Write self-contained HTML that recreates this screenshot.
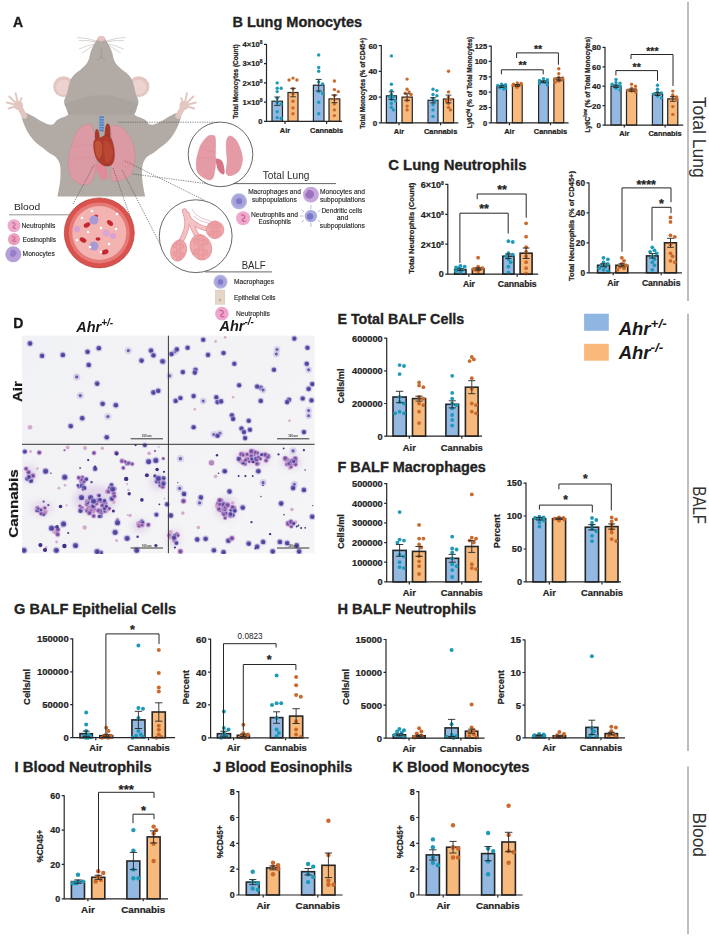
<!DOCTYPE html>
<html><head><meta charset="utf-8"><style>
html,body{margin:0;padding:0;background:#fff;width:709px;height:936px;overflow:hidden}
svg{display:block}
text{font-family:"Liberation Sans",sans-serif}
</style></head><body>
<svg width="709" height="936" viewBox="0 0 709 936">
<rect width="709" height="936" fill="#fff"/>
<rect x="272.0" y="101.2" width="10.5" height="20.2" fill="#93b9e3" stroke="#262626" stroke-width="1.2"/>
<rect x="288.0" y="92.5" width="10.0" height="28.9" fill="#f8b97c" stroke="#262626" stroke-width="1.2"/>
<rect x="313.4" y="85.2" width="10.6" height="36.2" fill="#93b9e3" stroke="#262626" stroke-width="1.2"/>
<rect x="329.0" y="98.9" width="10.8" height="22.5" fill="#f8b97c" stroke="#262626" stroke-width="1.2"/>
<circle cx="277.2" cy="82.9" r="1.7" fill="#1e9ab8"/>
<circle cx="277.2" cy="88.3" r="1.7" fill="#1e9ab8"/>
<circle cx="281.2" cy="88.3" r="1.7" fill="#1e9ab8"/>
<circle cx="277.2" cy="91.6" r="1.7" fill="#1e9ab8"/>
<circle cx="277.2" cy="98.3" r="1.7" fill="#1e9ab8"/>
<circle cx="277.2" cy="102.2" r="1.7" fill="#1e9ab8"/>
<circle cx="281.2" cy="104.1" r="1.7" fill="#1e9ab8"/>
<circle cx="277.2" cy="111.8" r="1.7" fill="#1e9ab8"/>
<circle cx="277.2" cy="117.6" r="1.7" fill="#1e9ab8"/>
<circle cx="281.2" cy="118.5" r="1.7" fill="#1e9ab8"/>
<circle cx="293.0" cy="78.1" r="1.7" fill="#c96a2c"/>
<circle cx="296.9" cy="80.0" r="1.7" fill="#c96a2c"/>
<circle cx="289.1" cy="80.0" r="1.7" fill="#c96a2c"/>
<circle cx="293.0" cy="88.7" r="1.7" fill="#c96a2c"/>
<circle cx="293.0" cy="93.5" r="1.7" fill="#c96a2c"/>
<circle cx="293.0" cy="101.2" r="1.7" fill="#c96a2c"/>
<circle cx="293.0" cy="107.9" r="1.7" fill="#c96a2c"/>
<circle cx="293.0" cy="113.7" r="1.7" fill="#c96a2c"/>
<circle cx="318.7" cy="55.0" r="1.7" fill="#1e9ab8"/>
<circle cx="318.7" cy="67.5" r="1.7" fill="#1e9ab8"/>
<circle cx="318.7" cy="71.3" r="1.7" fill="#1e9ab8"/>
<circle cx="318.7" cy="81.9" r="1.7" fill="#1e9ab8"/>
<circle cx="322.6" cy="83.9" r="1.7" fill="#1e9ab8"/>
<circle cx="318.7" cy="91.6" r="1.7" fill="#1e9ab8"/>
<circle cx="322.6" cy="93.5" r="1.7" fill="#1e9ab8"/>
<circle cx="318.7" cy="102.2" r="1.7" fill="#1e9ab8"/>
<circle cx="318.7" cy="113.7" r="1.7" fill="#1e9ab8"/>
<circle cx="334.4" cy="81.0" r="1.7" fill="#c96a2c"/>
<circle cx="334.4" cy="89.6" r="1.7" fill="#c96a2c"/>
<circle cx="338.3" cy="91.6" r="1.7" fill="#c96a2c"/>
<circle cx="334.4" cy="95.4" r="1.7" fill="#c96a2c"/>
<circle cx="334.4" cy="99.3" r="1.7" fill="#c96a2c"/>
<circle cx="334.4" cy="104.1" r="1.7" fill="#c96a2c"/>
<circle cx="334.4" cy="109.9" r="1.7" fill="#c96a2c"/>
<circle cx="334.4" cy="115.6" r="1.7" fill="#c96a2c"/>
<path d="M277.2 97.0V105.4M274.3 97.0H280.2M274.3 105.4H280.2" stroke="#262626" stroke-width="0.9" fill="none"/>
<path d="M293.0 88.3V96.8M290.2 88.3H295.8M290.2 96.8H295.8" stroke="#262626" stroke-width="0.9" fill="none"/>
<path d="M318.7 79.4V91.0M315.7 79.4H321.7M315.7 91.0H321.7" stroke="#262626" stroke-width="0.9" fill="none"/>
<path d="M334.4 95.0V102.7M331.4 95.0H337.4M331.4 102.7H337.4" stroke="#262626" stroke-width="0.9" fill="none"/>
<path d="M266.5 43.9V121.4H342.0M264.0 121.4H266.5M264.0 102.2H266.5M264.0 82.9H266.5M264.0 63.7H266.5M264.0 44.4H266.5M285.0 121.4V123.9M326.6 121.4V123.9" stroke="#262626" stroke-width="1.2" fill="none"/>
<text x="262.5" y="124.1" font-size="7.6" font-weight="bold" text-anchor="end" fill="#222"  stroke="#222" stroke-width="0.22">0</text>
<text x="262.5" y="104.9" font-size="7.6" font-weight="bold" text-anchor="end" fill="#222"  stroke="#222" stroke-width="0.22">1×10<tspan dy="-3" font-size="5">8</tspan></text>
<text x="262.5" y="85.6" font-size="7.6" font-weight="bold" text-anchor="end" fill="#222"  stroke="#222" stroke-width="0.22">2×10<tspan dy="-3" font-size="5">8</tspan></text>
<text x="262.5" y="66.4" font-size="7.6" font-weight="bold" text-anchor="end" fill="#222"  stroke="#222" stroke-width="0.22">3×10<tspan dy="-3" font-size="5">8</tspan></text>
<text x="262.5" y="47.1" font-size="7.6" font-weight="bold" text-anchor="end" fill="#222"  stroke="#222" stroke-width="0.22">4×10<tspan dy="-3" font-size="5">8</tspan></text>
<text x="285.0" y="133.0" font-size="7.4" font-weight="bold" text-anchor="middle" fill="#222"  stroke="#222" stroke-width="0.22">Air</text>
<text x="326.6" y="133.0" font-size="7.4" font-weight="bold" text-anchor="middle" fill="#222" textLength="33" lengthAdjust="spacingAndGlyphs"  stroke="#222" stroke-width="0.22">Cannabis</text>
<g transform="translate(235.5,81.6) rotate(-90)"><text x="0.0" y="2.3" font-size="6.5" font-weight="bold" text-anchor="middle" fill="#222" textLength="74.5" lengthAdjust="spacingAndGlyphs"  stroke="#222" stroke-width="0.22">Total Monocytes (Count)</text></g>
<rect x="386.4" y="95.8" width="10.1" height="27.0" fill="#93b9e3" stroke="#262626" stroke-width="1.2"/>
<rect x="402.0" y="97.1" width="10.3" height="25.7" fill="#f8b97c" stroke="#262626" stroke-width="1.2"/>
<rect x="428.0" y="100.3" width="10.0" height="22.5" fill="#93b9e3" stroke="#262626" stroke-width="1.2"/>
<rect x="443.4" y="99.0" width="10.2" height="23.8" fill="#f8b97c" stroke="#262626" stroke-width="1.2"/>
<circle cx="391.4" cy="55.9" r="1.7" fill="#1e9ab8"/>
<circle cx="391.4" cy="84.2" r="1.7" fill="#1e9ab8"/>
<circle cx="391.4" cy="90.6" r="1.7" fill="#1e9ab8"/>
<circle cx="391.4" cy="94.5" r="1.7" fill="#1e9ab8"/>
<circle cx="393.4" cy="97.1" r="1.7" fill="#1e9ab8"/>
<circle cx="389.5" cy="97.1" r="1.7" fill="#1e9ab8"/>
<circle cx="391.4" cy="99.6" r="1.7" fill="#1e9ab8"/>
<circle cx="395.4" cy="100.9" r="1.7" fill="#1e9ab8"/>
<circle cx="391.4" cy="103.5" r="1.7" fill="#1e9ab8"/>
<circle cx="391.4" cy="107.4" r="1.7" fill="#1e9ab8"/>
<circle cx="393.4" cy="109.9" r="1.7" fill="#1e9ab8"/>
<circle cx="407.1" cy="79.1" r="1.7" fill="#c96a2c"/>
<circle cx="407.1" cy="89.3" r="1.7" fill="#c96a2c"/>
<circle cx="409.1" cy="91.9" r="1.7" fill="#c96a2c"/>
<circle cx="405.2" cy="93.2" r="1.7" fill="#c96a2c"/>
<circle cx="411.1" cy="94.5" r="1.7" fill="#c96a2c"/>
<circle cx="407.1" cy="97.1" r="1.7" fill="#c96a2c"/>
<circle cx="407.1" cy="100.9" r="1.7" fill="#c96a2c"/>
<circle cx="407.1" cy="106.1" r="1.7" fill="#c96a2c"/>
<circle cx="407.1" cy="109.9" r="1.7" fill="#c96a2c"/>
<circle cx="433.0" cy="89.3" r="1.7" fill="#1e9ab8"/>
<circle cx="436.9" cy="90.6" r="1.7" fill="#1e9ab8"/>
<circle cx="433.0" cy="94.5" r="1.7" fill="#1e9ab8"/>
<circle cx="436.9" cy="95.8" r="1.7" fill="#1e9ab8"/>
<circle cx="433.0" cy="98.4" r="1.7" fill="#1e9ab8"/>
<circle cx="435.0" cy="100.9" r="1.7" fill="#1e9ab8"/>
<circle cx="433.0" cy="104.8" r="1.7" fill="#1e9ab8"/>
<circle cx="433.0" cy="109.9" r="1.7" fill="#1e9ab8"/>
<circle cx="433.0" cy="116.4" r="1.7" fill="#1e9ab8"/>
<circle cx="448.5" cy="71.3" r="1.7" fill="#c96a2c"/>
<circle cx="448.5" cy="91.9" r="1.7" fill="#c96a2c"/>
<circle cx="448.5" cy="97.1" r="1.7" fill="#c96a2c"/>
<circle cx="450.5" cy="99.6" r="1.7" fill="#c96a2c"/>
<circle cx="446.5" cy="100.9" r="1.7" fill="#c96a2c"/>
<circle cx="448.5" cy="103.5" r="1.7" fill="#c96a2c"/>
<circle cx="448.5" cy="107.4" r="1.7" fill="#c96a2c"/>
<circle cx="450.5" cy="109.9" r="1.7" fill="#c96a2c"/>
<path d="M391.4 91.9V99.6M388.6 91.9H394.3M388.6 99.6H394.3" stroke="#262626" stroke-width="0.9" fill="none"/>
<path d="M407.1 93.8V100.3M404.3 93.8H410.0M404.3 100.3H410.0" stroke="#262626" stroke-width="0.9" fill="none"/>
<path d="M433.0 97.7V102.9M430.2 97.7H435.8M430.2 102.9H435.8" stroke="#262626" stroke-width="0.9" fill="none"/>
<path d="M448.5 95.1V102.9M445.6 95.1H451.4M445.6 102.9H451.4" stroke="#262626" stroke-width="0.9" fill="none"/>
<path d="M381.3 45.1V122.8H458.3M378.8 122.8H381.3M378.8 97.1H381.3M378.8 71.3H381.3M378.8 45.6H381.3M399.0 122.8V125.3M440.6 122.8V125.3" stroke="#262626" stroke-width="1.2" fill="none"/>
<text x="377.3" y="125.7" font-size="8" font-weight="bold" text-anchor="end" fill="#222"  stroke="#222" stroke-width="0.22">0</text>
<text x="377.3" y="99.9" font-size="8" font-weight="bold" text-anchor="end" fill="#222"  stroke="#222" stroke-width="0.22">20</text>
<text x="377.3" y="74.2" font-size="8" font-weight="bold" text-anchor="end" fill="#222"  stroke="#222" stroke-width="0.22">40</text>
<text x="377.3" y="48.5" font-size="8" font-weight="bold" text-anchor="end" fill="#222"  stroke="#222" stroke-width="0.22">60</text>
<text x="399.0" y="134.0" font-size="7.4" font-weight="bold" text-anchor="middle" fill="#222"  stroke="#222" stroke-width="0.22">Air</text>
<text x="440.6" y="134.0" font-size="7.4" font-weight="bold" text-anchor="middle" fill="#222" textLength="33.4" lengthAdjust="spacingAndGlyphs"  stroke="#222" stroke-width="0.22">Cannabis</text>
<g transform="translate(362.7,83.3) rotate(-90)"><text x="0.0" y="2.3" font-size="6.5" font-weight="bold" text-anchor="middle" fill="#222" textLength="91" lengthAdjust="spacingAndGlyphs"  stroke="#222" stroke-width="0.22">Total Monocytes (% of CD45+)</text></g>
<rect x="496.8" y="86.6" width="9.7" height="36.2" fill="#93b9e3" stroke="#262626" stroke-width="1.2"/>
<rect x="512.4" y="85.4" width="9.8" height="37.4" fill="#f8b97c" stroke="#262626" stroke-width="1.2"/>
<rect x="538.6" y="81.7" width="9.7" height="41.1" fill="#93b9e3" stroke="#262626" stroke-width="1.2"/>
<rect x="553.9" y="79.2" width="9.8" height="43.6" fill="#f8b97c" stroke="#262626" stroke-width="1.2"/>
<circle cx="501.6" cy="84.1" r="1.7" fill="#1e9ab8"/>
<circle cx="505.6" cy="84.8" r="1.7" fill="#1e9ab8"/>
<circle cx="497.7" cy="85.4" r="1.7" fill="#1e9ab8"/>
<circle cx="502.7" cy="86.0" r="1.7" fill="#1e9ab8"/>
<circle cx="503.8" cy="86.0" r="1.7" fill="#1e9ab8"/>
<circle cx="504.2" cy="87.2" r="1.7" fill="#1e9ab8"/>
<circle cx="499.7" cy="87.8" r="1.7" fill="#1e9ab8"/>
<circle cx="505.5" cy="88.4" r="1.7" fill="#1e9ab8"/>
<circle cx="503.7" cy="89.1" r="1.7" fill="#1e9ab8"/>
<circle cx="517.3" cy="82.9" r="1.7" fill="#c96a2c"/>
<circle cx="521.2" cy="83.5" r="1.7" fill="#c96a2c"/>
<circle cx="513.4" cy="84.1" r="1.7" fill="#c96a2c"/>
<circle cx="521.0" cy="84.8" r="1.7" fill="#c96a2c"/>
<circle cx="513.1" cy="85.4" r="1.7" fill="#c96a2c"/>
<circle cx="517.3" cy="86.0" r="1.7" fill="#c96a2c"/>
<circle cx="517.0" cy="87.2" r="1.7" fill="#c96a2c"/>
<circle cx="543.5" cy="78.6" r="1.7" fill="#1e9ab8"/>
<circle cx="547.4" cy="79.8" r="1.7" fill="#1e9ab8"/>
<circle cx="539.5" cy="80.5" r="1.7" fill="#1e9ab8"/>
<circle cx="547.3" cy="81.1" r="1.7" fill="#1e9ab8"/>
<circle cx="543.5" cy="81.7" r="1.7" fill="#1e9ab8"/>
<circle cx="544.8" cy="82.3" r="1.7" fill="#1e9ab8"/>
<circle cx="539.5" cy="83.5" r="1.7" fill="#1e9ab8"/>
<circle cx="547.4" cy="84.8" r="1.7" fill="#1e9ab8"/>
<circle cx="558.8" cy="68.8" r="1.7" fill="#c96a2c"/>
<circle cx="558.8" cy="73.7" r="1.7" fill="#c96a2c"/>
<circle cx="558.8" cy="77.4" r="1.7" fill="#c96a2c"/>
<circle cx="562.7" cy="78.0" r="1.7" fill="#c96a2c"/>
<circle cx="554.9" cy="78.6" r="1.7" fill="#c96a2c"/>
<circle cx="562.3" cy="79.8" r="1.7" fill="#c96a2c"/>
<circle cx="558.8" cy="81.1" r="1.7" fill="#c96a2c"/>
<circle cx="554.9" cy="82.3" r="1.7" fill="#c96a2c"/>
<path d="M501.6 85.7V87.5M498.9 85.7H504.4M498.9 87.5H504.4" stroke="#262626" stroke-width="0.9" fill="none"/>
<path d="M517.3 84.5V86.3M514.6 84.5H520.0M514.6 86.3H520.0" stroke="#262626" stroke-width="0.9" fill="none"/>
<path d="M543.5 80.8V82.6M540.7 80.8H546.2M540.7 82.6H546.2" stroke="#262626" stroke-width="0.9" fill="none"/>
<path d="M558.8 77.7V80.8M556.1 77.7H561.5M556.1 80.8H561.5" stroke="#262626" stroke-width="0.9" fill="none"/>
<path d="M491.2 45.6V122.8H568.6M488.7 122.8H491.2M488.7 107.5H491.2M488.7 92.1H491.2M488.7 76.8H491.2M488.7 61.4H491.2M488.7 46.1H491.2M509.4 122.8V125.3M550.5 122.8V125.3" stroke="#262626" stroke-width="1.2" fill="none"/>
<text x="487.2" y="125.5" font-size="7.5" font-weight="bold" text-anchor="end" fill="#222"  stroke="#222" stroke-width="0.22">0</text>
<text x="487.2" y="110.2" font-size="7.5" font-weight="bold" text-anchor="end" fill="#222"  stroke="#222" stroke-width="0.22">25</text>
<text x="487.2" y="94.8" font-size="7.5" font-weight="bold" text-anchor="end" fill="#222"  stroke="#222" stroke-width="0.22">50</text>
<text x="487.2" y="79.5" font-size="7.5" font-weight="bold" text-anchor="end" fill="#222"  stroke="#222" stroke-width="0.22">75</text>
<text x="487.2" y="64.1" font-size="7.5" font-weight="bold" text-anchor="end" fill="#222"  stroke="#222" stroke-width="0.22">100</text>
<text x="487.2" y="48.8" font-size="7.5" font-weight="bold" text-anchor="end" fill="#222"  stroke="#222" stroke-width="0.22">125</text>
<text x="509.4" y="134.0" font-size="7.4" font-weight="bold" text-anchor="middle" fill="#222"  stroke="#222" stroke-width="0.22">Air</text>
<text x="550.5" y="134.0" font-size="7.4" font-weight="bold" text-anchor="middle" fill="#222" textLength="33.4" lengthAdjust="spacingAndGlyphs"  stroke="#222" stroke-width="0.22">Cannabis</text>
<g transform="translate(469.7,82.5) rotate(-90)"><text x="0.0" y="2.3" font-size="6.5" font-weight="bold" text-anchor="middle" fill="#222" textLength="91.4" lengthAdjust="spacingAndGlyphs"  stroke="#222" stroke-width="0.22">Ly6C<tspan dy="-2.5" font-size="4.5">hi</tspan><tspan dy="2.5"> (% of Total Monocytes)</tspan></text></g>
<path d="M501.4 74.3V69.8H543.2V74.3" stroke="#262626" stroke-width="1" fill="none"/>
<text x="522.5" y="69.2" font-size="10.5" font-weight="bold" text-anchor="middle" fill="#222"  stroke="#222" stroke-width="0.22">**</text>
<path d="M516.6 58.0V52.9H558.4V64.7" stroke="#262626" stroke-width="1" fill="none"/>
<text x="538.0" y="53.1" font-size="10.5" font-weight="bold" text-anchor="middle" fill="#222"  stroke="#222" stroke-width="0.22">**</text>
<rect x="611.0" y="86.2" width="10.1" height="38.8" fill="#93b9e3" stroke="#262626" stroke-width="1.2"/>
<rect x="626.5" y="90.1" width="10.2" height="35.0" fill="#f8b97c" stroke="#262626" stroke-width="1.2"/>
<rect x="652.4" y="94.0" width="10.2" height="31.1" fill="#93b9e3" stroke="#262626" stroke-width="1.2"/>
<rect x="667.7" y="98.9" width="10.1" height="26.2" fill="#f8b97c" stroke="#262626" stroke-width="1.2"/>
<circle cx="616.0" cy="79.5" r="1.7" fill="#1e9ab8"/>
<circle cx="616.0" cy="82.4" r="1.7" fill="#1e9ab8"/>
<circle cx="620.0" cy="83.3" r="1.7" fill="#1e9ab8"/>
<circle cx="612.1" cy="84.3" r="1.7" fill="#1e9ab8"/>
<circle cx="616.0" cy="85.3" r="1.7" fill="#1e9ab8"/>
<circle cx="620.0" cy="86.2" r="1.7" fill="#1e9ab8"/>
<circle cx="616.0" cy="88.2" r="1.7" fill="#1e9ab8"/>
<circle cx="620.0" cy="90.1" r="1.7" fill="#1e9ab8"/>
<circle cx="631.6" cy="84.3" r="1.7" fill="#c96a2c"/>
<circle cx="635.5" cy="86.2" r="1.7" fill="#c96a2c"/>
<circle cx="631.6" cy="88.2" r="1.7" fill="#c96a2c"/>
<circle cx="635.5" cy="89.2" r="1.7" fill="#c96a2c"/>
<circle cx="627.7" cy="90.1" r="1.7" fill="#c96a2c"/>
<circle cx="631.6" cy="91.1" r="1.7" fill="#c96a2c"/>
<circle cx="635.5" cy="92.1" r="1.7" fill="#c96a2c"/>
<circle cx="657.5" cy="85.3" r="1.7" fill="#1e9ab8"/>
<circle cx="657.5" cy="89.2" r="1.7" fill="#1e9ab8"/>
<circle cx="657.5" cy="92.1" r="1.7" fill="#1e9ab8"/>
<circle cx="661.4" cy="93.0" r="1.7" fill="#1e9ab8"/>
<circle cx="653.6" cy="94.0" r="1.7" fill="#1e9ab8"/>
<circle cx="657.5" cy="96.0" r="1.7" fill="#1e9ab8"/>
<circle cx="661.4" cy="97.9" r="1.7" fill="#1e9ab8"/>
<circle cx="672.8" cy="91.1" r="1.7" fill="#c96a2c"/>
<circle cx="672.8" cy="95.0" r="1.7" fill="#c96a2c"/>
<circle cx="676.7" cy="96.9" r="1.7" fill="#c96a2c"/>
<circle cx="672.8" cy="97.9" r="1.7" fill="#c96a2c"/>
<circle cx="676.7" cy="99.8" r="1.7" fill="#c96a2c"/>
<circle cx="672.8" cy="106.6" r="1.7" fill="#c96a2c"/>
<circle cx="672.8" cy="114.4" r="1.7" fill="#c96a2c"/>
<path d="M616.0 85.1V87.4M613.2 85.1H618.9M613.2 87.4H618.9" stroke="#262626" stroke-width="0.9" fill="none"/>
<path d="M631.6 89.0V91.3M628.7 89.0H634.5M628.7 91.3H634.5" stroke="#262626" stroke-width="0.9" fill="none"/>
<path d="M657.5 92.6V95.5M654.6 92.6H660.4M654.6 95.5H660.4" stroke="#262626" stroke-width="0.9" fill="none"/>
<path d="M672.8 96.4V101.3M669.9 96.4H675.6M669.9 101.3H675.6" stroke="#262626" stroke-width="0.9" fill="none"/>
<path d="M605.0 46.9V125.1H683.3M602.5 125.1H605.0M602.5 105.7H605.0M602.5 86.2H605.0M602.5 66.8H605.0M602.5 47.4H605.0M624.3 125.1V127.6M665.1 125.1V127.6" stroke="#262626" stroke-width="1.2" fill="none"/>
<text x="601.0" y="128.0" font-size="8" font-weight="bold" text-anchor="end" fill="#222"  stroke="#222" stroke-width="0.22">0</text>
<text x="601.0" y="108.6" font-size="8" font-weight="bold" text-anchor="end" fill="#222"  stroke="#222" stroke-width="0.22">20</text>
<text x="601.0" y="89.1" font-size="8" font-weight="bold" text-anchor="end" fill="#222"  stroke="#222" stroke-width="0.22">40</text>
<text x="601.0" y="69.7" font-size="8" font-weight="bold" text-anchor="end" fill="#222"  stroke="#222" stroke-width="0.22">60</text>
<text x="601.0" y="50.3" font-size="8" font-weight="bold" text-anchor="end" fill="#222"  stroke="#222" stroke-width="0.22">80</text>
<text x="624.3" y="136.0" font-size="7.4" font-weight="bold" text-anchor="middle" fill="#222"  stroke="#222" stroke-width="0.22">Air</text>
<text x="665.1" y="136.0" font-size="7.4" font-weight="bold" text-anchor="middle" fill="#222" textLength="33.3" lengthAdjust="spacingAndGlyphs"  stroke="#222" stroke-width="0.22">Cannabis</text>
<g transform="translate(587.6,84.6) rotate(-90)"><text x="0.0" y="2.3" font-size="6.5" font-weight="bold" text-anchor="middle" fill="#222" textLength="95.6" lengthAdjust="spacingAndGlyphs"  stroke="#222" stroke-width="0.22">Ly6C<tspan dy="-2.5" font-size="4.5">low</tspan><tspan dy="2.5"> (% of Total Monocytes)</tspan></text></g>
<path d="M615.9 75.4V70.6H657.5V80.8" stroke="#262626" stroke-width="1" fill="none"/>
<text x="636.7" y="70.8" font-size="10.5" font-weight="bold" text-anchor="middle" fill="#222"  stroke="#222" stroke-width="0.22">**</text>
<path d="M631.0 59.0V54.5H673.0V85.9" stroke="#262626" stroke-width="1" fill="none"/>
<text x="652.4" y="54.8" font-size="10.5" font-weight="bold" text-anchor="middle" fill="#222"  stroke="#222" stroke-width="0.22">***</text>
<rect x="454.7" y="269.7" width="11.3" height="4.5" fill="#93b9e3" stroke="#262626" stroke-width="1.6"/>
<rect x="472.3" y="269.0" width="11.7" height="5.2" fill="#f8b97c" stroke="#262626" stroke-width="1.6"/>
<rect x="502.8" y="256.2" width="11.2" height="18.0" fill="#93b9e3" stroke="#262626" stroke-width="1.6"/>
<rect x="520.1" y="253.2" width="12.0" height="21.0" fill="#f8b97c" stroke="#262626" stroke-width="1.6"/>
<circle cx="460.4" cy="266.0" r="1.9" fill="#1e9ab8"/>
<circle cx="464.7" cy="266.7" r="1.9" fill="#1e9ab8"/>
<circle cx="456.0" cy="267.5" r="1.9" fill="#1e9ab8"/>
<circle cx="458.6" cy="268.2" r="1.9" fill="#1e9ab8"/>
<circle cx="462.5" cy="269.7" r="1.9" fill="#1e9ab8"/>
<circle cx="456.0" cy="271.2" r="1.9" fill="#1e9ab8"/>
<circle cx="460.4" cy="272.7" r="1.9" fill="#1e9ab8"/>
<circle cx="478.1" cy="257.7" r="1.9" fill="#c96a2c"/>
<circle cx="478.1" cy="266.7" r="1.9" fill="#c96a2c"/>
<circle cx="482.5" cy="268.2" r="1.9" fill="#c96a2c"/>
<circle cx="473.8" cy="269.0" r="1.9" fill="#c96a2c"/>
<circle cx="474.5" cy="269.7" r="1.9" fill="#c96a2c"/>
<circle cx="478.1" cy="271.2" r="1.9" fill="#c96a2c"/>
<circle cx="508.4" cy="241.2" r="1.9" fill="#1e9ab8"/>
<circle cx="512.8" cy="242.0" r="1.9" fill="#1e9ab8"/>
<circle cx="508.4" cy="253.2" r="1.9" fill="#1e9ab8"/>
<circle cx="512.8" cy="254.7" r="1.9" fill="#1e9ab8"/>
<circle cx="506.2" cy="256.2" r="1.9" fill="#1e9ab8"/>
<circle cx="508.4" cy="259.2" r="1.9" fill="#1e9ab8"/>
<circle cx="510.6" cy="262.2" r="1.9" fill="#1e9ab8"/>
<circle cx="508.4" cy="266.7" r="1.9" fill="#1e9ab8"/>
<circle cx="508.4" cy="272.7" r="1.9" fill="#1e9ab8"/>
<circle cx="526.1" cy="223.3" r="1.9" fill="#c96a2c"/>
<circle cx="526.1" cy="236.7" r="1.9" fill="#c96a2c"/>
<circle cx="526.1" cy="247.2" r="1.9" fill="#c96a2c"/>
<circle cx="526.1" cy="251.7" r="1.9" fill="#c96a2c"/>
<circle cx="526.1" cy="256.2" r="1.9" fill="#c96a2c"/>
<circle cx="526.1" cy="262.2" r="1.9" fill="#c96a2c"/>
<circle cx="526.1" cy="268.2" r="1.9" fill="#c96a2c"/>
<circle cx="526.1" cy="273.5" r="1.9" fill="#c96a2c"/>
<path d="M460.4 268.8V270.6M457.2 268.8H463.5M457.2 270.6H463.5" stroke="#262626" stroke-width="0.9" fill="none"/>
<path d="M478.1 267.8V270.2M474.9 267.8H481.4M474.9 270.2H481.4" stroke="#262626" stroke-width="0.9" fill="none"/>
<path d="M508.4 254.0V258.5M505.3 254.0H511.5M505.3 258.5H511.5" stroke="#262626" stroke-width="0.9" fill="none"/>
<path d="M526.1 248.0V258.5M522.7 248.0H529.5M522.7 258.5H529.5" stroke="#262626" stroke-width="0.9" fill="none"/>
<path d="M447.8 183.8V274.2H538.2M445.3 274.2H447.8M445.3 244.2H447.8M445.3 214.3H447.8M445.3 184.3H447.8M468.9 274.2V276.7M517.2 274.2V276.7" stroke="#262626" stroke-width="1.2" fill="none"/>
<text x="443.8" y="277.4" font-size="9" font-weight="bold" text-anchor="end" fill="#222"  stroke="#222" stroke-width="0.22">0</text>
<text x="443.8" y="247.5" font-size="9" font-weight="bold" text-anchor="end" fill="#222"  stroke="#222" stroke-width="0.22">2×10<tspan dy="-3" font-size="5">8</tspan></text>
<text x="443.8" y="217.5" font-size="9" font-weight="bold" text-anchor="end" fill="#222"  stroke="#222" stroke-width="0.22">4×10<tspan dy="-3" font-size="5">8</tspan></text>
<text x="443.8" y="187.5" font-size="9" font-weight="bold" text-anchor="end" fill="#222"  stroke="#222" stroke-width="0.22">6×10<tspan dy="-3" font-size="5">8</tspan></text>
<text x="468.9" y="287.2" font-size="8.6" font-weight="bold" text-anchor="middle" fill="#222"  stroke="#222" stroke-width="0.22">Air</text>
<text x="517.2" y="287.2" font-size="8.6" font-weight="bold" text-anchor="middle" fill="#222" textLength="39" lengthAdjust="spacingAndGlyphs"  stroke="#222" stroke-width="0.22">Cannabis</text>
<g transform="translate(411.5,228.2) rotate(-90)"><text x="0.0" y="2.7" font-size="7.4" font-weight="bold" text-anchor="middle" fill="#222" textLength="91" lengthAdjust="spacingAndGlyphs"  stroke="#222" stroke-width="0.22">Total Neutrophils (Count)</text></g>
<path d="M459.9 262.9V213.2H508.2V233.5" stroke="#262626" stroke-width="1" fill="none"/>
<text x="484.0" y="213.2" font-size="12.5" font-weight="bold" text-anchor="middle" fill="#222"  stroke="#222" stroke-width="0.22">**</text>
<path d="M477.2 199.2V194.0H526.2V217.7" stroke="#262626" stroke-width="1" fill="none"/>
<text x="502.0" y="194.3" font-size="12.5" font-weight="bold" text-anchor="middle" fill="#222"  stroke="#222" stroke-width="0.22">**</text>
<rect x="597.6" y="265.3" width="11.9" height="7.5" fill="#93b9e3" stroke="#262626" stroke-width="1.6"/>
<rect x="615.9" y="265.3" width="11.9" height="7.5" fill="#f8b97c" stroke="#262626" stroke-width="1.6"/>
<rect x="646.5" y="255.9" width="11.6" height="16.9" fill="#93b9e3" stroke="#262626" stroke-width="1.6"/>
<rect x="664.5" y="242.8" width="11.9" height="30.0" fill="#f8b97c" stroke="#262626" stroke-width="1.6"/>
<circle cx="603.5" cy="257.8" r="1.9" fill="#1e9ab8"/>
<circle cx="607.9" cy="259.3" r="1.9" fill="#1e9ab8"/>
<circle cx="603.5" cy="262.3" r="1.9" fill="#1e9ab8"/>
<circle cx="607.9" cy="263.8" r="1.9" fill="#1e9ab8"/>
<circle cx="601.4" cy="265.3" r="1.9" fill="#1e9ab8"/>
<circle cx="605.7" cy="266.8" r="1.9" fill="#1e9ab8"/>
<circle cx="599.2" cy="268.3" r="1.9" fill="#1e9ab8"/>
<circle cx="603.5" cy="269.8" r="1.9" fill="#1e9ab8"/>
<circle cx="607.9" cy="271.3" r="1.9" fill="#1e9ab8"/>
<circle cx="621.8" cy="257.8" r="1.9" fill="#c96a2c"/>
<circle cx="624.0" cy="260.8" r="1.9" fill="#c96a2c"/>
<circle cx="621.8" cy="263.8" r="1.9" fill="#c96a2c"/>
<circle cx="626.2" cy="265.3" r="1.9" fill="#c96a2c"/>
<circle cx="619.7" cy="266.8" r="1.9" fill="#c96a2c"/>
<circle cx="624.0" cy="268.3" r="1.9" fill="#c96a2c"/>
<circle cx="617.5" cy="269.8" r="1.9" fill="#c96a2c"/>
<circle cx="652.3" cy="247.3" r="1.9" fill="#1e9ab8"/>
<circle cx="654.5" cy="250.3" r="1.9" fill="#1e9ab8"/>
<circle cx="650.1" cy="251.8" r="1.9" fill="#1e9ab8"/>
<circle cx="656.7" cy="253.3" r="1.9" fill="#1e9ab8"/>
<circle cx="652.3" cy="256.3" r="1.9" fill="#1e9ab8"/>
<circle cx="654.5" cy="259.3" r="1.9" fill="#1e9ab8"/>
<circle cx="652.3" cy="262.3" r="1.9" fill="#1e9ab8"/>
<circle cx="654.5" cy="265.3" r="1.9" fill="#1e9ab8"/>
<circle cx="652.3" cy="269.8" r="1.9" fill="#1e9ab8"/>
<circle cx="670.5" cy="217.4" r="1.9" fill="#c96a2c"/>
<circle cx="670.5" cy="221.9" r="1.9" fill="#c96a2c"/>
<circle cx="670.5" cy="235.3" r="1.9" fill="#c96a2c"/>
<circle cx="674.8" cy="236.8" r="1.9" fill="#c96a2c"/>
<circle cx="670.5" cy="244.3" r="1.9" fill="#c96a2c"/>
<circle cx="670.5" cy="253.3" r="1.9" fill="#c96a2c"/>
<circle cx="672.6" cy="256.3" r="1.9" fill="#c96a2c"/>
<circle cx="670.5" cy="260.8" r="1.9" fill="#c96a2c"/>
<circle cx="674.8" cy="262.3" r="1.9" fill="#c96a2c"/>
<path d="M603.5 263.8V266.8M600.2 263.8H606.9M600.2 266.8H606.9" stroke="#262626" stroke-width="0.9" fill="none"/>
<path d="M621.8 263.8V266.8M618.5 263.8H625.2M618.5 266.8H625.2" stroke="#262626" stroke-width="0.9" fill="none"/>
<path d="M652.3 253.6V258.1M649.1 253.6H655.5M649.1 258.1H655.5" stroke="#262626" stroke-width="0.9" fill="none"/>
<path d="M670.5 238.3V247.3M667.1 238.3H673.8M667.1 247.3H673.8" stroke="#262626" stroke-width="0.9" fill="none"/>
<path d="M589.0 182.4V272.8H681.9M586.5 272.8H589.0M586.5 242.8H589.0M586.5 212.9H589.0M586.5 182.9H589.0M613.2 272.8V275.3M661.2 272.8V275.3" stroke="#262626" stroke-width="1.2" fill="none"/>
<text x="585.0" y="275.8" font-size="8.3" font-weight="bold" text-anchor="end" fill="#222"  stroke="#222" stroke-width="0.22">0</text>
<text x="585.0" y="245.8" font-size="8.3" font-weight="bold" text-anchor="end" fill="#222"  stroke="#222" stroke-width="0.22">20</text>
<text x="585.0" y="215.9" font-size="8.3" font-weight="bold" text-anchor="end" fill="#222"  stroke="#222" stroke-width="0.22">40</text>
<text x="585.0" y="185.9" font-size="8.3" font-weight="bold" text-anchor="end" fill="#222"  stroke="#222" stroke-width="0.22">60</text>
<text x="613.2" y="285.6" font-size="8.6" font-weight="bold" text-anchor="middle" fill="#222"  stroke="#222" stroke-width="0.22">Air</text>
<text x="661.2" y="285.6" font-size="8.6" font-weight="bold" text-anchor="middle" fill="#222" textLength="38.5" lengthAdjust="spacingAndGlyphs"  stroke="#222" stroke-width="0.22">Cannabis</text>
<g transform="translate(571.4,226.0) rotate(-90)"><text x="0.0" y="2.7" font-size="7.4" font-weight="bold" text-anchor="middle" fill="#222" textLength="110" lengthAdjust="spacingAndGlyphs"  stroke="#222" stroke-width="0.22">Total Neutrophils (% of CD45+)</text></g>
<path d="M622.0 251.7V187.9H671.0V202.2" stroke="#262626" stroke-width="1" fill="none"/>
<text x="646.2" y="189.2" font-size="12.5" font-weight="bold" text-anchor="middle" fill="#222"  stroke="#222" stroke-width="0.22">****</text>
<path d="M652.0 240.7V207.3H671.0V213.2" stroke="#262626" stroke-width="1" fill="none"/>
<text x="661.4" y="207.6" font-size="12.5" font-weight="bold" text-anchor="middle" fill="#222"  stroke="#222" stroke-width="0.22">*</text>
<rect x="393.0" y="397.0" width="13.2" height="39.2" fill="#93b9e3" stroke="#262626" stroke-width="1.6"/>
<rect x="412.5" y="398.6" width="13.1" height="37.6" fill="#f8b97c" stroke="#262626" stroke-width="1.6"/>
<rect x="445.9" y="404.3" width="12.7" height="31.9" fill="#93b9e3" stroke="#262626" stroke-width="1.6"/>
<rect x="465.4" y="387.2" width="12.7" height="49.0" fill="#f8b97c" stroke="#262626" stroke-width="1.6"/>
<circle cx="399.6" cy="365.1" r="1.9" fill="#1e9ab8"/>
<circle cx="404.0" cy="366.0" r="1.9" fill="#1e9ab8"/>
<circle cx="399.6" cy="374.1" r="1.9" fill="#1e9ab8"/>
<circle cx="399.6" cy="397.0" r="1.9" fill="#1e9ab8"/>
<circle cx="399.6" cy="401.9" r="1.9" fill="#1e9ab8"/>
<circle cx="404.0" cy="403.5" r="1.9" fill="#1e9ab8"/>
<circle cx="399.6" cy="411.7" r="1.9" fill="#1e9ab8"/>
<circle cx="404.0" cy="413.3" r="1.9" fill="#1e9ab8"/>
<circle cx="395.2" cy="413.3" r="1.9" fill="#1e9ab8"/>
<circle cx="419.1" cy="382.3" r="1.9" fill="#c96a2c"/>
<circle cx="419.1" cy="385.6" r="1.9" fill="#c96a2c"/>
<circle cx="423.4" cy="387.2" r="1.9" fill="#c96a2c"/>
<circle cx="419.1" cy="397.0" r="1.9" fill="#c96a2c"/>
<circle cx="423.4" cy="398.6" r="1.9" fill="#c96a2c"/>
<circle cx="419.1" cy="403.5" r="1.9" fill="#c96a2c"/>
<circle cx="423.4" cy="405.2" r="1.9" fill="#c96a2c"/>
<circle cx="419.1" cy="411.7" r="1.9" fill="#c96a2c"/>
<circle cx="419.1" cy="423.1" r="1.9" fill="#c96a2c"/>
<circle cx="452.2" cy="375.8" r="1.9" fill="#1e9ab8"/>
<circle cx="452.2" cy="392.9" r="1.9" fill="#1e9ab8"/>
<circle cx="452.2" cy="398.6" r="1.9" fill="#1e9ab8"/>
<circle cx="452.2" cy="403.5" r="1.9" fill="#1e9ab8"/>
<circle cx="456.6" cy="405.2" r="1.9" fill="#1e9ab8"/>
<circle cx="452.2" cy="408.4" r="1.9" fill="#1e9ab8"/>
<circle cx="452.2" cy="415.0" r="1.9" fill="#1e9ab8"/>
<circle cx="452.2" cy="419.9" r="1.9" fill="#1e9ab8"/>
<circle cx="452.2" cy="425.6" r="1.9" fill="#1e9ab8"/>
<circle cx="471.8" cy="357.0" r="1.9" fill="#c96a2c"/>
<circle cx="473.9" cy="359.4" r="1.9" fill="#c96a2c"/>
<circle cx="469.6" cy="361.1" r="1.9" fill="#c96a2c"/>
<circle cx="471.8" cy="378.2" r="1.9" fill="#c96a2c"/>
<circle cx="471.8" cy="388.8" r="1.9" fill="#c96a2c"/>
<circle cx="471.8" cy="403.5" r="1.9" fill="#c96a2c"/>
<circle cx="476.1" cy="405.2" r="1.9" fill="#c96a2c"/>
<circle cx="471.8" cy="411.7" r="1.9" fill="#c96a2c"/>
<circle cx="476.1" cy="413.3" r="1.9" fill="#c96a2c"/>
<path d="M399.6 391.3V402.7M395.9 391.3H403.3M395.9 402.7H403.3" stroke="#262626" stroke-width="0.9" fill="none"/>
<path d="M419.1 396.2V401.1M415.4 396.2H422.7M415.4 401.1H422.7" stroke="#262626" stroke-width="0.9" fill="none"/>
<path d="M452.2 400.8V407.9M448.7 400.8H455.8M448.7 407.9H455.8" stroke="#262626" stroke-width="0.9" fill="none"/>
<path d="M471.8 380.7V393.7M468.2 380.7H475.3M468.2 393.7H475.3" stroke="#262626" stroke-width="0.9" fill="none"/>
<path d="M386.7 337.7V436.2H482.0M384.2 436.2H386.7M384.2 403.5H386.7M384.2 370.9H386.7M384.2 338.2H386.7M409.3 436.2V438.7M461.8 436.2V438.7" stroke="#262626" stroke-width="1.2" fill="none"/>
<text x="382.7" y="439.5" font-size="9.2" font-weight="bold" text-anchor="end" fill="#222"  stroke="#222" stroke-width="0.22">0</text>
<text x="382.7" y="406.8" font-size="9.2" font-weight="bold" text-anchor="end" fill="#222"  stroke="#222" stroke-width="0.22">200000</text>
<text x="382.7" y="374.2" font-size="9.2" font-weight="bold" text-anchor="end" fill="#222"  stroke="#222" stroke-width="0.22">400000</text>
<text x="382.7" y="341.5" font-size="9.2" font-weight="bold" text-anchor="end" fill="#222"  stroke="#222" stroke-width="0.22">600000</text>
<text x="409.3" y="450.5" font-size="9.3" font-weight="bold" text-anchor="middle" fill="#222"  stroke="#222" stroke-width="0.22">Air</text>
<text x="461.8" y="450.5" font-size="9.3" font-weight="bold" text-anchor="middle" fill="#222" textLength="42" lengthAdjust="spacingAndGlyphs"  stroke="#222" stroke-width="0.22">Cannabis</text>
<g transform="translate(340.6,386.0) rotate(-90)"><text x="0.0" y="3.2" font-size="9" font-weight="bold" text-anchor="middle" fill="#222" textLength="35" lengthAdjust="spacingAndGlyphs"  stroke="#222" stroke-width="0.22">Cells/ml</text></g>
<rect x="393.0" y="550.4" width="13.2" height="31.5" fill="#93b9e3" stroke="#262626" stroke-width="1.6"/>
<rect x="412.5" y="551.4" width="13.1" height="30.5" fill="#f8b97c" stroke="#262626" stroke-width="1.6"/>
<rect x="445.9" y="558.3" width="12.7" height="23.6" fill="#93b9e3" stroke="#262626" stroke-width="1.6"/>
<rect x="465.4" y="546.5" width="12.7" height="35.4" fill="#f8b97c" stroke="#262626" stroke-width="1.6"/>
<circle cx="399.6" cy="512.1" r="1.9" fill="#1e9ab8"/>
<circle cx="399.6" cy="539.6" r="1.9" fill="#1e9ab8"/>
<circle cx="404.0" cy="540.6" r="1.9" fill="#1e9ab8"/>
<circle cx="397.4" cy="542.6" r="1.9" fill="#1e9ab8"/>
<circle cx="399.6" cy="554.4" r="1.9" fill="#1e9ab8"/>
<circle cx="404.0" cy="556.3" r="1.9" fill="#1e9ab8"/>
<circle cx="399.6" cy="562.2" r="1.9" fill="#1e9ab8"/>
<circle cx="399.6" cy="567.2" r="1.9" fill="#1e9ab8"/>
<circle cx="404.0" cy="568.1" r="1.9" fill="#1e9ab8"/>
<circle cx="419.1" cy="524.9" r="1.9" fill="#c96a2c"/>
<circle cx="419.1" cy="538.6" r="1.9" fill="#c96a2c"/>
<circle cx="423.4" cy="538.6" r="1.9" fill="#c96a2c"/>
<circle cx="419.1" cy="544.5" r="1.9" fill="#c96a2c"/>
<circle cx="421.2" cy="547.5" r="1.9" fill="#c96a2c"/>
<circle cx="419.1" cy="556.3" r="1.9" fill="#c96a2c"/>
<circle cx="419.1" cy="561.3" r="1.9" fill="#c96a2c"/>
<circle cx="419.1" cy="566.2" r="1.9" fill="#c96a2c"/>
<circle cx="419.1" cy="574.0" r="1.9" fill="#c96a2c"/>
<circle cx="452.2" cy="536.7" r="1.9" fill="#1e9ab8"/>
<circle cx="452.2" cy="548.5" r="1.9" fill="#1e9ab8"/>
<circle cx="456.6" cy="549.5" r="1.9" fill="#1e9ab8"/>
<circle cx="452.2" cy="552.4" r="1.9" fill="#1e9ab8"/>
<circle cx="452.2" cy="558.3" r="1.9" fill="#1e9ab8"/>
<circle cx="452.2" cy="564.2" r="1.9" fill="#1e9ab8"/>
<circle cx="456.6" cy="566.2" r="1.9" fill="#1e9ab8"/>
<circle cx="452.2" cy="570.1" r="1.9" fill="#1e9ab8"/>
<circle cx="452.2" cy="577.0" r="1.9" fill="#1e9ab8"/>
<circle cx="471.8" cy="494.4" r="1.9" fill="#c96a2c"/>
<circle cx="471.8" cy="537.7" r="1.9" fill="#c96a2c"/>
<circle cx="476.1" cy="538.6" r="1.9" fill="#c96a2c"/>
<circle cx="469.6" cy="540.6" r="1.9" fill="#c96a2c"/>
<circle cx="473.9" cy="542.6" r="1.9" fill="#c96a2c"/>
<circle cx="471.8" cy="564.2" r="1.9" fill="#c96a2c"/>
<circle cx="471.8" cy="568.1" r="1.9" fill="#c96a2c"/>
<circle cx="476.1" cy="569.1" r="1.9" fill="#c96a2c"/>
<path d="M399.6 544.5V556.3M395.9 544.5H403.3M395.9 556.3H403.3" stroke="#262626" stroke-width="0.9" fill="none"/>
<path d="M419.1 546.5V556.3M415.4 546.5H422.7M415.4 556.3H422.7" stroke="#262626" stroke-width="0.9" fill="none"/>
<path d="M452.2 554.4V562.2M448.7 554.4H455.8M448.7 562.2H455.8" stroke="#262626" stroke-width="0.9" fill="none"/>
<path d="M471.8 540.6V552.4M468.2 540.6H475.3M468.2 552.4H475.3" stroke="#262626" stroke-width="0.9" fill="none"/>
<path d="M386.7 483.1V581.9H482.0M384.2 581.9H386.7M384.2 562.2H386.7M384.2 542.6H386.7M384.2 522.9H386.7M384.2 503.3H386.7M384.2 483.6H386.7M409.3 581.9V584.4M461.8 581.9V584.4" stroke="#262626" stroke-width="1.2" fill="none"/>
<text x="382.7" y="585.2" font-size="9.2" font-weight="bold" text-anchor="end" fill="#222"  stroke="#222" stroke-width="0.22">0</text>
<text x="382.7" y="565.6" font-size="9.2" font-weight="bold" text-anchor="end" fill="#222"  stroke="#222" stroke-width="0.22">100000</text>
<text x="382.7" y="545.9" font-size="9.2" font-weight="bold" text-anchor="end" fill="#222"  stroke="#222" stroke-width="0.22">200000</text>
<text x="382.7" y="526.2" font-size="9.2" font-weight="bold" text-anchor="end" fill="#222"  stroke="#222" stroke-width="0.22">300000</text>
<text x="382.7" y="506.6" font-size="9.2" font-weight="bold" text-anchor="end" fill="#222"  stroke="#222" stroke-width="0.22">400000</text>
<text x="382.7" y="486.9" font-size="9.2" font-weight="bold" text-anchor="end" fill="#222"  stroke="#222" stroke-width="0.22">500000</text>
<text x="409.3" y="595.7" font-size="9.3" font-weight="bold" text-anchor="middle" fill="#222"  stroke="#222" stroke-width="0.22">Air</text>
<text x="461.8" y="595.7" font-size="9.3" font-weight="bold" text-anchor="middle" fill="#222" textLength="42" lengthAdjust="spacingAndGlyphs"  stroke="#222" stroke-width="0.22">Cannabis</text>
<g transform="translate(340.6,531.6) rotate(-90)"><text x="0.0" y="3.2" font-size="9" font-weight="bold" text-anchor="middle" fill="#222" textLength="35" lengthAdjust="spacingAndGlyphs"  stroke="#222" stroke-width="0.22">Cells/ml</text></g>
<rect x="533.0" y="518.7" width="12.7" height="63.2" fill="#93b9e3" stroke="#262626" stroke-width="1.6"/>
<rect x="552.5" y="518.7" width="13.1" height="63.2" fill="#f8b97c" stroke="#262626" stroke-width="1.6"/>
<rect x="585.3" y="527.2" width="13.3" height="54.7" fill="#93b9e3" stroke="#262626" stroke-width="1.6"/>
<rect x="605.4" y="526.6" width="12.6" height="55.3" fill="#f8b97c" stroke="#262626" stroke-width="1.6"/>
<circle cx="539.4" cy="516.7" r="1.9" fill="#1e9ab8"/>
<circle cx="543.7" cy="517.4" r="1.9" fill="#1e9ab8"/>
<circle cx="535.0" cy="518.0" r="1.9" fill="#1e9ab8"/>
<circle cx="538.8" cy="518.7" r="1.9" fill="#1e9ab8"/>
<circle cx="540.0" cy="519.3" r="1.9" fill="#1e9ab8"/>
<circle cx="543.7" cy="520.6" r="1.9" fill="#1e9ab8"/>
<circle cx="539.4" cy="522.6" r="1.9" fill="#1e9ab8"/>
<circle cx="539.4" cy="526.6" r="1.9" fill="#1e9ab8"/>
<circle cx="559.0" cy="517.4" r="1.9" fill="#c96a2c"/>
<circle cx="563.4" cy="518.0" r="1.9" fill="#c96a2c"/>
<circle cx="554.7" cy="518.7" r="1.9" fill="#c96a2c"/>
<circle cx="564.1" cy="519.3" r="1.9" fill="#c96a2c"/>
<circle cx="558.6" cy="520.0" r="1.9" fill="#c96a2c"/>
<circle cx="559.1" cy="520.6" r="1.9" fill="#c96a2c"/>
<circle cx="592.0" cy="518.0" r="1.9" fill="#1e9ab8"/>
<circle cx="596.3" cy="520.0" r="1.9" fill="#1e9ab8"/>
<circle cx="592.0" cy="522.6" r="1.9" fill="#1e9ab8"/>
<circle cx="592.0" cy="525.9" r="1.9" fill="#1e9ab8"/>
<circle cx="592.0" cy="529.2" r="1.9" fill="#1e9ab8"/>
<circle cx="596.3" cy="531.2" r="1.9" fill="#1e9ab8"/>
<circle cx="592.0" cy="535.8" r="1.9" fill="#1e9ab8"/>
<circle cx="592.0" cy="541.1" r="1.9" fill="#1e9ab8"/>
<circle cx="611.7" cy="517.4" r="1.9" fill="#c96a2c"/>
<circle cx="616.1" cy="519.3" r="1.9" fill="#c96a2c"/>
<circle cx="611.7" cy="521.3" r="1.9" fill="#c96a2c"/>
<circle cx="611.7" cy="524.6" r="1.9" fill="#c96a2c"/>
<circle cx="611.7" cy="529.2" r="1.9" fill="#c96a2c"/>
<circle cx="611.7" cy="532.5" r="1.9" fill="#c96a2c"/>
<circle cx="611.7" cy="539.1" r="1.9" fill="#c96a2c"/>
<circle cx="616.1" cy="541.1" r="1.9" fill="#c96a2c"/>
<path d="M539.4 517.4V520.0M535.8 517.4H542.9M535.8 520.0H542.9" stroke="#262626" stroke-width="0.9" fill="none"/>
<path d="M559.0 518.0V519.3M555.4 518.0H562.7M555.4 519.3H562.7" stroke="#262626" stroke-width="0.9" fill="none"/>
<path d="M592.0 524.6V529.9M588.2 524.6H595.7M588.2 529.9H595.7" stroke="#262626" stroke-width="0.9" fill="none"/>
<path d="M611.7 523.9V529.2M608.2 523.9H615.2M608.2 529.2H615.2" stroke="#262626" stroke-width="0.9" fill="none"/>
<path d="M526.0 482.6V581.9H621.0M523.5 581.9H526.0M523.5 549.0H526.0M523.5 516.0H526.0M523.5 483.1H526.0M549.3 581.9V584.4M602.0 581.9V584.4" stroke="#262626" stroke-width="1.2" fill="none"/>
<text x="522.0" y="585.2" font-size="9.2" font-weight="bold" text-anchor="end" fill="#222"  stroke="#222" stroke-width="0.22">0</text>
<text x="522.0" y="552.3" font-size="9.2" font-weight="bold" text-anchor="end" fill="#222"  stroke="#222" stroke-width="0.22">50</text>
<text x="522.0" y="519.3" font-size="9.2" font-weight="bold" text-anchor="end" fill="#222"  stroke="#222" stroke-width="0.22">100</text>
<text x="522.0" y="486.4" font-size="9.2" font-weight="bold" text-anchor="end" fill="#222"  stroke="#222" stroke-width="0.22">150</text>
<text x="549.3" y="595.7" font-size="9.3" font-weight="bold" text-anchor="middle" fill="#222"  stroke="#222" stroke-width="0.22">Air</text>
<text x="602.0" y="595.7" font-size="9.3" font-weight="bold" text-anchor="middle" fill="#222" textLength="42" lengthAdjust="spacingAndGlyphs"  stroke="#222" stroke-width="0.22">Cannabis</text>
<g transform="translate(496.4,531.2) rotate(-90)"><text x="0.0" y="3.2" font-size="9" font-weight="bold" text-anchor="middle" fill="#222" textLength="34" lengthAdjust="spacingAndGlyphs"  stroke="#222" stroke-width="0.22">Percent</text></g>
<path d="M539.4 509.6V505.1H592.3V512.5" stroke="#262626" stroke-width="1" fill="none"/>
<text x="565.6" y="504.4" font-size="12" font-weight="bold" text-anchor="middle" fill="#222"  stroke="#222" stroke-width="0.22">*</text>
<path d="M558.9 489.3V484.0H611.3V510.4" stroke="#262626" stroke-width="1" fill="none"/>
<text x="585.3" y="483.2" font-size="12" font-weight="bold" text-anchor="middle" fill="#222"  stroke="#222" stroke-width="0.22">*</text>
<rect x="80.0" y="733.7" width="12.4" height="4.0" fill="#93b9e3" stroke="#262626" stroke-width="1.6"/>
<rect x="99.8" y="735.7" width="12.9" height="2.0" fill="#f8b97c" stroke="#262626" stroke-width="1.6"/>
<rect x="131.9" y="719.9" width="13.1" height="17.8" fill="#93b9e3" stroke="#262626" stroke-width="1.6"/>
<rect x="152.2" y="712.0" width="13.1" height="25.7" fill="#f8b97c" stroke="#262626" stroke-width="1.6"/>
<circle cx="86.2" cy="712.6" r="2" fill="#1e9ab8"/>
<circle cx="86.2" cy="724.5" r="2" fill="#1e9ab8"/>
<circle cx="86.2" cy="731.1" r="2" fill="#1e9ab8"/>
<circle cx="88.5" cy="734.4" r="2" fill="#1e9ab8"/>
<circle cx="83.9" cy="736.4" r="2" fill="#1e9ab8"/>
<circle cx="90.8" cy="737.0" r="2" fill="#1e9ab8"/>
<circle cx="85.9" cy="737.7" r="2" fill="#1e9ab8"/>
<circle cx="88.0" cy="737.7" r="2" fill="#1e9ab8"/>
<circle cx="106.2" cy="727.8" r="2" fill="#c96a2c"/>
<circle cx="108.5" cy="731.1" r="2" fill="#c96a2c"/>
<circle cx="106.2" cy="734.4" r="2" fill="#c96a2c"/>
<circle cx="110.8" cy="735.7" r="2" fill="#c96a2c"/>
<circle cx="104.0" cy="737.0" r="2" fill="#c96a2c"/>
<circle cx="108.2" cy="737.7" r="2" fill="#c96a2c"/>
<circle cx="102.1" cy="737.7" r="2" fill="#c96a2c"/>
<circle cx="138.4" cy="645.4" r="2" fill="#1e9ab8"/>
<circle cx="138.4" cy="708.0" r="2" fill="#1e9ab8"/>
<circle cx="143.0" cy="708.7" r="2" fill="#1e9ab8"/>
<circle cx="138.4" cy="717.9" r="2" fill="#1e9ab8"/>
<circle cx="138.4" cy="731.1" r="2" fill="#1e9ab8"/>
<circle cx="140.8" cy="734.4" r="2" fill="#1e9ab8"/>
<circle cx="136.1" cy="735.7" r="2" fill="#1e9ab8"/>
<circle cx="143.0" cy="737.0" r="2" fill="#1e9ab8"/>
<circle cx="132.7" cy="737.7" r="2" fill="#1e9ab8"/>
<circle cx="158.8" cy="650.0" r="2" fill="#c96a2c"/>
<circle cx="158.8" cy="673.1" r="2" fill="#c96a2c"/>
<circle cx="158.8" cy="687.6" r="2" fill="#c96a2c"/>
<circle cx="158.8" cy="691.5" r="2" fill="#c96a2c"/>
<circle cx="158.8" cy="725.8" r="2" fill="#c96a2c"/>
<circle cx="158.8" cy="729.8" r="2" fill="#c96a2c"/>
<circle cx="158.8" cy="734.4" r="2" fill="#c96a2c"/>
<circle cx="161.1" cy="737.0" r="2" fill="#c96a2c"/>
<circle cx="156.4" cy="737.7" r="2" fill="#c96a2c"/>
<path d="M86.2 731.1V736.4M82.7 731.1H89.7M82.7 736.4H89.7" stroke="#262626" stroke-width="0.9" fill="none"/>
<path d="M106.2 734.7V736.7M102.6 734.7H109.9M102.6 736.7H109.9" stroke="#262626" stroke-width="0.9" fill="none"/>
<path d="M138.4 711.3V728.5M134.8 711.3H142.1M134.8 728.5H142.1" stroke="#262626" stroke-width="0.9" fill="none"/>
<path d="M158.8 702.8V721.2M155.1 702.8H162.4M155.1 721.2H162.4" stroke="#262626" stroke-width="0.9" fill="none"/>
<path d="M72.7 638.3V737.7H175.0M70.2 737.7H72.7M70.2 704.7H72.7M70.2 671.8H72.7M70.2 638.8H72.7M95.8 737.7V740.2M148.5 737.7V740.2" stroke="#262626" stroke-width="1.2" fill="none"/>
<text x="68.7" y="741.1" font-size="9.5" font-weight="bold" text-anchor="end" fill="#222"  stroke="#222" stroke-width="0.22">0</text>
<text x="68.7" y="708.2" font-size="9.5" font-weight="bold" text-anchor="end" fill="#222"  stroke="#222" stroke-width="0.22">50000</text>
<text x="68.7" y="675.2" font-size="9.5" font-weight="bold" text-anchor="end" fill="#222"  stroke="#222" stroke-width="0.22">100000</text>
<text x="68.7" y="642.2" font-size="9.5" font-weight="bold" text-anchor="end" fill="#222"  stroke="#222" stroke-width="0.22">150000</text>
<text x="95.8" y="751.2" font-size="9.4" font-weight="bold" text-anchor="middle" fill="#222"  stroke="#222" stroke-width="0.22">Air</text>
<text x="148.5" y="751.2" font-size="9.4" font-weight="bold" text-anchor="middle" fill="#222" textLength="42.4" lengthAdjust="spacingAndGlyphs"  stroke="#222" stroke-width="0.22">Cannabis</text>
<g transform="translate(26.9,686.9) rotate(-90)"><text x="0.0" y="3.2" font-size="9" font-weight="bold" text-anchor="middle" fill="#222" textLength="36" lengthAdjust="spacingAndGlyphs"  stroke="#222" stroke-width="0.22">Cells/ml</text></g>
<path d="M105.9 733.2V633.9H159.0V644.0" stroke="#262626" stroke-width="1" fill="none"/>
<text x="132.5" y="633.8" font-size="12.5" font-weight="bold" text-anchor="middle" fill="#222"  stroke="#222" stroke-width="0.22">*</text>
<rect x="217.4" y="733.7" width="13.1" height="4.1" fill="#93b9e3" stroke="#262626" stroke-width="1.6"/>
<rect x="237.3" y="735.3" width="12.1" height="2.5" fill="#f8b97c" stroke="#262626" stroke-width="1.6"/>
<rect x="270.4" y="717.6" width="12.4" height="20.2" fill="#93b9e3" stroke="#262626" stroke-width="1.6"/>
<rect x="289.6" y="716.1" width="13.1" height="21.7" fill="#f8b97c" stroke="#262626" stroke-width="1.6"/>
<circle cx="223.9" cy="711.5" r="2" fill="#1e9ab8"/>
<circle cx="223.9" cy="727.9" r="2" fill="#1e9ab8"/>
<circle cx="228.5" cy="729.6" r="2" fill="#1e9ab8"/>
<circle cx="223.9" cy="732.9" r="2" fill="#1e9ab8"/>
<circle cx="226.2" cy="736.2" r="2" fill="#1e9ab8"/>
<circle cx="221.6" cy="737.0" r="2" fill="#1e9ab8"/>
<circle cx="221.1" cy="737.8" r="2" fill="#1e9ab8"/>
<circle cx="243.4" cy="724.7" r="2" fill="#c96a2c"/>
<circle cx="243.4" cy="732.9" r="2" fill="#c96a2c"/>
<circle cx="248.0" cy="734.5" r="2" fill="#c96a2c"/>
<circle cx="241.1" cy="736.2" r="2" fill="#c96a2c"/>
<circle cx="245.4" cy="737.0" r="2" fill="#c96a2c"/>
<circle cx="245.4" cy="737.8" r="2" fill="#c96a2c"/>
<circle cx="276.6" cy="675.4" r="2" fill="#1e9ab8"/>
<circle cx="276.6" cy="703.3" r="2" fill="#1e9ab8"/>
<circle cx="281.2" cy="703.3" r="2" fill="#1e9ab8"/>
<circle cx="272.0" cy="704.9" r="2" fill="#1e9ab8"/>
<circle cx="276.6" cy="718.1" r="2" fill="#1e9ab8"/>
<circle cx="276.6" cy="729.6" r="2" fill="#1e9ab8"/>
<circle cx="278.9" cy="732.9" r="2" fill="#1e9ab8"/>
<circle cx="276.6" cy="736.2" r="2" fill="#1e9ab8"/>
<circle cx="296.1" cy="677.0" r="2" fill="#c96a2c"/>
<circle cx="296.1" cy="685.2" r="2" fill="#c96a2c"/>
<circle cx="296.1" cy="695.1" r="2" fill="#c96a2c"/>
<circle cx="300.8" cy="696.7" r="2" fill="#c96a2c"/>
<circle cx="296.1" cy="721.4" r="2" fill="#c96a2c"/>
<circle cx="296.1" cy="729.6" r="2" fill="#c96a2c"/>
<circle cx="296.1" cy="734.5" r="2" fill="#c96a2c"/>
<circle cx="300.8" cy="737.0" r="2" fill="#c96a2c"/>
<path d="M223.9 731.2V736.2M220.3 731.2H227.6M220.3 736.2H227.6" stroke="#262626" stroke-width="0.9" fill="none"/>
<path d="M243.4 734.0V736.6M240.0 734.0H246.7M240.0 736.6H246.7" stroke="#262626" stroke-width="0.9" fill="none"/>
<path d="M276.6 711.8V723.3M273.1 711.8H280.1M273.1 723.3H280.1" stroke="#262626" stroke-width="0.9" fill="none"/>
<path d="M296.1 708.7V723.5M292.5 708.7H299.8M292.5 723.5H299.8" stroke="#262626" stroke-width="0.9" fill="none"/>
<path d="M210.6 638.7V737.8H308.8M208.1 737.8H210.6M208.1 704.9H210.6M208.1 672.1H210.6M208.1 639.2H210.6M233.6 737.8V740.3M285.6 737.8V740.3" stroke="#262626" stroke-width="1.2" fill="none"/>
<text x="206.6" y="741.2" font-size="9.5" font-weight="bold" text-anchor="end" fill="#222"  stroke="#222" stroke-width="0.22">0</text>
<text x="206.6" y="708.4" font-size="9.5" font-weight="bold" text-anchor="end" fill="#222"  stroke="#222" stroke-width="0.22">20</text>
<text x="206.6" y="675.5" font-size="9.5" font-weight="bold" text-anchor="end" fill="#222"  stroke="#222" stroke-width="0.22">40</text>
<text x="206.6" y="642.6" font-size="9.5" font-weight="bold" text-anchor="end" fill="#222"  stroke="#222" stroke-width="0.22">60</text>
<text x="233.6" y="751.3" font-size="9.4" font-weight="bold" text-anchor="middle" fill="#222"  stroke="#222" stroke-width="0.22">Air</text>
<text x="285.6" y="751.3" font-size="9.4" font-weight="bold" text-anchor="middle" fill="#222" textLength="42.4" lengthAdjust="spacingAndGlyphs"  stroke="#222" stroke-width="0.22">Cannabis</text>
<g transform="translate(186.2,687.3) rotate(-90)"><text x="0.0" y="3.2" font-size="9" font-weight="bold" text-anchor="middle" fill="#222" textLength="34.6" lengthAdjust="spacingAndGlyphs"  stroke="#222" stroke-width="0.22">Percent</text></g>
<path d="M223.5 734.0V643.7H276.1V647.5" stroke="#262626" stroke-width="1" fill="none"/>
<text x="250.1" y="638.5" font-size="8.2" font-weight="normal" text-anchor="middle" fill="#222" >0.0823</text>
<path d="M243.3 730.6V664.5H295.9V670.1" stroke="#262626" stroke-width="1" fill="none"/>
<text x="269.3" y="663.5" font-size="12.5" font-weight="bold" text-anchor="middle" fill="#222"  stroke="#222" stroke-width="0.22">*</text>
<rect x="393.2" y="734.8" width="12.4" height="3.3" fill="#93b9e3" stroke="#262626" stroke-width="1.6"/>
<rect x="413.0" y="735.8" width="12.2" height="2.3" fill="#f8b97c" stroke="#262626" stroke-width="1.6"/>
<rect x="445.1" y="727.9" width="13.1" height="10.2" fill="#93b9e3" stroke="#262626" stroke-width="1.6"/>
<rect x="465.4" y="731.2" width="12.4" height="6.9" fill="#f8b97c" stroke="#262626" stroke-width="1.6"/>
<circle cx="399.4" cy="728.9" r="2" fill="#1e9ab8"/>
<circle cx="404.0" cy="730.2" r="2" fill="#1e9ab8"/>
<circle cx="397.1" cy="731.5" r="2" fill="#1e9ab8"/>
<circle cx="401.7" cy="732.8" r="2" fill="#1e9ab8"/>
<circle cx="394.8" cy="734.8" r="2" fill="#1e9ab8"/>
<circle cx="399.4" cy="736.1" r="2" fill="#1e9ab8"/>
<circle cx="404.0" cy="737.4" r="2" fill="#1e9ab8"/>
<circle cx="419.1" cy="728.2" r="2" fill="#c96a2c"/>
<circle cx="421.4" cy="731.5" r="2" fill="#c96a2c"/>
<circle cx="416.8" cy="733.5" r="2" fill="#c96a2c"/>
<circle cx="421.4" cy="735.5" r="2" fill="#c96a2c"/>
<circle cx="414.5" cy="736.8" r="2" fill="#c96a2c"/>
<circle cx="414.8" cy="737.4" r="2" fill="#c96a2c"/>
<circle cx="451.6" cy="650.0" r="2" fill="#1e9ab8"/>
<circle cx="451.6" cy="724.3" r="2" fill="#1e9ab8"/>
<circle cx="451.6" cy="734.8" r="2" fill="#1e9ab8"/>
<circle cx="456.2" cy="736.1" r="2" fill="#1e9ab8"/>
<circle cx="447.0" cy="736.8" r="2" fill="#1e9ab8"/>
<circle cx="454.0" cy="737.4" r="2" fill="#1e9ab8"/>
<circle cx="453.4" cy="737.8" r="2" fill="#1e9ab8"/>
<circle cx="471.6" cy="704.6" r="2" fill="#c96a2c"/>
<circle cx="471.6" cy="727.6" r="2" fill="#c96a2c"/>
<circle cx="473.9" cy="730.2" r="2" fill="#c96a2c"/>
<circle cx="469.3" cy="732.2" r="2" fill="#c96a2c"/>
<circle cx="473.9" cy="734.2" r="2" fill="#c96a2c"/>
<circle cx="469.3" cy="736.1" r="2" fill="#c96a2c"/>
<circle cx="476.2" cy="737.4" r="2" fill="#c96a2c"/>
<path d="M399.4 733.8V735.8M395.9 733.8H402.9M395.9 735.8H402.9" stroke="#262626" stroke-width="0.9" fill="none"/>
<path d="M419.1 735.0V736.6M415.7 735.0H422.5M415.7 736.6H422.5" stroke="#262626" stroke-width="0.9" fill="none"/>
<path d="M451.6 719.4V736.5M448.0 719.4H455.3M448.0 736.5H455.3" stroke="#262626" stroke-width="0.9" fill="none"/>
<path d="M471.6 729.2V733.2M468.1 729.2H475.1M468.1 733.2H475.1" stroke="#262626" stroke-width="0.9" fill="none"/>
<path d="M386.0 639.0V738.1H484.6M383.5 738.1H386.0M383.5 705.2H386.0M383.5 672.4H386.0M383.5 639.5H386.0M409.0 738.1V740.6M460.9 738.1V740.6" stroke="#262626" stroke-width="1.2" fill="none"/>
<text x="382.0" y="741.5" font-size="9.5" font-weight="bold" text-anchor="end" fill="#222"  stroke="#222" stroke-width="0.22">0</text>
<text x="382.0" y="708.7" font-size="9.5" font-weight="bold" text-anchor="end" fill="#222"  stroke="#222" stroke-width="0.22">5000</text>
<text x="382.0" y="675.8" font-size="9.5" font-weight="bold" text-anchor="end" fill="#222"  stroke="#222" stroke-width="0.22">10000</text>
<text x="382.0" y="642.9" font-size="9.5" font-weight="bold" text-anchor="end" fill="#222"  stroke="#222" stroke-width="0.22">15000</text>
<text x="409.0" y="751.7" font-size="9.4" font-weight="bold" text-anchor="middle" fill="#222"  stroke="#222" stroke-width="0.22">Air</text>
<text x="460.9" y="751.7" font-size="9.4" font-weight="bold" text-anchor="middle" fill="#222" textLength="42.4" lengthAdjust="spacingAndGlyphs"  stroke="#222" stroke-width="0.22">Cannabis</text>
<g transform="translate(345.3,686.9) rotate(-90)"><text x="0.0" y="3.2" font-size="9" font-weight="bold" text-anchor="middle" fill="#222" textLength="36" lengthAdjust="spacingAndGlyphs"  stroke="#222" stroke-width="0.22">Cells/ml</text></g>
<rect x="532.9" y="735.5" width="12.4" height="2.3" fill="#93b9e3" stroke="#262626" stroke-width="1.6"/>
<rect x="553.2" y="735.8" width="12.4" height="2.0" fill="#f8b97c" stroke="#262626" stroke-width="1.6"/>
<rect x="585.9" y="727.4" width="12.0" height="10.4" fill="#93b9e3" stroke="#262626" stroke-width="1.6"/>
<rect x="605.1" y="733.6" width="12.4" height="4.2" fill="#f8b97c" stroke="#262626" stroke-width="1.6"/>
<circle cx="539.1" cy="733.9" r="2" fill="#1e9ab8"/>
<circle cx="543.7" cy="734.5" r="2" fill="#1e9ab8"/>
<circle cx="534.5" cy="735.2" r="2" fill="#1e9ab8"/>
<circle cx="544.3" cy="735.8" r="2" fill="#1e9ab8"/>
<circle cx="533.7" cy="736.5" r="2" fill="#1e9ab8"/>
<circle cx="541.7" cy="737.1" r="2" fill="#1e9ab8"/>
<circle cx="559.4" cy="731.9" r="2" fill="#c96a2c"/>
<circle cx="564.0" cy="733.9" r="2" fill="#c96a2c"/>
<circle cx="557.1" cy="735.2" r="2" fill="#c96a2c"/>
<circle cx="561.7" cy="736.5" r="2" fill="#c96a2c"/>
<circle cx="555.6" cy="737.1" r="2" fill="#c96a2c"/>
<circle cx="591.9" cy="656.2" r="2" fill="#1e9ab8"/>
<circle cx="591.9" cy="728.0" r="2" fill="#1e9ab8"/>
<circle cx="594.2" cy="731.3" r="2" fill="#1e9ab8"/>
<circle cx="591.9" cy="734.5" r="2" fill="#1e9ab8"/>
<circle cx="596.5" cy="736.5" r="2" fill="#1e9ab8"/>
<circle cx="589.6" cy="737.1" r="2" fill="#1e9ab8"/>
<circle cx="611.3" cy="726.7" r="2" fill="#c96a2c"/>
<circle cx="615.9" cy="727.4" r="2" fill="#c96a2c"/>
<circle cx="611.3" cy="731.3" r="2" fill="#c96a2c"/>
<circle cx="613.6" cy="734.5" r="2" fill="#c96a2c"/>
<circle cx="609.0" cy="735.8" r="2" fill="#c96a2c"/>
<circle cx="615.9" cy="737.1" r="2" fill="#c96a2c"/>
<path d="M539.1 735.0V736.0M535.6 735.0H542.6M535.6 736.0H542.6" stroke="#262626" stroke-width="0.9" fill="none"/>
<path d="M559.4 735.3V736.4M555.9 735.3H562.9M555.9 736.4H562.9" stroke="#262626" stroke-width="0.9" fill="none"/>
<path d="M591.9 720.2V734.5M588.5 720.2H595.3M588.5 734.5H595.3" stroke="#262626" stroke-width="0.9" fill="none"/>
<path d="M611.3 732.3V734.9M607.8 732.3H614.8M607.8 734.9H614.8" stroke="#262626" stroke-width="0.9" fill="none"/>
<path d="M525.0 639.4V737.8H625.0M522.5 737.8H525.0M522.5 705.2H525.0M522.5 672.5H525.0M522.5 639.9H525.0M549.1 737.8V740.3M601.0 737.8V740.3" stroke="#262626" stroke-width="1.2" fill="none"/>
<text x="521.0" y="741.2" font-size="9.5" font-weight="bold" text-anchor="end" fill="#222"  stroke="#222" stroke-width="0.22">0</text>
<text x="521.0" y="708.6" font-size="9.5" font-weight="bold" text-anchor="end" fill="#222"  stroke="#222" stroke-width="0.22">5</text>
<text x="521.0" y="676.0" font-size="9.5" font-weight="bold" text-anchor="end" fill="#222"  stroke="#222" stroke-width="0.22">10</text>
<text x="521.0" y="643.3" font-size="9.5" font-weight="bold" text-anchor="end" fill="#222"  stroke="#222" stroke-width="0.22">15</text>
<text x="549.1" y="751.3" font-size="9.4" font-weight="bold" text-anchor="middle" fill="#222"  stroke="#222" stroke-width="0.22">Air</text>
<text x="601.0" y="751.3" font-size="9.4" font-weight="bold" text-anchor="middle" fill="#222" textLength="42.4" lengthAdjust="spacingAndGlyphs"  stroke="#222" stroke-width="0.22">Cannabis</text>
<g transform="translate(500.8,687.3) rotate(-90)"><text x="0.0" y="3.2" font-size="9" font-weight="bold" text-anchor="middle" fill="#222" textLength="34.6" lengthAdjust="spacingAndGlyphs"  stroke="#222" stroke-width="0.22">Percent</text></g>
<rect x="71.4" y="881.6" width="13.1" height="17.2" fill="#93b9e3" stroke="#262626" stroke-width="1.6"/>
<rect x="91.7" y="877.3" width="13.1" height="21.5" fill="#f8b97c" stroke="#262626" stroke-width="1.6"/>
<rect x="126.9" y="861.0" width="12.9" height="37.8" fill="#93b9e3" stroke="#262626" stroke-width="1.6"/>
<rect x="147.2" y="836.9" width="12.9" height="61.9" fill="#f8b97c" stroke="#262626" stroke-width="1.6"/>
<circle cx="78.0" cy="874.7" r="2.2" fill="#1e9ab8"/>
<circle cx="78.0" cy="881.6" r="2.2" fill="#1e9ab8"/>
<circle cx="83.0" cy="881.6" r="2.2" fill="#1e9ab8"/>
<circle cx="72.9" cy="883.3" r="2.2" fill="#1e9ab8"/>
<circle cx="76.3" cy="883.3" r="2.2" fill="#1e9ab8"/>
<circle cx="98.2" cy="871.3" r="2.2" fill="#c96a2c"/>
<circle cx="103.3" cy="873.0" r="2.2" fill="#c96a2c"/>
<circle cx="98.2" cy="876.5" r="2.2" fill="#c96a2c"/>
<circle cx="100.8" cy="879.9" r="2.2" fill="#c96a2c"/>
<circle cx="95.7" cy="881.6" r="2.2" fill="#c96a2c"/>
<circle cx="133.4" cy="830.1" r="2.2" fill="#1e9ab8"/>
<circle cx="133.4" cy="850.7" r="2.2" fill="#1e9ab8"/>
<circle cx="133.4" cy="869.6" r="2.2" fill="#1e9ab8"/>
<circle cx="133.4" cy="878.2" r="2.2" fill="#1e9ab8"/>
<circle cx="138.4" cy="878.2" r="2.2" fill="#1e9ab8"/>
<circle cx="153.6" cy="826.6" r="2.2" fill="#c96a2c"/>
<circle cx="156.2" cy="830.1" r="2.2" fill="#c96a2c"/>
<circle cx="153.6" cy="833.5" r="2.2" fill="#c96a2c"/>
<circle cx="153.6" cy="843.8" r="2.2" fill="#c96a2c"/>
<circle cx="153.6" cy="861.0" r="2.2" fill="#c96a2c"/>
<path d="M78.0 879.9V883.3M74.3 879.9H81.6M74.3 883.3H81.6" stroke="#262626" stroke-width="0.9" fill="none"/>
<path d="M98.2 875.3V879.4M94.6 875.3H101.9M94.6 879.4H101.9" stroke="#262626" stroke-width="0.9" fill="none"/>
<path d="M133.4 852.4V869.6M129.7 852.4H137.0M129.7 869.6H137.0" stroke="#262626" stroke-width="0.9" fill="none"/>
<path d="M153.6 830.9V843.0M150.0 830.9H157.3M150.0 843.0H157.3" stroke="#262626" stroke-width="0.9" fill="none"/>
<path d="M64.2 795.2V898.8H168.0M61.7 898.8H64.2M61.7 864.4H64.2M61.7 830.1H64.2M61.7 795.7H64.2M87.9 898.8V901.3M143.2 898.8V901.3" stroke="#262626" stroke-width="1.2" fill="none"/>
<text x="60.2" y="902.0" font-size="8.9" font-weight="bold" text-anchor="end" fill="#222"  stroke="#222" stroke-width="0.22">0</text>
<text x="60.2" y="867.6" font-size="8.9" font-weight="bold" text-anchor="end" fill="#222"  stroke="#222" stroke-width="0.22">20</text>
<text x="60.2" y="833.3" font-size="8.9" font-weight="bold" text-anchor="end" fill="#222"  stroke="#222" stroke-width="0.22">40</text>
<text x="60.2" y="798.9" font-size="8.9" font-weight="bold" text-anchor="end" fill="#222"  stroke="#222" stroke-width="0.22">60</text>
<text x="87.9" y="913.0" font-size="9.8" font-weight="bold" text-anchor="middle" fill="#222"  stroke="#222" stroke-width="0.22">Air</text>
<text x="143.2" y="913.0" font-size="9.8" font-weight="bold" text-anchor="middle" fill="#222" textLength="44" lengthAdjust="spacingAndGlyphs"  stroke="#222" stroke-width="0.22">Cannabis</text>
<g transform="translate(39.3,846.1) rotate(-90)"><text x="0.0" y="3.2" font-size="9" font-weight="bold" text-anchor="middle" fill="#222" textLength="33" lengthAdjust="spacingAndGlyphs"  stroke="#222" stroke-width="0.22">%CD45+</text></g>
<path d="M98.5 872.8V792.3H154.0V797.9" stroke="#262626" stroke-width="1" fill="none"/>
<text x="126.2" y="793.6" font-size="13" font-weight="bold" text-anchor="middle" fill="#222"  stroke="#222" stroke-width="0.22">***</text>
<path d="M133.0 823.2V814.2H154.0V819.1" stroke="#262626" stroke-width="1" fill="none"/>
<text x="143.6" y="815.0" font-size="13" font-weight="bold" text-anchor="middle" fill="#222"  stroke="#222" stroke-width="0.22">*</text>
<rect x="246.3" y="882.1" width="12.8" height="12.9" fill="#93b9e3" stroke="#262626" stroke-width="1.6"/>
<rect x="266.6" y="867.9" width="12.8" height="27.1" fill="#f8b97c" stroke="#262626" stroke-width="1.6"/>
<rect x="301.6" y="871.7" width="13.0" height="23.3" fill="#93b9e3" stroke="#262626" stroke-width="1.6"/>
<rect x="321.9" y="865.3" width="13.1" height="29.7" fill="#f8b97c" stroke="#262626" stroke-width="1.6"/>
<circle cx="252.7" cy="871.7" r="2.2" fill="#1e9ab8"/>
<circle cx="252.7" cy="882.1" r="2.2" fill="#1e9ab8"/>
<circle cx="257.8" cy="883.4" r="2.2" fill="#1e9ab8"/>
<circle cx="252.7" cy="888.5" r="2.2" fill="#1e9ab8"/>
<circle cx="257.8" cy="889.8" r="2.2" fill="#1e9ab8"/>
<circle cx="273.0" cy="862.7" r="2.2" fill="#c96a2c"/>
<circle cx="278.1" cy="865.3" r="2.2" fill="#c96a2c"/>
<circle cx="273.0" cy="866.6" r="2.2" fill="#c96a2c"/>
<circle cx="278.1" cy="869.1" r="2.2" fill="#c96a2c"/>
<circle cx="273.0" cy="874.3" r="2.2" fill="#c96a2c"/>
<circle cx="308.1" cy="864.0" r="2.2" fill="#1e9ab8"/>
<circle cx="313.2" cy="866.6" r="2.2" fill="#1e9ab8"/>
<circle cx="308.1" cy="874.3" r="2.2" fill="#1e9ab8"/>
<circle cx="313.2" cy="876.9" r="2.2" fill="#1e9ab8"/>
<circle cx="308.1" cy="882.1" r="2.2" fill="#1e9ab8"/>
<circle cx="328.4" cy="820.7" r="2.2" fill="#c96a2c"/>
<circle cx="328.4" cy="854.9" r="2.2" fill="#c96a2c"/>
<circle cx="328.4" cy="880.8" r="2.2" fill="#c96a2c"/>
<circle cx="328.4" cy="884.7" r="2.2" fill="#c96a2c"/>
<circle cx="333.5" cy="884.7" r="2.2" fill="#c96a2c"/>
<path d="M252.7 879.5V884.7M249.1 879.5H256.3M249.1 884.7H256.3" stroke="#262626" stroke-width="0.9" fill="none"/>
<path d="M273.0 865.9V869.8M269.4 865.9H276.6M269.4 869.8H276.6" stroke="#262626" stroke-width="0.9" fill="none"/>
<path d="M308.1 868.5V875.0M304.5 868.5H311.7M304.5 875.0H311.7" stroke="#262626" stroke-width="0.9" fill="none"/>
<path d="M328.4 853.0V877.6M324.8 853.0H332.1M324.8 877.6H332.1" stroke="#262626" stroke-width="0.9" fill="none"/>
<path d="M238.8 791.1V895.0H342.6M236.3 895.0H238.8M236.3 869.1H238.8M236.3 843.3H238.8M236.3 817.5H238.8M236.3 791.6H238.8M263.2 895.0V897.5M317.8 895.0V897.5" stroke="#262626" stroke-width="1.2" fill="none"/>
<text x="234.8" y="898.2" font-size="8.9" font-weight="bold" text-anchor="end" fill="#222"  stroke="#222" stroke-width="0.22">0</text>
<text x="234.8" y="872.4" font-size="8.9" font-weight="bold" text-anchor="end" fill="#222"  stroke="#222" stroke-width="0.22">2</text>
<text x="234.8" y="846.5" font-size="8.9" font-weight="bold" text-anchor="end" fill="#222"  stroke="#222" stroke-width="0.22">4</text>
<text x="234.8" y="820.7" font-size="8.9" font-weight="bold" text-anchor="end" fill="#222"  stroke="#222" stroke-width="0.22">6</text>
<text x="234.8" y="794.8" font-size="8.9" font-weight="bold" text-anchor="end" fill="#222"  stroke="#222" stroke-width="0.22">8</text>
<text x="263.2" y="909.4" font-size="9.8" font-weight="bold" text-anchor="middle" fill="#222"  stroke="#222" stroke-width="0.22">Air</text>
<text x="317.8" y="909.4" font-size="9.8" font-weight="bold" text-anchor="middle" fill="#222" textLength="44.5" lengthAdjust="spacingAndGlyphs"  stroke="#222" stroke-width="0.22">Cannabis</text>
<g transform="translate(219.9,841.8) rotate(-90)"><text x="0.0" y="3.2" font-size="9" font-weight="bold" text-anchor="middle" fill="#222" textLength="33" lengthAdjust="spacingAndGlyphs"  stroke="#222" stroke-width="0.22">%CD45+</text></g>
<rect x="426.3" y="854.9" width="13.1" height="40.1" fill="#93b9e3" stroke="#262626" stroke-width="1.6"/>
<rect x="446.6" y="847.2" width="12.8" height="47.8" fill="#f8b97c" stroke="#262626" stroke-width="1.6"/>
<rect x="481.6" y="853.6" width="13.0" height="41.4" fill="#93b9e3" stroke="#262626" stroke-width="1.6"/>
<rect x="501.9" y="842.0" width="13.5" height="53.0" fill="#f8b97c" stroke="#262626" stroke-width="1.6"/>
<circle cx="432.9" cy="839.4" r="2.2" fill="#1e9ab8"/>
<circle cx="432.9" cy="847.2" r="2.2" fill="#1e9ab8"/>
<circle cx="432.9" cy="857.5" r="2.2" fill="#1e9ab8"/>
<circle cx="432.9" cy="862.7" r="2.2" fill="#1e9ab8"/>
<circle cx="437.9" cy="865.3" r="2.2" fill="#1e9ab8"/>
<circle cx="453.0" cy="825.2" r="2.2" fill="#c96a2c"/>
<circle cx="453.0" cy="847.2" r="2.2" fill="#c96a2c"/>
<circle cx="458.1" cy="848.5" r="2.2" fill="#c96a2c"/>
<circle cx="453.0" cy="857.5" r="2.2" fill="#c96a2c"/>
<circle cx="458.1" cy="857.5" r="2.2" fill="#c96a2c"/>
<circle cx="488.1" cy="833.0" r="2.2" fill="#1e9ab8"/>
<circle cx="488.1" cy="848.5" r="2.2" fill="#1e9ab8"/>
<circle cx="493.2" cy="851.1" r="2.2" fill="#1e9ab8"/>
<circle cx="488.1" cy="861.4" r="2.2" fill="#1e9ab8"/>
<circle cx="488.1" cy="874.3" r="2.2" fill="#1e9ab8"/>
<circle cx="508.6" cy="805.8" r="2.2" fill="#c96a2c"/>
<circle cx="508.6" cy="834.9" r="2.2" fill="#c96a2c"/>
<circle cx="508.6" cy="851.1" r="2.2" fill="#c96a2c"/>
<circle cx="513.7" cy="852.3" r="2.2" fill="#c96a2c"/>
<circle cx="508.6" cy="862.7" r="2.2" fill="#c96a2c"/>
<path d="M432.9 849.8V860.1M429.2 849.8H436.5M429.2 860.1H436.5" stroke="#262626" stroke-width="0.9" fill="none"/>
<path d="M453.0 841.4V853.0M449.4 841.4H456.6M449.4 853.0H456.6" stroke="#262626" stroke-width="0.9" fill="none"/>
<path d="M488.1 846.5V860.7M484.5 846.5H491.7M484.5 860.7H491.7" stroke="#262626" stroke-width="0.9" fill="none"/>
<path d="M508.6 832.3V851.7M504.9 832.3H512.4M504.9 851.7H512.4" stroke="#262626" stroke-width="0.9" fill="none"/>
<path d="M418.8 791.1V895.0H522.6M416.3 895.0H418.8M416.3 869.1H418.8M416.3 843.3H418.8M416.3 817.5H418.8M416.3 791.6H418.8M443.2 895.0V897.5M497.8 895.0V897.5" stroke="#262626" stroke-width="1.2" fill="none"/>
<text x="414.8" y="898.2" font-size="8.9" font-weight="bold" text-anchor="end" fill="#222"  stroke="#222" stroke-width="0.22">0</text>
<text x="414.8" y="872.4" font-size="8.9" font-weight="bold" text-anchor="end" fill="#222"  stroke="#222" stroke-width="0.22">2</text>
<text x="414.8" y="846.5" font-size="8.9" font-weight="bold" text-anchor="end" fill="#222"  stroke="#222" stroke-width="0.22">4</text>
<text x="414.8" y="820.7" font-size="8.9" font-weight="bold" text-anchor="end" fill="#222"  stroke="#222" stroke-width="0.22">6</text>
<text x="414.8" y="794.8" font-size="8.9" font-weight="bold" text-anchor="end" fill="#222"  stroke="#222" stroke-width="0.22">8</text>
<text x="443.2" y="909.4" font-size="9.8" font-weight="bold" text-anchor="middle" fill="#222"  stroke="#222" stroke-width="0.22">Air</text>
<text x="497.8" y="909.4" font-size="9.8" font-weight="bold" text-anchor="middle" fill="#222" textLength="43.8" lengthAdjust="spacingAndGlyphs"  stroke="#222" stroke-width="0.22">Cannabis</text>
<g transform="translate(399.9,841.8) rotate(-90)"><text x="0.0" y="3.2" font-size="9" font-weight="bold" text-anchor="middle" fill="#222" textLength="33" lengthAdjust="spacingAndGlyphs"  stroke="#222" stroke-width="0.22">%CD45+</text></g>
<text x="232.4" y="27.2" font-size="14" font-weight="bold" text-anchor="start" fill="#222" textLength="129.7" lengthAdjust="spacingAndGlyphs"  stroke="#222" stroke-width="0.3">B Lung Monocytes</text>
<text x="388.2" y="169.9" font-size="14" font-weight="bold" text-anchor="start" fill="#222" textLength="138.3" lengthAdjust="spacingAndGlyphs"  stroke="#222" stroke-width="0.3">C Lung Neutrophils</text>
<text x="337.4" y="323.6" font-size="14" font-weight="bold" text-anchor="start" fill="#222" textLength="126.9" lengthAdjust="spacingAndGlyphs"  stroke="#222" stroke-width="0.3">E Total BALF Cells</text>
<text x="337.4" y="472.3" font-size="14" font-weight="bold" text-anchor="start" fill="#222" textLength="148.5" lengthAdjust="spacingAndGlyphs"  stroke="#222" stroke-width="0.3">F BALF Macrophages</text>
<text x="14.1" y="613.5" font-size="14" font-weight="bold" text-anchor="start" fill="#222" textLength="162" lengthAdjust="spacingAndGlyphs"  stroke="#222" stroke-width="0.3">G BALF Epithelial Cells</text>
<text x="337.4" y="614.0" font-size="14" font-weight="bold" text-anchor="start" fill="#222" textLength="138.8" lengthAdjust="spacingAndGlyphs"  stroke="#222" stroke-width="0.3">H BALF Neutrophils</text>
<text x="14.5" y="772.4" font-size="14" font-weight="bold" text-anchor="start" fill="#222" textLength="137.2" lengthAdjust="spacingAndGlyphs"  stroke="#222" stroke-width="0.3">I Blood Neutrophils</text>
<text x="213.1" y="772.4" font-size="14" font-weight="bold" text-anchor="start" fill="#222" textLength="139.2" lengthAdjust="spacingAndGlyphs"  stroke="#222" stroke-width="0.3">J Blood Eosinophils</text>
<text x="392.4" y="772.4" font-size="14" font-weight="bold" text-anchor="start" fill="#222" textLength="137" lengthAdjust="spacingAndGlyphs"  stroke="#222" stroke-width="0.3">K Blood Monocytes</text>
<path d="M688 2V301M688 313.7V751M688 766.4V934" stroke="#9a9a9a" stroke-width="1.3" fill="none"/>
<g transform="translate(699.5,137.3) rotate(90)"><text x="0.0" y="6.3" font-size="17.5" font-weight="normal" text-anchor="middle" fill="#333" textLength="81" lengthAdjust="spacingAndGlyphs" >Total Lung</text></g>
<g transform="translate(699.5,505.2) rotate(90)"><text x="0.0" y="6.3" font-size="17.5" font-weight="normal" text-anchor="middle" fill="#333" textLength="37.7" lengthAdjust="spacingAndGlyphs" >BALF</text></g>
<g transform="translate(699.5,834.8) rotate(90)"><text x="0.0" y="6.3" font-size="17.5" font-weight="normal" text-anchor="middle" fill="#333" textLength="44.4" lengthAdjust="spacingAndGlyphs" >Blood</text></g>
<rect x="584.1" y="313.7" width="24.7" height="17.1" fill="#8fb6e2"/>
<rect x="584.1" y="343.8" width="24.7" height="16.9" fill="#f9b97b"/>
<text x="618.7" y="334.6" font-size="18.5" font-weight="bold" font-style="italic" fill="#1a1a1a">Ahr<tspan dy="-7" font-size="13.5">+/-</tspan></text>
<text x="618.7" y="359.3" font-size="18.5" font-weight="bold" font-style="italic" fill="#1a1a1a">Ahr<tspan dy="-7" font-size="13.5">-/-</tspan></text>
<defs><clipPath id="mclip"><rect x="22" y="335.7" width="292.6" height="217.5"/></clipPath><linearGradient id="mbg" x1="0" y1="0" x2="1" y2="1"><stop offset="0" stop-color="#f1f2f5"/><stop offset="1" stop-color="#f5f4f6"/></linearGradient><filter id="hblur" x="-50%" y="-50%" width="200%" height="200%"><feGaussianBlur stdDeviation="3"/></filter><filter id="mblur" x="-5%" y="-5%" width="110%" height="110%"><feGaussianBlur stdDeviation="0.55"/></filter></defs>
<rect x="22" y="335.7" width="292.6" height="217.50000000000006" fill="url(#mbg)"/>
<g clip-path="url(#mclip)"><g filter="url(#mblur)">
<g filter="url(#hblur)" opacity="0.5">
<ellipse cx="95" cy="500" rx="22" ry="15" fill="#d4bce0"/>
<ellipse cx="42" cy="508" rx="11" ry="7" fill="#d4bce0"/>
<ellipse cx="158" cy="482" rx="8" ry="8" fill="#d4bce0"/>
<ellipse cx="30" cy="474" rx="7" ry="9" fill="#d4bce0"/>
<ellipse cx="140" cy="526" rx="8" ry="6" fill="#d4bce0"/>
<ellipse cx="253" cy="458" rx="17" ry="8" fill="#d4bce0"/>
<ellipse cx="291" cy="462" rx="10" ry="7" fill="#d4bce0"/>
<ellipse cx="226" cy="508" rx="11" ry="11" fill="#d4bce0"/>
<ellipse cx="174" cy="538" rx="6" ry="9" fill="#d4bce0"/>
</g>
<circle cx="30.0" cy="343.4" r="3.5" fill="#bcb0de" opacity="0.55"/><circle cx="30.0" cy="343.4" r="2.4" fill="#6a5cb2"/><circle cx="30.3" cy="343.7" r="1.5" fill="#4d4196"/>
<circle cx="42.0" cy="355.8" r="3.5" fill="#bcb0de" opacity="0.55"/><circle cx="42.0" cy="355.8" r="2.4" fill="#6a5cb2"/><circle cx="42.3" cy="356.1" r="1.5" fill="#4d4196"/>
<circle cx="62.8" cy="354.9" r="3.5" fill="#bcb0de" opacity="0.55"/><circle cx="62.8" cy="354.9" r="2.4" fill="#6a5cb2"/><circle cx="63.1" cy="355.2" r="1.5" fill="#4d4196"/>
<circle cx="87.5" cy="351.8" r="3.5" fill="#bcb0de" opacity="0.55"/><circle cx="87.5" cy="351.8" r="2.4" fill="#6a5cb2"/><circle cx="87.8" cy="352.1" r="1.5" fill="#4d4196"/>
<circle cx="98.8" cy="348.2" r="3.5" fill="#bcb0de" opacity="0.55"/><circle cx="98.8" cy="348.2" r="2.4" fill="#6a5cb2"/><circle cx="99.1" cy="348.5" r="1.5" fill="#4d4196"/>
<circle cx="128.3" cy="350.6" r="3.6" fill="#cdc0e4" opacity="0.65"/><circle cx="128.3" cy="350.6" r="1.6" fill="#6c5cae"/>
<circle cx="151.0" cy="350.6" r="3.5" fill="#bcb0de" opacity="0.55"/><circle cx="151.0" cy="350.6" r="2.4" fill="#6a5cb2"/><circle cx="151.3" cy="350.9" r="1.5" fill="#4d4196"/>
<circle cx="153.4" cy="355.3" r="3.5" fill="#bcb0de" opacity="0.55"/><circle cx="153.4" cy="355.3" r="2.4" fill="#6a5cb2"/><circle cx="153.7" cy="355.6" r="1.5" fill="#4d4196"/>
<circle cx="141.5" cy="360.6" r="3.5" fill="#bcb0de" opacity="0.55"/><circle cx="141.5" cy="360.6" r="2.4" fill="#6a5cb2"/><circle cx="141.8" cy="360.9" r="1.5" fill="#4d4196"/>
<circle cx="163.0" cy="361.6" r="3.5" fill="#bcb0de" opacity="0.55"/><circle cx="163.0" cy="361.6" r="2.4" fill="#6a5cb2"/><circle cx="163.3" cy="361.9" r="1.5" fill="#4d4196"/>
<circle cx="88.7" cy="364.9" r="3.5" fill="#bcb0de" opacity="0.55"/><circle cx="88.7" cy="364.9" r="2.4" fill="#6a5cb2"/><circle cx="89.0" cy="365.2" r="1.5" fill="#4d4196"/>
<circle cx="76.7" cy="376.9" r="3.6" fill="#cdc0e4" opacity="0.65"/><circle cx="76.7" cy="376.9" r="1.6" fill="#6c5cae"/>
<circle cx="97.1" cy="383.6" r="3.5" fill="#bcb0de" opacity="0.55"/><circle cx="97.1" cy="383.6" r="2.4" fill="#6a5cb2"/><circle cx="97.4" cy="383.9" r="1.5" fill="#4d4196"/>
<circle cx="80.3" cy="395.6" r="3.6" fill="#cdc0e4" opacity="0.65"/><circle cx="80.3" cy="395.6" r="1.6" fill="#6c5cae"/>
<circle cx="153.4" cy="392.5" r="3.5" fill="#bcb0de" opacity="0.55"/><circle cx="153.4" cy="392.5" r="2.4" fill="#6a5cb2"/><circle cx="153.7" cy="392.8" r="1.5" fill="#4d4196"/>
<circle cx="158.2" cy="390.8" r="3.5" fill="#bcb0de" opacity="0.55"/><circle cx="158.2" cy="390.8" r="2.4" fill="#6a5cb2"/><circle cx="158.5" cy="391.1" r="1.5" fill="#4d4196"/>
<circle cx="102.6" cy="403.8" r="3.5" fill="#bcb0de" opacity="0.55"/><circle cx="102.6" cy="403.8" r="2.4" fill="#6a5cb2"/><circle cx="102.9" cy="404.1" r="1.5" fill="#4d4196"/>
<circle cx="115.8" cy="405.2" r="3.5" fill="#bcb0de" opacity="0.55"/><circle cx="115.8" cy="405.2" r="2.4" fill="#6a5cb2"/><circle cx="116.1" cy="405.5" r="1.5" fill="#4d4196"/>
<circle cx="82.2" cy="418.2" r="3.5" fill="#bcb0de" opacity="0.55"/><circle cx="82.2" cy="418.2" r="2.4" fill="#6a5cb2"/><circle cx="82.5" cy="418.5" r="1.5" fill="#4d4196"/>
<circle cx="107.9" cy="416.5" r="3.6" fill="#cdc0e4" opacity="0.65"/><circle cx="107.9" cy="416.5" r="1.6" fill="#6c5cae"/>
<circle cx="70.7" cy="426.1" r="3.5" fill="#bcb0de" opacity="0.55"/><circle cx="70.7" cy="426.1" r="2.4" fill="#6a5cb2"/><circle cx="71.0" cy="426.4" r="1.5" fill="#4d4196"/>
<circle cx="30.0" cy="427.3" r="2.4" fill="#cf98c4" opacity="0.8"/>
<circle cx="106.7" cy="437.3" r="3.5" fill="#bcb0de" opacity="0.55"/><circle cx="106.7" cy="437.3" r="2.4" fill="#6a5cb2"/><circle cx="107.0" cy="437.6" r="1.5" fill="#4d4196"/>
<circle cx="203.2" cy="339.8" r="3.3" fill="#bcb0de" opacity="0.55"/><circle cx="203.2" cy="339.8" r="2.3" fill="#6a5cb2"/><circle cx="203.4" cy="340.0" r="1.4" fill="#4d4196"/>
<circle cx="187.6" cy="347.7" r="3.3" fill="#bcb0de" opacity="0.55"/><circle cx="187.6" cy="347.7" r="2.3" fill="#6a5cb2"/><circle cx="187.8" cy="348.0" r="1.4" fill="#4d4196"/>
<circle cx="174.9" cy="351.8" r="3.4" fill="#cdc0e4" opacity="0.65"/><circle cx="174.9" cy="351.8" r="1.5" fill="#6c5cae"/>
<circle cx="176.8" cy="349.4" r="3.3" fill="#bcb0de" opacity="0.55"/><circle cx="176.8" cy="349.4" r="2.3" fill="#6a5cb2"/><circle cx="177.1" cy="349.6" r="1.4" fill="#4d4196"/>
<circle cx="171.5" cy="354.1" r="3.3" fill="#bcb0de" opacity="0.55"/><circle cx="171.5" cy="354.1" r="2.3" fill="#6a5cb2"/><circle cx="171.8" cy="354.4" r="1.4" fill="#4d4196"/>
<circle cx="208.0" cy="354.9" r="3.3" fill="#bcb0de" opacity="0.55"/><circle cx="208.0" cy="354.9" r="2.3" fill="#6a5cb2"/><circle cx="208.2" cy="355.1" r="1.4" fill="#4d4196"/>
<circle cx="223.5" cy="353.0" r="3.3" fill="#bcb0de" opacity="0.55"/><circle cx="223.5" cy="353.0" r="2.3" fill="#6a5cb2"/><circle cx="223.8" cy="353.2" r="1.4" fill="#4d4196"/>
<circle cx="234.3" cy="363.7" r="3.3" fill="#bcb0de" opacity="0.55"/><circle cx="234.3" cy="363.7" r="2.3" fill="#6a5cb2"/><circle cx="234.6" cy="364.0" r="1.4" fill="#4d4196"/>
<circle cx="182.8" cy="372.1" r="3.3" fill="#bcb0de" opacity="0.55"/><circle cx="182.8" cy="372.1" r="2.3" fill="#6a5cb2"/><circle cx="183.1" cy="372.4" r="1.4" fill="#4d4196"/>
<circle cx="195.5" cy="369.7" r="3.3" fill="#bcb0de" opacity="0.55"/><circle cx="195.5" cy="369.7" r="2.3" fill="#6a5cb2"/><circle cx="195.8" cy="370.0" r="1.4" fill="#4d4196"/>
<circle cx="194.8" cy="372.6" r="3.3" fill="#bcb0de" opacity="0.55"/><circle cx="194.8" cy="372.6" r="2.3" fill="#6a5cb2"/><circle cx="195.0" cy="372.9" r="1.4" fill="#4d4196"/>
<circle cx="277.0" cy="349.4" r="3.4" fill="#cdc0e4" opacity="0.65"/><circle cx="277.0" cy="349.4" r="1.5" fill="#6c5cae"/>
<circle cx="276.3" cy="354.1" r="3.4" fill="#cdc0e4" opacity="0.65"/><circle cx="276.3" cy="354.1" r="1.5" fill="#6c5cae"/>
<circle cx="294.3" cy="338.6" r="3.3" fill="#bcb0de" opacity="0.55"/><circle cx="294.3" cy="338.6" r="2.3" fill="#6a5cb2"/><circle cx="294.5" cy="338.8" r="1.4" fill="#4d4196"/>
<circle cx="307.4" cy="347.7" r="3.3" fill="#bcb0de" opacity="0.55"/><circle cx="307.4" cy="347.7" r="2.3" fill="#6a5cb2"/><circle cx="307.7" cy="348.0" r="1.4" fill="#4d4196"/>
<circle cx="306.7" cy="363.7" r="3.3" fill="#bcb0de" opacity="0.55"/><circle cx="306.7" cy="363.7" r="2.3" fill="#6a5cb2"/><circle cx="307.0" cy="364.0" r="1.4" fill="#4d4196"/>
<circle cx="308.6" cy="369.7" r="3.4" fill="#cdc0e4" opacity="0.65"/><circle cx="308.6" cy="369.7" r="1.5" fill="#6c5cae"/>
<circle cx="273.9" cy="369.7" r="3.3" fill="#bcb0de" opacity="0.55"/><circle cx="273.9" cy="369.7" r="2.3" fill="#6a5cb2"/><circle cx="274.2" cy="370.0" r="1.4" fill="#4d4196"/>
<circle cx="239.1" cy="385.3" r="3.3" fill="#bcb0de" opacity="0.55"/><circle cx="239.1" cy="385.3" r="2.3" fill="#6a5cb2"/><circle cx="239.4" cy="385.6" r="1.4" fill="#4d4196"/>
<circle cx="260.7" cy="387.7" r="3.3" fill="#bcb0de" opacity="0.55"/><circle cx="260.7" cy="387.7" r="2.3" fill="#6a5cb2"/><circle cx="261.0" cy="388.0" r="1.4" fill="#4d4196"/>
<circle cx="257.1" cy="386.5" r="3.3" fill="#bcb0de" opacity="0.55"/><circle cx="257.1" cy="386.5" r="2.3" fill="#6a5cb2"/><circle cx="257.4" cy="386.8" r="1.4" fill="#4d4196"/>
<circle cx="263.1" cy="390.1" r="3.4" fill="#cdc0e4" opacity="0.65"/><circle cx="263.1" cy="390.1" r="1.5" fill="#6c5cae"/>
<circle cx="312.2" cy="384.1" r="3.3" fill="#bcb0de" opacity="0.55"/><circle cx="312.2" cy="384.1" r="2.3" fill="#6a5cb2"/><circle cx="312.5" cy="384.4" r="1.4" fill="#4d4196"/>
<circle cx="308.6" cy="388.9" r="3.3" fill="#bcb0de" opacity="0.55"/><circle cx="308.6" cy="388.9" r="2.3" fill="#6a5cb2"/><circle cx="308.9" cy="389.2" r="1.4" fill="#4d4196"/>
<circle cx="175.6" cy="400.9" r="3.3" fill="#bcb0de" opacity="0.55"/><circle cx="175.6" cy="400.9" r="2.3" fill="#6a5cb2"/><circle cx="175.9" cy="401.2" r="1.4" fill="#4d4196"/>
<circle cx="180.4" cy="398.0" r="3.3" fill="#bcb0de" opacity="0.55"/><circle cx="180.4" cy="398.0" r="2.3" fill="#6a5cb2"/><circle cx="180.7" cy="398.3" r="1.4" fill="#4d4196"/>
<circle cx="193.6" cy="396.1" r="3.3" fill="#bcb0de" opacity="0.55"/><circle cx="193.6" cy="396.1" r="2.3" fill="#6a5cb2"/><circle cx="193.8" cy="396.4" r="1.4" fill="#4d4196"/>
<circle cx="203.2" cy="400.9" r="3.4" fill="#cdc0e4" opacity="0.65"/><circle cx="203.2" cy="400.9" r="1.5" fill="#6c5cae"/>
<circle cx="216.3" cy="397.3" r="3.3" fill="#bcb0de" opacity="0.55"/><circle cx="216.3" cy="397.3" r="2.3" fill="#6a5cb2"/><circle cx="216.6" cy="397.6" r="1.4" fill="#4d4196"/>
<circle cx="217.5" cy="402.1" r="3.3" fill="#bcb0de" opacity="0.55"/><circle cx="217.5" cy="402.1" r="2.3" fill="#6a5cb2"/><circle cx="217.8" cy="402.4" r="1.4" fill="#4d4196"/>
<circle cx="221.1" cy="401.4" r="3.3" fill="#bcb0de" opacity="0.55"/><circle cx="221.1" cy="401.4" r="2.3" fill="#6a5cb2"/><circle cx="221.4" cy="401.7" r="1.4" fill="#4d4196"/>
<circle cx="260.7" cy="400.9" r="3.3" fill="#bcb0de" opacity="0.55"/><circle cx="260.7" cy="400.9" r="2.3" fill="#6a5cb2"/><circle cx="261.0" cy="401.2" r="1.4" fill="#4d4196"/>
<circle cx="289.0" cy="399.7" r="3.3" fill="#bcb0de" opacity="0.55"/><circle cx="289.0" cy="399.7" r="2.3" fill="#6a5cb2"/><circle cx="289.3" cy="400.0" r="1.4" fill="#4d4196"/>
<circle cx="287.1" cy="402.1" r="3.3" fill="#bcb0de" opacity="0.55"/><circle cx="287.1" cy="402.1" r="2.3" fill="#6a5cb2"/><circle cx="287.3" cy="402.4" r="1.4" fill="#4d4196"/>
<circle cx="302.7" cy="398.5" r="3.3" fill="#bcb0de" opacity="0.55"/><circle cx="302.7" cy="398.5" r="2.3" fill="#6a5cb2"/><circle cx="302.9" cy="398.8" r="1.4" fill="#4d4196"/>
<circle cx="311.5" cy="400.4" r="3.3" fill="#bcb0de" opacity="0.55"/><circle cx="311.5" cy="400.4" r="2.3" fill="#6a5cb2"/><circle cx="311.8" cy="400.7" r="1.4" fill="#4d4196"/>
<circle cx="231.9" cy="415.3" r="3.3" fill="#bcb0de" opacity="0.55"/><circle cx="231.9" cy="415.3" r="2.3" fill="#6a5cb2"/><circle cx="232.2" cy="415.6" r="1.4" fill="#4d4196"/>
<circle cx="233.1" cy="418.9" r="3.3" fill="#bcb0de" opacity="0.55"/><circle cx="233.1" cy="418.9" r="2.3" fill="#6a5cb2"/><circle cx="233.4" cy="419.2" r="1.4" fill="#4d4196"/>
<circle cx="248.7" cy="420.8" r="3.3" fill="#bcb0de" opacity="0.55"/><circle cx="248.7" cy="420.8" r="2.3" fill="#6a5cb2"/><circle cx="249.0" cy="421.1" r="1.4" fill="#4d4196"/>
<circle cx="308.6" cy="410.5" r="3.4" fill="#cdc0e4" opacity="0.65"/><circle cx="308.6" cy="410.5" r="1.5" fill="#6c5cae"/>
<circle cx="308.6" cy="415.8" r="3.4" fill="#cdc0e4" opacity="0.65"/><circle cx="308.6" cy="415.8" r="1.5" fill="#6c5cae"/>
<circle cx="193.6" cy="427.3" r="3.3" fill="#bcb0de" opacity="0.55"/><circle cx="193.6" cy="427.3" r="2.3" fill="#6a5cb2"/><circle cx="193.8" cy="427.5" r="1.4" fill="#4d4196"/>
<circle cx="213.9" cy="434.5" r="3.4" fill="#cdc0e4" opacity="0.65"/><circle cx="213.9" cy="434.5" r="1.5" fill="#6c5cae"/>
<circle cx="219.9" cy="433.3" r="3.4" fill="#cdc0e4" opacity="0.65"/><circle cx="219.9" cy="433.3" r="1.5" fill="#6c5cae"/>
<circle cx="217.5" cy="435.7" r="3.3" fill="#bcb0de" opacity="0.55"/><circle cx="217.5" cy="435.7" r="2.3" fill="#6a5cb2"/><circle cx="217.8" cy="435.9" r="1.4" fill="#4d4196"/>
<circle cx="241.5" cy="428.5" r="3.3" fill="#bcb0de" opacity="0.55"/><circle cx="241.5" cy="428.5" r="2.3" fill="#6a5cb2"/><circle cx="241.8" cy="428.7" r="1.4" fill="#4d4196"/>
<circle cx="243.9" cy="432.1" r="3.3" fill="#bcb0de" opacity="0.55"/><circle cx="243.9" cy="432.1" r="2.3" fill="#6a5cb2"/><circle cx="244.2" cy="432.3" r="1.4" fill="#4d4196"/>
<circle cx="245.1" cy="438.1" r="3.3" fill="#bcb0de" opacity="0.55"/><circle cx="245.1" cy="438.1" r="2.3" fill="#6a5cb2"/><circle cx="245.4" cy="438.3" r="1.4" fill="#4d4196"/>
<circle cx="249.9" cy="429.7" r="3.3" fill="#bcb0de" opacity="0.55"/><circle cx="249.9" cy="429.7" r="2.3" fill="#6a5cb2"/><circle cx="250.2" cy="429.9" r="1.4" fill="#4d4196"/>
<circle cx="303.9" cy="432.1" r="3.3" fill="#bcb0de" opacity="0.55"/><circle cx="303.9" cy="432.1" r="2.3" fill="#6a5cb2"/><circle cx="304.1" cy="432.3" r="1.4" fill="#4d4196"/>
<circle cx="162.4" cy="361.3" r="3.3" fill="#bcb0de" opacity="0.55"/><circle cx="162.4" cy="361.3" r="2.3" fill="#6a5cb2"/><circle cx="162.7" cy="361.6" r="1.4" fill="#4d4196"/>
<circle cx="169.6" cy="375.7" r="3.4" fill="#cdc0e4" opacity="0.65"/><circle cx="169.6" cy="375.7" r="1.5" fill="#6c5cae"/>
<circle cx="194.8" cy="409.3" r="1.3" fill="#cf98c4" opacity="0.8"/>
<circle cx="289.5" cy="420.8" r="1.3" fill="#cf98c4" opacity="0.8"/>
<circle cx="233.1" cy="397.3" r="1.3" fill="#cf98c4" opacity="0.8"/>
<circle cx="215.6" cy="341.4" r="1.3" fill="#cf98c4" opacity="0.8"/>
<circle cx="225.2" cy="337.4" r="1.3" fill="#cf98c4" opacity="0.8"/>
<circle cx="104.4" cy="502.7" r="2.9" fill="#bcb0de" opacity="0.55"/><circle cx="104.4" cy="502.7" r="2.0" fill="#6a5cb2"/><circle cx="104.6" cy="503.0" r="1.3" fill="#4d4196"/>
<circle cx="104.6" cy="510.7" r="2.9" fill="#d2a8d6" opacity="0.6"/><circle cx="104.6" cy="510.7" r="2.1" fill="#9c70b8"/><circle cx="104.6" cy="510.7" r="1.2" fill="#6a4a9e"/>
<circle cx="101.0" cy="512.8" r="3.1" fill="#d2a8d6" opacity="0.6"/><circle cx="101.0" cy="512.8" r="2.3" fill="#9c70b8"/><circle cx="101.0" cy="512.8" r="1.3" fill="#6a4a9e"/>
<circle cx="105.0" cy="511.0" r="2.7" fill="#bcb0de" opacity="0.55"/><circle cx="105.0" cy="511.0" r="1.8" fill="#6a5cb2"/><circle cx="105.2" cy="511.2" r="1.1" fill="#4d4196"/>
<circle cx="88.8" cy="512.8" r="2.4" fill="#bcb0de" opacity="0.55"/><circle cx="88.8" cy="512.8" r="1.6" fill="#6a5cb2"/><circle cx="89.0" cy="513.0" r="1.0" fill="#4d4196"/>
<circle cx="101.1" cy="510.3" r="2.1" fill="#cf98c4" opacity="0.8"/>
<circle cx="107.0" cy="510.7" r="2.0" fill="#cf98c4" opacity="0.8"/>
<circle cx="90.9" cy="503.0" r="1.9" fill="#cf98c4" opacity="0.8"/>
<circle cx="94.2" cy="507.2" r="2.7" fill="#bcb0de" opacity="0.55"/><circle cx="94.2" cy="507.2" r="1.8" fill="#6a5cb2"/><circle cx="94.4" cy="507.4" r="1.1" fill="#4d4196"/>
<circle cx="87.0" cy="504.2" r="2.9" fill="#d2a8d6" opacity="0.6"/><circle cx="87.0" cy="504.2" r="2.1" fill="#9c70b8"/><circle cx="87.0" cy="504.2" r="1.2" fill="#6a4a9e"/>
<circle cx="99.8" cy="510.8" r="3.3" fill="#bcb0de" opacity="0.55"/><circle cx="99.8" cy="510.8" r="2.2" fill="#6a5cb2"/><circle cx="100.0" cy="511.1" r="1.4" fill="#4d4196"/>
<circle cx="89.5" cy="508.1" r="2.9" fill="#bcb0de" opacity="0.55"/><circle cx="89.5" cy="508.1" r="2.0" fill="#6a5cb2"/><circle cx="89.8" cy="508.3" r="1.2" fill="#4d4196"/>
<circle cx="105.6" cy="502.7" r="2.4" fill="#d2a8d6" opacity="0.6"/><circle cx="105.6" cy="502.7" r="1.8" fill="#9c70b8"/><circle cx="105.6" cy="502.7" r="1.0" fill="#6a4a9e"/>
<circle cx="87.5" cy="510.5" r="3.3" fill="#bcb0de" opacity="0.55"/><circle cx="87.5" cy="510.5" r="2.3" fill="#6a5cb2"/><circle cx="87.8" cy="510.7" r="1.4" fill="#4d4196"/>
<circle cx="98.3" cy="510.6" r="2.8" fill="#d2a8d6" opacity="0.6"/><circle cx="98.3" cy="510.6" r="2.1" fill="#9c70b8"/><circle cx="98.3" cy="510.6" r="1.1" fill="#6a4a9e"/>
<circle cx="109.3" cy="508.6" r="2.4" fill="#d2a8d6" opacity="0.6"/><circle cx="109.3" cy="508.6" r="1.8" fill="#9c70b8"/><circle cx="109.3" cy="508.6" r="1.0" fill="#6a4a9e"/>
<circle cx="104.5" cy="508.1" r="2.9" fill="#bcb0de" opacity="0.55"/><circle cx="104.5" cy="508.1" r="2.0" fill="#6a5cb2"/><circle cx="104.7" cy="508.4" r="1.3" fill="#4d4196"/>
<circle cx="93.1" cy="510.4" r="3.1" fill="#d2a8d6" opacity="0.6"/><circle cx="93.1" cy="510.4" r="2.3" fill="#9c70b8"/><circle cx="93.1" cy="510.4" r="1.2" fill="#6a4a9e"/>
<circle cx="87.5" cy="501.8" r="3.2" fill="#bcb0de" opacity="0.55"/><circle cx="87.5" cy="501.8" r="2.2" fill="#6a5cb2"/><circle cx="87.8" cy="502.1" r="1.4" fill="#4d4196"/>
<circle cx="97.8" cy="499.8" r="2.5" fill="#d2a8d6" opacity="0.6"/><circle cx="97.8" cy="499.8" r="1.9" fill="#9c70b8"/><circle cx="97.8" cy="499.8" r="1.0" fill="#6a4a9e"/>
<circle cx="91.7" cy="509.4" r="1.9" fill="#cf98c4" opacity="0.8"/>
<circle cx="100.8" cy="516.3" r="2.5" fill="#bcb0de" opacity="0.55"/><circle cx="100.8" cy="516.3" r="1.7" fill="#6a5cb2"/><circle cx="101.0" cy="516.5" r="1.1" fill="#4d4196"/>
<circle cx="93.5" cy="509.3" r="2.7" fill="#d2a8d6" opacity="0.6"/><circle cx="93.5" cy="509.3" r="2.0" fill="#9c70b8"/><circle cx="93.5" cy="509.3" r="1.1" fill="#6a4a9e"/>
<circle cx="79.9" cy="506.0" r="2.2" fill="#d2a8d6" opacity="0.6"/><circle cx="79.9" cy="506.0" r="1.6" fill="#9c70b8"/><circle cx="79.9" cy="506.0" r="0.9" fill="#6a4a9e"/>
<circle cx="103.4" cy="503.2" r="2.8" fill="#d2a8d6" opacity="0.6"/><circle cx="103.4" cy="503.2" r="2.0" fill="#9c70b8"/><circle cx="103.4" cy="503.2" r="1.1" fill="#6a4a9e"/>
<circle cx="106.3" cy="506.2" r="2.4" fill="#bcb0de" opacity="0.55"/><circle cx="106.3" cy="506.2" r="1.7" fill="#6a5cb2"/><circle cx="106.5" cy="506.4" r="1.0" fill="#4d4196"/>
<circle cx="104.3" cy="500.7" r="2.8" fill="#bcb0de" opacity="0.55"/><circle cx="104.3" cy="500.7" r="1.9" fill="#6a5cb2"/><circle cx="104.5" cy="500.9" r="1.2" fill="#4d4196"/>
<circle cx="93.1" cy="510.6" r="1.8" fill="#cf98c4" opacity="0.8"/>
<circle cx="93.7" cy="516.0" r="2.6" fill="#d2a8d6" opacity="0.6"/><circle cx="93.7" cy="516.0" r="2.0" fill="#9c70b8"/><circle cx="93.7" cy="516.0" r="1.1" fill="#6a4a9e"/>
<circle cx="99.3" cy="516.4" r="2.5" fill="#bcb0de" opacity="0.55"/><circle cx="99.3" cy="516.4" r="1.7" fill="#6a5cb2"/><circle cx="99.5" cy="516.6" r="1.1" fill="#4d4196"/>
<circle cx="93.2" cy="507.7" r="2.4" fill="#d2a8d6" opacity="0.6"/><circle cx="93.2" cy="507.7" r="1.8" fill="#9c70b8"/><circle cx="93.2" cy="507.7" r="1.0" fill="#6a4a9e"/>
<circle cx="92.6" cy="506.3" r="2.8" fill="#bcb0de" opacity="0.55"/><circle cx="92.6" cy="506.3" r="2.0" fill="#6a5cb2"/><circle cx="92.9" cy="506.6" r="1.2" fill="#4d4196"/>
<circle cx="102.2" cy="505.4" r="2.7" fill="#d2a8d6" opacity="0.6"/><circle cx="102.2" cy="505.4" r="2.0" fill="#9c70b8"/><circle cx="102.2" cy="505.4" r="1.1" fill="#6a4a9e"/>
<circle cx="96.5" cy="503.5" r="2.7" fill="#d2a8d6" opacity="0.6"/><circle cx="96.5" cy="503.5" r="2.0" fill="#9c70b8"/><circle cx="96.5" cy="503.5" r="1.1" fill="#6a4a9e"/>
<circle cx="98.2" cy="500.6" r="2.9" fill="#d2a8d6" opacity="0.6"/><circle cx="98.2" cy="500.6" r="2.2" fill="#9c70b8"/><circle cx="98.2" cy="500.6" r="1.2" fill="#6a4a9e"/>
<circle cx="100.6" cy="501.2" r="2.3" fill="#d2a8d6" opacity="0.6"/><circle cx="100.6" cy="501.2" r="1.7" fill="#9c70b8"/><circle cx="100.6" cy="501.2" r="1.0" fill="#6a4a9e"/>
<circle cx="81.8" cy="508.3" r="2.9" fill="#d2a8d6" opacity="0.6"/><circle cx="81.8" cy="508.3" r="2.2" fill="#9c70b8"/><circle cx="81.8" cy="508.3" r="1.2" fill="#6a4a9e"/>
<circle cx="89.1" cy="508.6" r="3.1" fill="#d2a8d6" opacity="0.6"/><circle cx="89.1" cy="508.6" r="2.3" fill="#9c70b8"/><circle cx="89.1" cy="508.6" r="1.2" fill="#6a4a9e"/>
<circle cx="80.5" cy="510.8" r="3.3" fill="#bcb0de" opacity="0.55"/><circle cx="80.5" cy="510.8" r="2.3" fill="#6a5cb2"/><circle cx="80.7" cy="511.1" r="1.4" fill="#4d4196"/>
<circle cx="90.7" cy="510.7" r="2.6" fill="#d2a8d6" opacity="0.6"/><circle cx="90.7" cy="510.7" r="1.9" fill="#9c70b8"/><circle cx="90.7" cy="510.7" r="1.1" fill="#6a4a9e"/>
<circle cx="89.6" cy="513.0" r="3.0" fill="#d2a8d6" opacity="0.6"/><circle cx="89.6" cy="513.0" r="2.2" fill="#9c70b8"/><circle cx="89.6" cy="513.0" r="1.2" fill="#6a4a9e"/>
<circle cx="82.7" cy="508.9" r="1.7" fill="#cf98c4" opacity="0.8"/>
<circle cx="86.9" cy="500.8" r="2.1" fill="#cf98c4" opacity="0.8"/>
<circle cx="89.4" cy="508.4" r="1.8" fill="#cf98c4" opacity="0.8"/>
<circle cx="99.9" cy="499.6" r="2.8" fill="#bcb0de" opacity="0.55"/><circle cx="99.9" cy="499.6" r="1.9" fill="#6a5cb2"/><circle cx="100.2" cy="499.8" r="1.2" fill="#4d4196"/>
<circle cx="81.0" cy="481.4" r="2.3" fill="#d2a8d6" opacity="0.6"/><circle cx="81.0" cy="481.4" r="1.7" fill="#9c70b8"/><circle cx="81.0" cy="481.4" r="0.9" fill="#6a4a9e"/>
<circle cx="82.1" cy="484.6" r="3.1" fill="#bcb0de" opacity="0.55"/><circle cx="82.1" cy="484.6" r="2.2" fill="#6a5cb2"/><circle cx="82.4" cy="484.9" r="1.3" fill="#4d4196"/>
<circle cx="83.7" cy="488.0" r="3.0" fill="#bcb0de" opacity="0.55"/><circle cx="83.7" cy="488.0" r="2.1" fill="#6a5cb2"/><circle cx="84.0" cy="488.2" r="1.3" fill="#4d4196"/>
<circle cx="78.9" cy="486.9" r="2.2" fill="#d2a8d6" opacity="0.6"/><circle cx="78.9" cy="486.9" r="1.6" fill="#9c70b8"/><circle cx="78.9" cy="486.9" r="0.9" fill="#6a4a9e"/>
<circle cx="82.3" cy="477.5" r="2.7" fill="#d2a8d6" opacity="0.6"/><circle cx="82.3" cy="477.5" r="2.0" fill="#9c70b8"/><circle cx="82.3" cy="477.5" r="1.1" fill="#6a4a9e"/>
<circle cx="83.8" cy="481.3" r="2.9" fill="#d2a8d6" opacity="0.6"/><circle cx="83.8" cy="481.3" r="2.2" fill="#9c70b8"/><circle cx="83.8" cy="481.3" r="1.2" fill="#6a4a9e"/>
<circle cx="81.5" cy="486.0" r="2.8" fill="#bcb0de" opacity="0.55"/><circle cx="81.5" cy="486.0" r="2.0" fill="#6a5cb2"/><circle cx="81.8" cy="486.2" r="1.2" fill="#4d4196"/>
<circle cx="81.2" cy="479.4" r="2.6" fill="#d2a8d6" opacity="0.6"/><circle cx="81.2" cy="479.4" r="1.9" fill="#9c70b8"/><circle cx="81.2" cy="479.4" r="1.0" fill="#6a4a9e"/>
<circle cx="84.2" cy="487.9" r="3.2" fill="#bcb0de" opacity="0.55"/><circle cx="84.2" cy="487.9" r="2.2" fill="#6a5cb2"/><circle cx="84.5" cy="488.1" r="1.4" fill="#4d4196"/>
<circle cx="78.7" cy="477.7" r="2.6" fill="#d2a8d6" opacity="0.6"/><circle cx="78.7" cy="477.7" r="1.9" fill="#9c70b8"/><circle cx="78.7" cy="477.7" r="1.0" fill="#6a4a9e"/>
<circle cx="114.9" cy="488.7" r="2.3" fill="#d2a8d6" opacity="0.6"/><circle cx="114.9" cy="488.7" r="1.7" fill="#9c70b8"/><circle cx="114.9" cy="488.7" r="0.9" fill="#6a4a9e"/>
<circle cx="107.4" cy="491.4" r="2.7" fill="#d2a8d6" opacity="0.6"/><circle cx="107.4" cy="491.4" r="2.0" fill="#9c70b8"/><circle cx="107.4" cy="491.4" r="1.1" fill="#6a4a9e"/>
<circle cx="112.3" cy="488.8" r="2.6" fill="#d2a8d6" opacity="0.6"/><circle cx="112.3" cy="488.8" r="1.9" fill="#9c70b8"/><circle cx="112.3" cy="488.8" r="1.1" fill="#6a4a9e"/>
<circle cx="111.5" cy="485.1" r="3.0" fill="#bcb0de" opacity="0.55"/><circle cx="111.5" cy="485.1" r="2.1" fill="#6a5cb2"/><circle cx="111.7" cy="485.3" r="1.3" fill="#4d4196"/>
<circle cx="108.8" cy="490.8" r="3.0" fill="#d2a8d6" opacity="0.6"/><circle cx="108.8" cy="490.8" r="2.2" fill="#9c70b8"/><circle cx="108.8" cy="490.8" r="1.2" fill="#6a4a9e"/>
<circle cx="113.7" cy="493.3" r="2.9" fill="#d2a8d6" opacity="0.6"/><circle cx="113.7" cy="493.3" r="2.1" fill="#9c70b8"/><circle cx="113.7" cy="493.3" r="1.2" fill="#6a4a9e"/>
<circle cx="108.5" cy="491.7" r="2.6" fill="#d2a8d6" opacity="0.6"/><circle cx="108.5" cy="491.7" r="1.9" fill="#9c70b8"/><circle cx="108.5" cy="491.7" r="1.1" fill="#6a4a9e"/>
<circle cx="109.5" cy="487.7" r="2.3" fill="#d2a8d6" opacity="0.6"/><circle cx="109.5" cy="487.7" r="1.7" fill="#9c70b8"/><circle cx="109.5" cy="487.7" r="1.0" fill="#6a4a9e"/>
<circle cx="111.4" cy="498.6" r="2.8" fill="#bcb0de" opacity="0.55"/><circle cx="111.4" cy="498.6" r="2.0" fill="#6a5cb2"/><circle cx="111.7" cy="498.8" r="1.2" fill="#4d4196"/>
<circle cx="112.0" cy="498.8" r="3.3" fill="#bcb0de" opacity="0.55"/><circle cx="112.0" cy="498.8" r="2.2" fill="#6a5cb2"/><circle cx="112.3" cy="499.0" r="1.4" fill="#4d4196"/>
<circle cx="113.5" cy="489.6" r="2.5" fill="#bcb0de" opacity="0.55"/><circle cx="113.5" cy="489.6" r="1.7" fill="#6a5cb2"/><circle cx="113.7" cy="489.8" r="1.1" fill="#4d4196"/>
<circle cx="114.2" cy="496.2" r="2.8" fill="#d2a8d6" opacity="0.6"/><circle cx="114.2" cy="496.2" r="2.1" fill="#9c70b8"/><circle cx="114.2" cy="496.2" r="1.1" fill="#6a4a9e"/>
<circle cx="39.2" cy="509.9" r="3.1" fill="#bcb0de" opacity="0.55"/><circle cx="39.2" cy="509.9" r="2.1" fill="#6a5cb2"/><circle cx="39.4" cy="510.1" r="1.3" fill="#4d4196"/>
<circle cx="44.1" cy="508.0" r="2.1" fill="#cf98c4" opacity="0.8"/>
<circle cx="39.7" cy="510.6" r="3.1" fill="#d2a8d6" opacity="0.6"/><circle cx="39.7" cy="510.6" r="2.3" fill="#9c70b8"/><circle cx="39.7" cy="510.6" r="1.3" fill="#6a4a9e"/>
<circle cx="43.5" cy="513.8" r="3.2" fill="#bcb0de" opacity="0.55"/><circle cx="43.5" cy="513.8" r="2.2" fill="#6a5cb2"/><circle cx="43.7" cy="514.0" r="1.4" fill="#4d4196"/>
<circle cx="45.3" cy="512.3" r="2.3" fill="#d2a8d6" opacity="0.6"/><circle cx="45.3" cy="512.3" r="1.7" fill="#9c70b8"/><circle cx="45.3" cy="512.3" r="0.9" fill="#6a4a9e"/>
<circle cx="37.1" cy="510.4" r="2.7" fill="#bcb0de" opacity="0.55"/><circle cx="37.1" cy="510.4" r="1.9" fill="#6a5cb2"/><circle cx="37.3" cy="510.6" r="1.2" fill="#4d4196"/>
<circle cx="40.8" cy="509.9" r="2.3" fill="#bcb0de" opacity="0.55"/><circle cx="40.8" cy="509.9" r="1.6" fill="#6a5cb2"/><circle cx="41.0" cy="510.1" r="1.0" fill="#4d4196"/>
<circle cx="37.4" cy="508.0" r="2.5" fill="#d2a8d6" opacity="0.6"/><circle cx="37.4" cy="508.0" r="1.9" fill="#9c70b8"/><circle cx="37.4" cy="508.0" r="1.0" fill="#6a4a9e"/>
<circle cx="38.2" cy="508.7" r="2.3" fill="#d2a8d6" opacity="0.6"/><circle cx="38.2" cy="508.7" r="1.7" fill="#9c70b8"/><circle cx="38.2" cy="508.7" r="0.9" fill="#6a4a9e"/>
<circle cx="44.9" cy="508.0" r="2.2" fill="#d2a8d6" opacity="0.6"/><circle cx="44.9" cy="508.0" r="1.7" fill="#9c70b8"/><circle cx="44.9" cy="508.0" r="0.9" fill="#6a4a9e"/>
<circle cx="41.0" cy="513.7" r="2.4" fill="#d2a8d6" opacity="0.6"/><circle cx="41.0" cy="513.7" r="1.8" fill="#9c70b8"/><circle cx="41.0" cy="513.7" r="1.0" fill="#6a4a9e"/>
<circle cx="45.3" cy="511.2" r="2.2" fill="#cf98c4" opacity="0.8"/>
<circle cx="28.9" cy="476.6" r="2.7" fill="#d2a8d6" opacity="0.6"/><circle cx="28.9" cy="476.6" r="2.0" fill="#9c70b8"/><circle cx="28.9" cy="476.6" r="1.1" fill="#6a4a9e"/>
<circle cx="28.6" cy="472.2" r="2.9" fill="#d2a8d6" opacity="0.6"/><circle cx="28.6" cy="472.2" r="2.2" fill="#9c70b8"/><circle cx="28.6" cy="472.2" r="1.2" fill="#6a4a9e"/>
<circle cx="30.9" cy="480.8" r="3.3" fill="#bcb0de" opacity="0.55"/><circle cx="30.9" cy="480.8" r="2.3" fill="#6a5cb2"/><circle cx="31.2" cy="481.1" r="1.4" fill="#4d4196"/>
<circle cx="26.1" cy="468.8" r="2.7" fill="#d2a8d6" opacity="0.6"/><circle cx="26.1" cy="468.8" r="2.0" fill="#9c70b8"/><circle cx="26.1" cy="468.8" r="1.1" fill="#6a4a9e"/>
<circle cx="29.4" cy="477.5" r="2.6" fill="#d2a8d6" opacity="0.6"/><circle cx="29.4" cy="477.5" r="1.9" fill="#9c70b8"/><circle cx="29.4" cy="477.5" r="1.1" fill="#6a4a9e"/>
<circle cx="27.1" cy="478.8" r="3.0" fill="#bcb0de" opacity="0.55"/><circle cx="27.1" cy="478.8" r="2.0" fill="#6a5cb2"/><circle cx="27.4" cy="479.0" r="1.3" fill="#4d4196"/>
<circle cx="32.9" cy="475.7" r="3.1" fill="#d2a8d6" opacity="0.6"/><circle cx="32.9" cy="475.7" r="2.3" fill="#9c70b8"/><circle cx="32.9" cy="475.7" r="1.3" fill="#6a4a9e"/>
<circle cx="28.9" cy="476.9" r="3.0" fill="#bcb0de" opacity="0.55"/><circle cx="28.9" cy="476.9" r="2.0" fill="#6a5cb2"/><circle cx="29.1" cy="477.1" r="1.3" fill="#4d4196"/>
<circle cx="156.7" cy="481.5" r="2.8" fill="#bcb0de" opacity="0.55"/><circle cx="156.7" cy="481.5" r="2.0" fill="#6a5cb2"/><circle cx="157.0" cy="481.8" r="1.2" fill="#4d4196"/>
<circle cx="160.4" cy="484.9" r="3.1" fill="#d2a8d6" opacity="0.6"/><circle cx="160.4" cy="484.9" r="2.3" fill="#9c70b8"/><circle cx="160.4" cy="484.9" r="1.3" fill="#6a4a9e"/>
<circle cx="159.5" cy="482.1" r="2.7" fill="#d2a8d6" opacity="0.6"/><circle cx="159.5" cy="482.1" r="2.0" fill="#9c70b8"/><circle cx="159.5" cy="482.1" r="1.1" fill="#6a4a9e"/>
<circle cx="160.4" cy="485.6" r="2.4" fill="#bcb0de" opacity="0.55"/><circle cx="160.4" cy="485.6" r="1.7" fill="#6a5cb2"/><circle cx="160.6" cy="485.8" r="1.0" fill="#4d4196"/>
<circle cx="160.5" cy="478.7" r="2.9" fill="#bcb0de" opacity="0.55"/><circle cx="160.5" cy="478.7" r="2.0" fill="#6a5cb2"/><circle cx="160.8" cy="478.9" r="1.2" fill="#4d4196"/>
<circle cx="163.5" cy="478.2" r="3.0" fill="#bcb0de" opacity="0.55"/><circle cx="163.5" cy="478.2" r="2.1" fill="#6a5cb2"/><circle cx="163.8" cy="478.5" r="1.3" fill="#4d4196"/>
<circle cx="162.1" cy="481.7" r="2.1" fill="#cf98c4" opacity="0.8"/>
<circle cx="162.8" cy="486.6" r="3.0" fill="#d2a8d6" opacity="0.6"/><circle cx="162.8" cy="486.6" r="2.2" fill="#9c70b8"/><circle cx="162.8" cy="486.6" r="1.2" fill="#6a4a9e"/>
<circle cx="163.5" cy="482.4" r="2.8" fill="#bcb0de" opacity="0.55"/><circle cx="163.5" cy="482.4" r="1.9" fill="#6a5cb2"/><circle cx="163.7" cy="482.6" r="1.2" fill="#4d4196"/>
<circle cx="163.4" cy="483.6" r="3.2" fill="#bcb0de" opacity="0.55"/><circle cx="163.4" cy="483.6" r="2.2" fill="#6a5cb2"/><circle cx="163.7" cy="483.9" r="1.4" fill="#4d4196"/>
<circle cx="122.0" cy="460.9" r="2.8" fill="#d2a8d6" opacity="0.6"/><circle cx="122.0" cy="460.9" r="2.1" fill="#9c70b8"/><circle cx="122.0" cy="460.9" r="1.1" fill="#6a4a9e"/>
<circle cx="127.1" cy="463.5" r="2.8" fill="#bcb0de" opacity="0.55"/><circle cx="127.1" cy="463.5" r="1.9" fill="#6a5cb2"/><circle cx="127.4" cy="463.7" r="1.2" fill="#4d4196"/>
<circle cx="123.3" cy="467.9" r="2.5" fill="#d2a8d6" opacity="0.6"/><circle cx="123.3" cy="467.9" r="1.8" fill="#9c70b8"/><circle cx="123.3" cy="467.9" r="1.0" fill="#6a4a9e"/>
<circle cx="132.2" cy="464.0" r="2.5" fill="#d2a8d6" opacity="0.6"/><circle cx="132.2" cy="464.0" r="1.8" fill="#9c70b8"/><circle cx="132.2" cy="464.0" r="1.0" fill="#6a4a9e"/>
<circle cx="129.0" cy="463.0" r="2.6" fill="#bcb0de" opacity="0.55"/><circle cx="129.0" cy="463.0" r="1.8" fill="#6a5cb2"/><circle cx="129.3" cy="463.2" r="1.1" fill="#4d4196"/>
<circle cx="121.8" cy="461.2" r="2.2" fill="#d2a8d6" opacity="0.6"/><circle cx="121.8" cy="461.2" r="1.7" fill="#9c70b8"/><circle cx="121.8" cy="461.2" r="0.9" fill="#6a4a9e"/>
<circle cx="125.1" cy="461.6" r="2.2" fill="#d2a8d6" opacity="0.6"/><circle cx="125.1" cy="461.6" r="1.6" fill="#9c70b8"/><circle cx="125.1" cy="461.6" r="0.9" fill="#6a4a9e"/>
<circle cx="128.4" cy="463.3" r="2.2" fill="#d2a8d6" opacity="0.6"/><circle cx="128.4" cy="463.3" r="1.7" fill="#9c70b8"/><circle cx="128.4" cy="463.3" r="0.9" fill="#6a4a9e"/>
<circle cx="148.3" cy="524.8" r="2.8" fill="#d2a8d6" opacity="0.6"/><circle cx="148.3" cy="524.8" r="2.1" fill="#9c70b8"/><circle cx="148.3" cy="524.8" r="1.1" fill="#6a4a9e"/>
<circle cx="141.8" cy="521.5" r="3.1" fill="#bcb0de" opacity="0.55"/><circle cx="141.8" cy="521.5" r="2.1" fill="#6a5cb2"/><circle cx="142.1" cy="521.7" r="1.3" fill="#4d4196"/>
<circle cx="142.3" cy="522.8" r="3.1" fill="#bcb0de" opacity="0.55"/><circle cx="142.3" cy="522.8" r="2.1" fill="#6a5cb2"/><circle cx="142.5" cy="523.0" r="1.3" fill="#4d4196"/>
<circle cx="142.4" cy="525.4" r="2.2" fill="#cf98c4" opacity="0.8"/>
<circle cx="139.5" cy="523.0" r="2.3" fill="#d2a8d6" opacity="0.6"/><circle cx="139.5" cy="523.0" r="1.7" fill="#9c70b8"/><circle cx="139.5" cy="523.0" r="0.9" fill="#6a4a9e"/>
<circle cx="139.1" cy="525.5" r="2.9" fill="#d2a8d6" opacity="0.6"/><circle cx="139.1" cy="525.5" r="2.2" fill="#9c70b8"/><circle cx="139.1" cy="525.5" r="1.2" fill="#6a4a9e"/>
<circle cx="138.2" cy="523.6" r="2.3" fill="#cf98c4" opacity="0.8"/>
<circle cx="142.1" cy="525.1" r="2.3" fill="#d2a8d6" opacity="0.6"/><circle cx="142.1" cy="525.1" r="1.7" fill="#9c70b8"/><circle cx="142.1" cy="525.1" r="0.9" fill="#6a4a9e"/>
<circle cx="57.0" cy="532.8" r="2.9" fill="#bcb0de" opacity="0.55"/><circle cx="57.0" cy="532.8" r="2.0" fill="#6a5cb2"/><circle cx="57.2" cy="533.0" r="1.2" fill="#4d4196"/>
<circle cx="54.9" cy="529.8" r="1.8" fill="#cf98c4" opacity="0.8"/>
<circle cx="57.7" cy="534.5" r="2.9" fill="#d2a8d6" opacity="0.6"/><circle cx="57.7" cy="534.5" r="2.1" fill="#9c70b8"/><circle cx="57.7" cy="534.5" r="1.2" fill="#6a4a9e"/>
<circle cx="53.9" cy="531.9" r="2.0" fill="#cf98c4" opacity="0.8"/>
<circle cx="57.9" cy="529.4" r="3.0" fill="#d2a8d6" opacity="0.6"/><circle cx="57.9" cy="529.4" r="2.2" fill="#9c70b8"/><circle cx="57.9" cy="529.4" r="1.2" fill="#6a4a9e"/>
<circle cx="57.0" cy="526.7" r="1.8" fill="#3e3184"/>
<circle cx="164.5" cy="498.3" r="0.9" fill="#cf98c4" opacity="0.8"/>
<circle cx="155.0" cy="476.0" r="1.7" fill="#3e3184"/>
<circle cx="116.2" cy="453.4" r="1.3" fill="#3e3184"/>
<circle cx="117.5" cy="519.8" r="2.2" fill="#d2a8d6" opacity="0.6"/><circle cx="117.5" cy="519.8" r="1.6" fill="#9c70b8"/><circle cx="117.5" cy="519.8" r="0.9" fill="#6a4a9e"/>
<circle cx="24.8" cy="451.6" r="3.1" fill="#bcb0de" opacity="0.55"/><circle cx="24.8" cy="451.6" r="2.2" fill="#6a5cb2"/><circle cx="25.1" cy="451.8" r="1.3" fill="#4d4196"/>
<circle cx="37.4" cy="468.5" r="1.2" fill="#cf98c4" opacity="0.8"/>
<circle cx="97.9" cy="495.2" r="1.9" fill="#cf98c4" opacity="0.8"/>
<circle cx="167.0" cy="504.3" r="3.1" fill="#bcb0de" opacity="0.55"/><circle cx="167.0" cy="504.3" r="2.2" fill="#6a5cb2"/><circle cx="167.3" cy="504.6" r="1.3" fill="#4d4196"/>
<circle cx="158.8" cy="446.9" r="0.9" fill="#cf98c4" opacity="0.8"/>
<circle cx="96.5" cy="552.4" r="1.9" fill="#bcb0de" opacity="0.55"/><circle cx="96.5" cy="552.4" r="1.3" fill="#6a5cb2"/><circle cx="96.6" cy="552.6" r="0.8" fill="#4d4196"/>
<circle cx="155.9" cy="545.5" r="1.6" fill="#3e3184"/>
<circle cx="43.6" cy="501.6" r="1.4" fill="#bcb0de" opacity="0.55"/><circle cx="43.6" cy="501.6" r="1.0" fill="#6a5cb2"/><circle cx="43.7" cy="501.7" r="0.6" fill="#4d4196"/>
<circle cx="141.9" cy="499.9" r="1.8" fill="#3e3184"/>
<circle cx="56.6" cy="542.0" r="1.4" fill="#cf98c4" opacity="0.8"/>
<circle cx="46.1" cy="547.6" r="1.4" fill="#cf98c4" opacity="0.8"/>
<circle cx="128.4" cy="489.9" r="1.2" fill="#cf98c4" opacity="0.8"/>
<circle cx="144.8" cy="445.2" r="2.9" fill="#bcb0de" opacity="0.55"/><circle cx="144.8" cy="445.2" r="2.0" fill="#6a5cb2"/><circle cx="145.1" cy="445.4" r="1.2" fill="#4d4196"/>
<circle cx="40.4" cy="545.1" r="2.1" fill="#3e3184"/>
<circle cx="65.0" cy="485.2" r="1.3" fill="#cf98c4" opacity="0.8"/>
<circle cx="149.1" cy="453.3" r="1.9" fill="#cf98c4" opacity="0.8"/>
<circle cx="146.9" cy="475.3" r="2.0" fill="#3e3184"/>
<circle cx="64.4" cy="546.0" r="2.2" fill="#3e3184"/>
<circle cx="86.3" cy="479.1" r="2.8" fill="#bcb0de" opacity="0.55"/><circle cx="86.3" cy="479.1" r="1.9" fill="#6a5cb2"/><circle cx="86.5" cy="479.3" r="1.2" fill="#4d4196"/>
<circle cx="85.0" cy="448.1" r="2.1" fill="#cf98c4" opacity="0.8"/>
<circle cx="159.4" cy="504.3" r="0.9" fill="#3e3184"/>
<circle cx="129.2" cy="493.7" r="1.7" fill="#3e3184"/>
<circle cx="64.5" cy="450.3" r="1.3" fill="#d2a8d6" opacity="0.6"/><circle cx="64.5" cy="450.3" r="1.0" fill="#9c70b8"/><circle cx="64.5" cy="450.3" r="0.5" fill="#6a4a9e"/>
<circle cx="91.5" cy="482.1" r="1.7" fill="#bcb0de" opacity="0.55"/><circle cx="91.5" cy="482.1" r="1.2" fill="#6a5cb2"/><circle cx="91.6" cy="482.3" r="0.7" fill="#4d4196"/>
<circle cx="130.1" cy="515.5" r="1.7" fill="#cf98c4" opacity="0.8"/>
<circle cx="66.6" cy="505.2" r="1.0" fill="#cf98c4" opacity="0.8"/>
<circle cx="116.3" cy="453.1" r="2.8" fill="#d2a8d6" opacity="0.6"/><circle cx="116.3" cy="453.1" r="2.1" fill="#9c70b8"/><circle cx="116.3" cy="453.1" r="1.1" fill="#6a4a9e"/>
<circle cx="95.1" cy="468.8" r="3.2" fill="#bcb0de" opacity="0.55"/><circle cx="95.1" cy="468.8" r="2.2" fill="#6a5cb2"/><circle cx="95.3" cy="469.0" r="1.4" fill="#4d4196"/>
<circle cx="88.2" cy="460.1" r="1.1" fill="#3e3184"/>
<circle cx="48.3" cy="505.0" r="1.6" fill="#bcb0de" opacity="0.55"/><circle cx="48.3" cy="505.0" r="1.1" fill="#6a5cb2"/><circle cx="48.5" cy="505.2" r="0.7" fill="#4d4196"/>
<circle cx="60.5" cy="506.5" r="1.8" fill="#3e3184"/>
<circle cx="82.9" cy="489.7" r="1.5" fill="#d2a8d6" opacity="0.6"/><circle cx="82.9" cy="489.7" r="1.1" fill="#9c70b8"/><circle cx="82.9" cy="489.7" r="0.6" fill="#6a4a9e"/>
<circle cx="62.2" cy="526.2" r="1.2" fill="#cf98c4" opacity="0.8"/>
<circle cx="163.3" cy="458.6" r="2.1" fill="#d2a8d6" opacity="0.6"/><circle cx="163.3" cy="458.6" r="1.5" fill="#9c70b8"/><circle cx="163.3" cy="458.6" r="0.8" fill="#6a4a9e"/>
<circle cx="137.6" cy="536.7" r="1.2" fill="#3e3184"/>
<circle cx="59.0" cy="488.2" r="1.4" fill="#cf98c4" opacity="0.8"/>
<circle cx="68.2" cy="532.9" r="1.0" fill="#3e3184"/>
<circle cx="84.7" cy="527.5" r="2.2" fill="#cf98c4" opacity="0.8"/>
<circle cx="94.0" cy="452.9" r="2.7" fill="#d2a8d6" opacity="0.6"/><circle cx="94.0" cy="452.9" r="2.0" fill="#9c70b8"/><circle cx="94.0" cy="452.9" r="1.1" fill="#6a4a9e"/>
<circle cx="164.0" cy="471.8" r="1.1" fill="#3e3184"/>
<circle cx="45.0" cy="550.0" r="2.1" fill="#3e3184"/>
<circle cx="127.7" cy="514.9" r="0.9" fill="#cf98c4" opacity="0.8"/>
<circle cx="135.6" cy="445.1" r="1.1" fill="#3e3184"/>
<circle cx="156.4" cy="514.7" r="3.1" fill="#bcb0de" opacity="0.55"/><circle cx="156.4" cy="514.7" r="2.1" fill="#6a5cb2"/><circle cx="156.6" cy="515.0" r="1.3" fill="#4d4196"/>
<circle cx="113.8" cy="502.1" r="1.8" fill="#cf98c4" opacity="0.8"/>
<circle cx="39.3" cy="452.6" r="2.9" fill="#d2a8d6" opacity="0.6"/><circle cx="39.3" cy="452.6" r="2.1" fill="#9c70b8"/><circle cx="39.3" cy="452.6" r="1.2" fill="#6a4a9e"/>
<circle cx="50.8" cy="473.2" r="1.1" fill="#d2a8d6" opacity="0.6"/><circle cx="50.8" cy="473.2" r="0.8" fill="#9c70b8"/><circle cx="50.8" cy="473.2" r="0.4" fill="#6a4a9e"/>
<circle cx="100.9" cy="552.6" r="3.1" fill="#bcb0de" opacity="0.55"/><circle cx="100.9" cy="552.6" r="2.1" fill="#6a5cb2"/><circle cx="101.2" cy="552.9" r="1.3" fill="#4d4196"/>
<circle cx="116.5" cy="540.4" r="1.5" fill="#cf98c4" opacity="0.8"/>
<circle cx="102.3" cy="448.2" r="1.8" fill="#cf98c4" opacity="0.8"/>
<circle cx="67.6" cy="447.4" r="2.0" fill="#cf98c4" opacity="0.8"/>
<circle cx="116.8" cy="453.8" r="1.7" fill="#3e3184"/>
<circle cx="157.1" cy="469.5" r="1.8" fill="#3e3184"/>
<circle cx="127.2" cy="484.1" r="1.1" fill="#cf98c4" opacity="0.8"/>
<circle cx="138.6" cy="524.8" r="1.2" fill="#d2a8d6" opacity="0.6"/><circle cx="138.6" cy="524.8" r="0.9" fill="#9c70b8"/><circle cx="138.6" cy="524.8" r="0.5" fill="#6a4a9e"/>
<circle cx="94.9" cy="466.6" r="1.1" fill="#3e3184"/>
<circle cx="55.1" cy="527.1" r="1.4" fill="#bcb0de" opacity="0.55"/><circle cx="55.1" cy="527.1" r="1.0" fill="#6a5cb2"/><circle cx="55.2" cy="527.2" r="0.6" fill="#4d4196"/>
<circle cx="113.4" cy="510.9" r="1.5" fill="#3e3184"/>
<circle cx="155.0" cy="451.1" r="1.4" fill="#d2a8d6" opacity="0.6"/><circle cx="155.0" cy="451.1" r="1.0" fill="#9c70b8"/><circle cx="155.0" cy="451.1" r="0.6" fill="#6a4a9e"/>
<circle cx="80.1" cy="468.0" r="1.3" fill="#d2a8d6" opacity="0.6"/><circle cx="80.1" cy="468.0" r="1.0" fill="#9c70b8"/><circle cx="80.1" cy="468.0" r="0.5" fill="#6a4a9e"/>
<circle cx="30.5" cy="451.5" r="1.4" fill="#cf98c4" opacity="0.8"/>
<circle cx="126.2" cy="478.9" r="2.2" fill="#3e3184"/>
<circle cx="158.1" cy="480.6" r="1.7" fill="#3e3184"/>
<circle cx="99.1" cy="495.5" r="2.5" fill="#bcb0de" opacity="0.55"/><circle cx="99.1" cy="495.5" r="1.7" fill="#6a5cb2"/><circle cx="99.3" cy="495.7" r="1.1" fill="#4d4196"/>
<circle cx="77.9" cy="485.4" r="2.1" fill="#bcb0de" opacity="0.55"/><circle cx="77.9" cy="485.4" r="1.4" fill="#6a5cb2"/><circle cx="78.1" cy="485.5" r="0.9" fill="#4d4196"/>
<circle cx="81.5" cy="497.5" r="3.8" fill="#bcb0de" opacity="0.55"/><circle cx="81.5" cy="497.5" r="2.6" fill="#6a5cb2"/><circle cx="81.8" cy="497.9" r="1.6" fill="#4d4196"/>
<circle cx="90.6" cy="497.5" r="3.8" fill="#bcb0de" opacity="0.55"/><circle cx="90.6" cy="497.5" r="2.6" fill="#6a5cb2"/><circle cx="90.9" cy="497.9" r="1.6" fill="#4d4196"/>
<circle cx="93.5" cy="501.1" r="3.8" fill="#bcb0de" opacity="0.55"/><circle cx="93.5" cy="501.1" r="2.6" fill="#6a5cb2"/><circle cx="93.8" cy="501.4" r="1.6" fill="#4d4196"/>
<circle cx="112.7" cy="489.1" r="3.8" fill="#bcb0de" opacity="0.55"/><circle cx="112.7" cy="489.1" r="2.6" fill="#6a5cb2"/><circle cx="113.0" cy="489.5" r="1.6" fill="#4d4196"/>
<circle cx="75.5" cy="545.5" r="3.8" fill="#bcb0de" opacity="0.55"/><circle cx="75.5" cy="545.5" r="2.6" fill="#6a5cb2"/><circle cx="75.8" cy="545.8" r="1.6" fill="#4d4196"/>
<circle cx="158.2" cy="478.4" r="3.8" fill="#bcb0de" opacity="0.55"/><circle cx="158.2" cy="478.4" r="2.6" fill="#6a5cb2"/><circle cx="158.5" cy="478.7" r="1.6" fill="#4d4196"/>
<circle cx="117.5" cy="522.7" r="3.8" fill="#bcb0de" opacity="0.55"/><circle cx="117.5" cy="522.7" r="2.6" fill="#6a5cb2"/><circle cx="117.8" cy="523.0" r="1.6" fill="#4d4196"/>
<circle cx="115.1" cy="532.3" r="3.8" fill="#bcb0de" opacity="0.55"/><circle cx="115.1" cy="532.3" r="2.6" fill="#6a5cb2"/><circle cx="115.4" cy="532.6" r="1.6" fill="#4d4196"/>
<circle cx="127.1" cy="538.3" r="3.8" fill="#bcb0de" opacity="0.55"/><circle cx="127.1" cy="538.3" r="2.6" fill="#6a5cb2"/><circle cx="127.4" cy="538.6" r="1.6" fill="#4d4196"/>
<circle cx="56.3" cy="550.3" r="3.8" fill="#bcb0de" opacity="0.55"/><circle cx="56.3" cy="550.3" r="2.6" fill="#6a5cb2"/><circle cx="56.7" cy="550.6" r="1.6" fill="#4d4196"/>
<circle cx="24.0" cy="550.3" r="3.8" fill="#bcb0de" opacity="0.55"/><circle cx="24.0" cy="550.3" r="2.6" fill="#6a5cb2"/><circle cx="24.3" cy="550.6" r="1.6" fill="#4d4196"/>
<circle cx="136.7" cy="550.3" r="3.8" fill="#bcb0de" opacity="0.55"/><circle cx="136.7" cy="550.3" r="2.6" fill="#6a5cb2"/><circle cx="137.0" cy="550.6" r="1.6" fill="#4d4196"/>
<circle cx="97.1" cy="551.5" r="3.8" fill="#bcb0de" opacity="0.55"/><circle cx="97.1" cy="551.5" r="2.6" fill="#6a5cb2"/><circle cx="97.4" cy="551.8" r="1.6" fill="#4d4196"/>
<circle cx="51.5" cy="528.2" r="3.8" fill="#bcb0de" opacity="0.55"/><circle cx="51.5" cy="528.2" r="2.6" fill="#6a5cb2"/><circle cx="51.9" cy="528.5" r="1.6" fill="#4d4196"/>
<circle cx="63.5" cy="523.9" r="3.8" fill="#bcb0de" opacity="0.55"/><circle cx="63.5" cy="523.9" r="2.6" fill="#6a5cb2"/><circle cx="63.8" cy="524.2" r="1.6" fill="#4d4196"/>
<circle cx="45.6" cy="471.2" r="3.8" fill="#bcb0de" opacity="0.55"/><circle cx="45.6" cy="471.2" r="2.6" fill="#6a5cb2"/><circle cx="45.9" cy="471.5" r="1.6" fill="#4d4196"/>
<circle cx="64.7" cy="477.2" r="3.8" fill="#bcb0de" opacity="0.55"/><circle cx="64.7" cy="477.2" r="2.6" fill="#6a5cb2"/><circle cx="65.0" cy="477.5" r="1.6" fill="#4d4196"/>
<circle cx="148.6" cy="461.6" r="3.8" fill="#bcb0de" opacity="0.55"/><circle cx="148.6" cy="461.6" r="2.6" fill="#6a5cb2"/><circle cx="149.0" cy="461.9" r="1.6" fill="#4d4196"/>
<circle cx="155.8" cy="460.4" r="3.8" fill="#bcb0de" opacity="0.55"/><circle cx="155.8" cy="460.4" r="2.6" fill="#6a5cb2"/><circle cx="156.1" cy="460.7" r="1.6" fill="#4d4196"/>
<circle cx="255.7" cy="459.0" r="2.6" fill="#d2a8d6" opacity="0.6"/><circle cx="255.7" cy="459.0" r="1.9" fill="#9c70b8"/><circle cx="255.7" cy="459.0" r="1.1" fill="#6a4a9e"/>
<circle cx="257.4" cy="457.4" r="2.6" fill="#d2a8d6" opacity="0.6"/><circle cx="257.4" cy="457.4" r="2.0" fill="#9c70b8"/><circle cx="257.4" cy="457.4" r="1.1" fill="#6a4a9e"/>
<circle cx="253.9" cy="454.6" r="2.5" fill="#bcb0de" opacity="0.55"/><circle cx="253.9" cy="454.6" r="1.7" fill="#6a5cb2"/><circle cx="254.1" cy="454.8" r="1.1" fill="#4d4196"/>
<circle cx="251.3" cy="455.5" r="3.2" fill="#d2a8d6" opacity="0.6"/><circle cx="251.3" cy="455.5" r="2.4" fill="#9c70b8"/><circle cx="251.3" cy="455.5" r="1.3" fill="#6a4a9e"/>
<circle cx="256.1" cy="461.6" r="2.5" fill="#bcb0de" opacity="0.55"/><circle cx="256.1" cy="461.6" r="1.7" fill="#6a5cb2"/><circle cx="256.3" cy="461.8" r="1.1" fill="#4d4196"/>
<circle cx="241.0" cy="461.3" r="2.5" fill="#bcb0de" opacity="0.55"/><circle cx="241.0" cy="461.3" r="1.7" fill="#6a5cb2"/><circle cx="241.2" cy="461.5" r="1.1" fill="#4d4196"/>
<circle cx="256.0" cy="458.3" r="2.5" fill="#d2a8d6" opacity="0.6"/><circle cx="256.0" cy="458.3" r="1.9" fill="#9c70b8"/><circle cx="256.0" cy="458.3" r="1.0" fill="#6a4a9e"/>
<circle cx="252.7" cy="451.4" r="2.8" fill="#bcb0de" opacity="0.55"/><circle cx="252.7" cy="451.4" r="1.9" fill="#6a5cb2"/><circle cx="253.0" cy="451.7" r="1.2" fill="#4d4196"/>
<circle cx="245.1" cy="463.9" r="2.5" fill="#d2a8d6" opacity="0.6"/><circle cx="245.1" cy="463.9" r="1.9" fill="#9c70b8"/><circle cx="245.1" cy="463.9" r="1.0" fill="#6a4a9e"/>
<circle cx="251.3" cy="454.6" r="2.8" fill="#bcb0de" opacity="0.55"/><circle cx="251.3" cy="454.6" r="1.9" fill="#6a5cb2"/><circle cx="251.6" cy="454.8" r="1.2" fill="#4d4196"/>
<circle cx="250.9" cy="453.0" r="2.4" fill="#cf98c4" opacity="0.8"/>
<circle cx="266.1" cy="460.5" r="2.7" fill="#d2a8d6" opacity="0.6"/><circle cx="266.1" cy="460.5" r="2.0" fill="#9c70b8"/><circle cx="266.1" cy="460.5" r="1.1" fill="#6a4a9e"/>
<circle cx="268.0" cy="456.2" r="3.3" fill="#bcb0de" opacity="0.55"/><circle cx="268.0" cy="456.2" r="2.3" fill="#6a5cb2"/><circle cx="268.3" cy="456.4" r="1.4" fill="#4d4196"/>
<circle cx="265.1" cy="454.8" r="3.2" fill="#d2a8d6" opacity="0.6"/><circle cx="265.1" cy="454.8" r="2.4" fill="#9c70b8"/><circle cx="265.1" cy="454.8" r="1.3" fill="#6a4a9e"/>
<circle cx="258.7" cy="463.6" r="1.9" fill="#cf98c4" opacity="0.8"/>
<circle cx="251.2" cy="455.9" r="2.6" fill="#d2a8d6" opacity="0.6"/><circle cx="251.2" cy="455.9" r="1.9" fill="#9c70b8"/><circle cx="251.2" cy="455.9" r="1.1" fill="#6a4a9e"/>
<circle cx="249.3" cy="461.4" r="2.3" fill="#d2a8d6" opacity="0.6"/><circle cx="249.3" cy="461.4" r="1.7" fill="#9c70b8"/><circle cx="249.3" cy="461.4" r="1.0" fill="#6a4a9e"/>
<circle cx="257.4" cy="463.6" r="2.7" fill="#d2a8d6" opacity="0.6"/><circle cx="257.4" cy="463.6" r="2.0" fill="#9c70b8"/><circle cx="257.4" cy="463.6" r="1.1" fill="#6a4a9e"/>
<circle cx="246.9" cy="454.4" r="2.6" fill="#d2a8d6" opacity="0.6"/><circle cx="246.9" cy="454.4" r="1.9" fill="#9c70b8"/><circle cx="246.9" cy="454.4" r="1.1" fill="#6a4a9e"/>
<circle cx="267.7" cy="457.2" r="2.5" fill="#d2a8d6" opacity="0.6"/><circle cx="267.7" cy="457.2" r="1.9" fill="#9c70b8"/><circle cx="267.7" cy="457.2" r="1.0" fill="#6a4a9e"/>
<circle cx="256.4" cy="458.9" r="3.5" fill="#bcb0de" opacity="0.55"/><circle cx="256.4" cy="458.9" r="2.4" fill="#6a5cb2"/><circle cx="256.7" cy="459.2" r="1.5" fill="#4d4196"/>
<circle cx="258.5" cy="457.6" r="2.7" fill="#d2a8d6" opacity="0.6"/><circle cx="258.5" cy="457.6" r="2.0" fill="#9c70b8"/><circle cx="258.5" cy="457.6" r="1.1" fill="#6a4a9e"/>
<circle cx="243.8" cy="454.2" r="2.1" fill="#cf98c4" opacity="0.8"/>
<circle cx="255.0" cy="452.1" r="2.7" fill="#bcb0de" opacity="0.55"/><circle cx="255.0" cy="452.1" r="1.9" fill="#6a5cb2"/><circle cx="255.3" cy="452.4" r="1.2" fill="#4d4196"/>
<circle cx="244.9" cy="456.4" r="1.9" fill="#cf98c4" opacity="0.8"/>
<circle cx="247.6" cy="458.9" r="2.4" fill="#d2a8d6" opacity="0.6"/><circle cx="247.6" cy="458.9" r="1.8" fill="#9c70b8"/><circle cx="247.6" cy="458.9" r="1.0" fill="#6a4a9e"/>
<circle cx="261.6" cy="454.6" r="2.5" fill="#bcb0de" opacity="0.55"/><circle cx="261.6" cy="454.6" r="1.7" fill="#6a5cb2"/><circle cx="261.8" cy="454.9" r="1.1" fill="#4d4196"/>
<circle cx="252.9" cy="461.0" r="2.5" fill="#d2a8d6" opacity="0.6"/><circle cx="252.9" cy="461.0" r="1.9" fill="#9c70b8"/><circle cx="252.9" cy="461.0" r="1.0" fill="#6a4a9e"/>
<circle cx="257.4" cy="452.9" r="2.4" fill="#d2a8d6" opacity="0.6"/><circle cx="257.4" cy="452.9" r="1.8" fill="#9c70b8"/><circle cx="257.4" cy="452.9" r="1.0" fill="#6a4a9e"/>
<circle cx="239.0" cy="459.0" r="3.4" fill="#bcb0de" opacity="0.55"/><circle cx="239.0" cy="459.0" r="2.4" fill="#6a5cb2"/><circle cx="239.3" cy="459.3" r="1.5" fill="#4d4196"/>
<circle cx="260.4" cy="458.8" r="2.3" fill="#d2a8d6" opacity="0.6"/><circle cx="260.4" cy="458.8" r="1.7" fill="#9c70b8"/><circle cx="260.4" cy="458.8" r="0.9" fill="#6a4a9e"/>
<circle cx="241.5" cy="454.3" r="3.2" fill="#d2a8d6" opacity="0.6"/><circle cx="241.5" cy="454.3" r="2.4" fill="#9c70b8"/><circle cx="241.5" cy="454.3" r="1.3" fill="#6a4a9e"/>
<circle cx="242.8" cy="462.6" r="3.1" fill="#bcb0de" opacity="0.55"/><circle cx="242.8" cy="462.6" r="2.1" fill="#6a5cb2"/><circle cx="243.1" cy="462.9" r="1.3" fill="#4d4196"/>
<circle cx="255.0" cy="452.6" r="2.4" fill="#d2a8d6" opacity="0.6"/><circle cx="255.0" cy="452.6" r="1.8" fill="#9c70b8"/><circle cx="255.0" cy="452.6" r="1.0" fill="#6a4a9e"/>
<circle cx="243.1" cy="455.0" r="2.3" fill="#d2a8d6" opacity="0.6"/><circle cx="243.1" cy="455.0" r="1.7" fill="#9c70b8"/><circle cx="243.1" cy="455.0" r="0.9" fill="#6a4a9e"/>
<circle cx="251.7" cy="458.9" r="2.5" fill="#bcb0de" opacity="0.55"/><circle cx="251.7" cy="458.9" r="1.7" fill="#6a5cb2"/><circle cx="251.9" cy="459.1" r="1.1" fill="#4d4196"/>
<circle cx="251.3" cy="451.4" r="3.1" fill="#d2a8d6" opacity="0.6"/><circle cx="251.3" cy="451.4" r="2.3" fill="#9c70b8"/><circle cx="251.3" cy="451.4" r="1.3" fill="#6a4a9e"/>
<circle cx="245.6" cy="460.1" r="2.6" fill="#d2a8d6" opacity="0.6"/><circle cx="245.6" cy="460.1" r="1.9" fill="#9c70b8"/><circle cx="245.6" cy="460.1" r="1.1" fill="#6a4a9e"/>
<circle cx="257.0" cy="463.8" r="2.7" fill="#d2a8d6" opacity="0.6"/><circle cx="257.0" cy="463.8" r="2.0" fill="#9c70b8"/><circle cx="257.0" cy="463.8" r="1.1" fill="#6a4a9e"/>
<circle cx="241.3" cy="461.3" r="2.1" fill="#cf98c4" opacity="0.8"/>
<circle cx="289.6" cy="460.9" r="2.7" fill="#d2a8d6" opacity="0.6"/><circle cx="289.6" cy="460.9" r="2.0" fill="#9c70b8"/><circle cx="289.6" cy="460.9" r="1.1" fill="#6a4a9e"/>
<circle cx="289.8" cy="467.9" r="1.9" fill="#cf98c4" opacity="0.8"/>
<circle cx="295.3" cy="461.1" r="3.1" fill="#d2a8d6" opacity="0.6"/><circle cx="295.3" cy="461.1" r="2.3" fill="#9c70b8"/><circle cx="295.3" cy="461.1" r="1.3" fill="#6a4a9e"/>
<circle cx="290.3" cy="462.3" r="3.1" fill="#bcb0de" opacity="0.55"/><circle cx="290.3" cy="462.3" r="2.2" fill="#6a5cb2"/><circle cx="290.6" cy="462.5" r="1.3" fill="#4d4196"/>
<circle cx="287.0" cy="464.2" r="2.7" fill="#d2a8d6" opacity="0.6"/><circle cx="287.0" cy="464.2" r="2.0" fill="#9c70b8"/><circle cx="287.0" cy="464.2" r="1.1" fill="#6a4a9e"/>
<circle cx="292.4" cy="463.4" r="2.7" fill="#d2a8d6" opacity="0.6"/><circle cx="292.4" cy="463.4" r="2.0" fill="#9c70b8"/><circle cx="292.4" cy="463.4" r="1.1" fill="#6a4a9e"/>
<circle cx="295.2" cy="459.5" r="2.4" fill="#d2a8d6" opacity="0.6"/><circle cx="295.2" cy="459.5" r="1.8" fill="#9c70b8"/><circle cx="295.2" cy="459.5" r="1.0" fill="#6a4a9e"/>
<circle cx="293.6" cy="462.6" r="2.5" fill="#bcb0de" opacity="0.55"/><circle cx="293.6" cy="462.6" r="1.7" fill="#6a5cb2"/><circle cx="293.9" cy="462.8" r="1.1" fill="#4d4196"/>
<circle cx="287.4" cy="459.7" r="2.4" fill="#d2a8d6" opacity="0.6"/><circle cx="287.4" cy="459.7" r="1.8" fill="#9c70b8"/><circle cx="287.4" cy="459.7" r="1.0" fill="#6a4a9e"/>
<circle cx="289.3" cy="463.6" r="3.2" fill="#d2a8d6" opacity="0.6"/><circle cx="289.3" cy="463.6" r="2.4" fill="#9c70b8"/><circle cx="289.3" cy="463.6" r="1.3" fill="#6a4a9e"/>
<circle cx="295.6" cy="464.5" r="2.6" fill="#d2a8d6" opacity="0.6"/><circle cx="295.6" cy="464.5" r="1.9" fill="#9c70b8"/><circle cx="295.6" cy="464.5" r="1.0" fill="#6a4a9e"/>
<circle cx="291.7" cy="461.2" r="2.8" fill="#bcb0de" opacity="0.55"/><circle cx="291.7" cy="461.2" r="1.9" fill="#6a5cb2"/><circle cx="291.9" cy="461.4" r="1.2" fill="#4d4196"/>
<circle cx="285.6" cy="459.1" r="3.2" fill="#d2a8d6" opacity="0.6"/><circle cx="285.6" cy="459.1" r="2.3" fill="#9c70b8"/><circle cx="285.6" cy="459.1" r="1.3" fill="#6a4a9e"/>
<circle cx="285.2" cy="458.3" r="2.9" fill="#d2a8d6" opacity="0.6"/><circle cx="285.2" cy="458.3" r="2.2" fill="#9c70b8"/><circle cx="285.2" cy="458.3" r="1.2" fill="#6a4a9e"/>
<circle cx="295.2" cy="458.5" r="3.1" fill="#d2a8d6" opacity="0.6"/><circle cx="295.2" cy="458.5" r="2.3" fill="#9c70b8"/><circle cx="295.2" cy="458.5" r="1.3" fill="#6a4a9e"/>
<circle cx="292.6" cy="460.1" r="2.3" fill="#d2a8d6" opacity="0.6"/><circle cx="292.6" cy="460.1" r="1.7" fill="#9c70b8"/><circle cx="292.6" cy="460.1" r="0.9" fill="#6a4a9e"/>
<circle cx="293.7" cy="461.3" r="2.6" fill="#bcb0de" opacity="0.55"/><circle cx="293.7" cy="461.3" r="1.8" fill="#6a5cb2"/><circle cx="294.0" cy="461.5" r="1.1" fill="#4d4196"/>
<circle cx="291.1" cy="466.9" r="2.3" fill="#d2a8d6" opacity="0.6"/><circle cx="291.1" cy="466.9" r="1.7" fill="#9c70b8"/><circle cx="291.1" cy="466.9" r="0.9" fill="#6a4a9e"/>
<circle cx="218.2" cy="504.8" r="2.9" fill="#d2a8d6" opacity="0.6"/><circle cx="218.2" cy="504.8" r="2.2" fill="#9c70b8"/><circle cx="218.2" cy="504.8" r="1.2" fill="#6a4a9e"/>
<circle cx="223.4" cy="513.1" r="3.0" fill="#bcb0de" opacity="0.55"/><circle cx="223.4" cy="513.1" r="2.1" fill="#6a5cb2"/><circle cx="223.7" cy="513.3" r="1.3" fill="#4d4196"/>
<circle cx="222.6" cy="504.5" r="2.8" fill="#bcb0de" opacity="0.55"/><circle cx="222.6" cy="504.5" r="1.9" fill="#6a5cb2"/><circle cx="222.8" cy="504.7" r="1.2" fill="#4d4196"/>
<circle cx="226.0" cy="513.7" r="2.9" fill="#bcb0de" opacity="0.55"/><circle cx="226.0" cy="513.7" r="2.0" fill="#6a5cb2"/><circle cx="226.3" cy="513.9" r="1.2" fill="#4d4196"/>
<circle cx="225.0" cy="508.4" r="3.2" fill="#d2a8d6" opacity="0.6"/><circle cx="225.0" cy="508.4" r="2.4" fill="#9c70b8"/><circle cx="225.0" cy="508.4" r="1.3" fill="#6a4a9e"/>
<circle cx="220.0" cy="509.3" r="3.0" fill="#d2a8d6" opacity="0.6"/><circle cx="220.0" cy="509.3" r="2.3" fill="#9c70b8"/><circle cx="220.0" cy="509.3" r="1.2" fill="#6a4a9e"/>
<circle cx="222.6" cy="508.9" r="2.9" fill="#bcb0de" opacity="0.55"/><circle cx="222.6" cy="508.9" r="2.0" fill="#6a5cb2"/><circle cx="222.8" cy="509.2" r="1.2" fill="#4d4196"/>
<circle cx="230.9" cy="510.2" r="2.5" fill="#bcb0de" opacity="0.55"/><circle cx="230.9" cy="510.2" r="1.7" fill="#6a5cb2"/><circle cx="231.1" cy="510.4" r="1.1" fill="#4d4196"/>
<circle cx="219.8" cy="510.4" r="2.3" fill="#d2a8d6" opacity="0.6"/><circle cx="219.8" cy="510.4" r="1.7" fill="#9c70b8"/><circle cx="219.8" cy="510.4" r="0.9" fill="#6a4a9e"/>
<circle cx="232.5" cy="515.0" r="3.3" fill="#bcb0de" opacity="0.55"/><circle cx="232.5" cy="515.0" r="2.3" fill="#6a5cb2"/><circle cx="232.8" cy="515.2" r="1.4" fill="#4d4196"/>
<circle cx="224.3" cy="507.9" r="3.2" fill="#d2a8d6" opacity="0.6"/><circle cx="224.3" cy="507.9" r="2.3" fill="#9c70b8"/><circle cx="224.3" cy="507.9" r="1.3" fill="#6a4a9e"/>
<circle cx="221.0" cy="500.9" r="3.1" fill="#d2a8d6" opacity="0.6"/><circle cx="221.0" cy="500.9" r="2.3" fill="#9c70b8"/><circle cx="221.0" cy="500.9" r="1.3" fill="#6a4a9e"/>
<circle cx="234.3" cy="507.8" r="2.5" fill="#d2a8d6" opacity="0.6"/><circle cx="234.3" cy="507.8" r="1.8" fill="#9c70b8"/><circle cx="234.3" cy="507.8" r="1.0" fill="#6a4a9e"/>
<circle cx="232.5" cy="507.3" r="2.9" fill="#d2a8d6" opacity="0.6"/><circle cx="232.5" cy="507.3" r="2.2" fill="#9c70b8"/><circle cx="232.5" cy="507.3" r="1.2" fill="#6a4a9e"/>
<circle cx="225.3" cy="504.0" r="3.1" fill="#bcb0de" opacity="0.55"/><circle cx="225.3" cy="504.0" r="2.1" fill="#6a5cb2"/><circle cx="225.5" cy="504.3" r="1.3" fill="#4d4196"/>
<circle cx="225.9" cy="513.1" r="2.5" fill="#d2a8d6" opacity="0.6"/><circle cx="225.9" cy="513.1" r="1.9" fill="#9c70b8"/><circle cx="225.9" cy="513.1" r="1.0" fill="#6a4a9e"/>
<circle cx="227.3" cy="505.1" r="3.2" fill="#d2a8d6" opacity="0.6"/><circle cx="227.3" cy="505.1" r="2.4" fill="#9c70b8"/><circle cx="227.3" cy="505.1" r="1.3" fill="#6a4a9e"/>
<circle cx="218.8" cy="508.9" r="2.8" fill="#d2a8d6" opacity="0.6"/><circle cx="218.8" cy="508.9" r="2.1" fill="#9c70b8"/><circle cx="218.8" cy="508.9" r="1.1" fill="#6a4a9e"/>
<circle cx="225.4" cy="509.3" r="2.7" fill="#d2a8d6" opacity="0.6"/><circle cx="225.4" cy="509.3" r="2.0" fill="#9c70b8"/><circle cx="225.4" cy="509.3" r="1.1" fill="#6a4a9e"/>
<circle cx="223.0" cy="504.5" r="3.4" fill="#bcb0de" opacity="0.55"/><circle cx="223.0" cy="504.5" r="2.3" fill="#6a5cb2"/><circle cx="223.2" cy="504.8" r="1.4" fill="#4d4196"/>
<circle cx="230.2" cy="515.5" r="3.0" fill="#d2a8d6" opacity="0.6"/><circle cx="230.2" cy="515.5" r="2.2" fill="#9c70b8"/><circle cx="230.2" cy="515.5" r="1.2" fill="#6a4a9e"/>
<circle cx="234.7" cy="510.7" r="3.0" fill="#bcb0de" opacity="0.55"/><circle cx="234.7" cy="510.7" r="2.1" fill="#6a5cb2"/><circle cx="235.0" cy="511.0" r="1.3" fill="#4d4196"/>
<circle cx="217.9" cy="503.5" r="2.5" fill="#d2a8d6" opacity="0.6"/><circle cx="217.9" cy="503.5" r="1.9" fill="#9c70b8"/><circle cx="217.9" cy="503.5" r="1.0" fill="#6a4a9e"/>
<circle cx="217.1" cy="506.0" r="2.3" fill="#cf98c4" opacity="0.8"/>
<circle cx="225.1" cy="517.9" r="2.4" fill="#d2a8d6" opacity="0.6"/><circle cx="225.1" cy="517.9" r="1.8" fill="#9c70b8"/><circle cx="225.1" cy="517.9" r="1.0" fill="#6a4a9e"/>
<circle cx="224.9" cy="509.9" r="2.4" fill="#d2a8d6" opacity="0.6"/><circle cx="224.9" cy="509.9" r="1.8" fill="#9c70b8"/><circle cx="224.9" cy="509.9" r="1.0" fill="#6a4a9e"/>
<circle cx="225.9" cy="506.4" r="2.5" fill="#d2a8d6" opacity="0.6"/><circle cx="225.9" cy="506.4" r="1.9" fill="#9c70b8"/><circle cx="225.9" cy="506.4" r="1.0" fill="#6a4a9e"/>
<circle cx="219.7" cy="500.4" r="3.2" fill="#d2a8d6" opacity="0.6"/><circle cx="219.7" cy="500.4" r="2.4" fill="#9c70b8"/><circle cx="219.7" cy="500.4" r="1.3" fill="#6a4a9e"/>
<circle cx="232.6" cy="502.9" r="1.7" fill="#cf98c4" opacity="0.8"/>
<circle cx="230.4" cy="514.0" r="2.9" fill="#bcb0de" opacity="0.55"/><circle cx="230.4" cy="514.0" r="2.0" fill="#6a5cb2"/><circle cx="230.7" cy="514.3" r="1.2" fill="#4d4196"/>
<circle cx="224.9" cy="509.2" r="2.7" fill="#bcb0de" opacity="0.55"/><circle cx="224.9" cy="509.2" r="1.8" fill="#6a5cb2"/><circle cx="225.2" cy="509.4" r="1.1" fill="#4d4196"/>
<circle cx="225.4" cy="507.2" r="2.8" fill="#d2a8d6" opacity="0.6"/><circle cx="225.4" cy="507.2" r="2.1" fill="#9c70b8"/><circle cx="225.4" cy="507.2" r="1.2" fill="#6a4a9e"/>
<circle cx="223.8" cy="514.4" r="2.5" fill="#d2a8d6" opacity="0.6"/><circle cx="223.8" cy="514.4" r="1.8" fill="#9c70b8"/><circle cx="223.8" cy="514.4" r="1.0" fill="#6a4a9e"/>
<circle cx="219.7" cy="504.3" r="2.6" fill="#d2a8d6" opacity="0.6"/><circle cx="219.7" cy="504.3" r="1.9" fill="#9c70b8"/><circle cx="219.7" cy="504.3" r="1.1" fill="#6a4a9e"/>
<circle cx="227.6" cy="505.1" r="3.2" fill="#d2a8d6" opacity="0.6"/><circle cx="227.6" cy="505.1" r="2.4" fill="#9c70b8"/><circle cx="227.6" cy="505.1" r="1.3" fill="#6a4a9e"/>
<circle cx="174.1" cy="540.6" r="2.3" fill="#d2a8d6" opacity="0.6"/><circle cx="174.1" cy="540.6" r="1.7" fill="#9c70b8"/><circle cx="174.1" cy="540.6" r="0.9" fill="#6a4a9e"/>
<circle cx="176.4" cy="542.9" r="2.9" fill="#bcb0de" opacity="0.55"/><circle cx="176.4" cy="542.9" r="2.0" fill="#6a5cb2"/><circle cx="176.6" cy="543.2" r="1.2" fill="#4d4196"/>
<circle cx="174.0" cy="538.5" r="2.3" fill="#cf98c4" opacity="0.8"/>
<circle cx="176.9" cy="534.3" r="2.7" fill="#d2a8d6" opacity="0.6"/><circle cx="176.9" cy="534.3" r="2.0" fill="#9c70b8"/><circle cx="176.9" cy="534.3" r="1.1" fill="#6a4a9e"/>
<circle cx="177.8" cy="535.4" r="2.4" fill="#d2a8d6" opacity="0.6"/><circle cx="177.8" cy="535.4" r="1.8" fill="#9c70b8"/><circle cx="177.8" cy="535.4" r="1.0" fill="#6a4a9e"/>
<circle cx="174.9" cy="538.0" r="2.7" fill="#d2a8d6" opacity="0.6"/><circle cx="174.9" cy="538.0" r="2.0" fill="#9c70b8"/><circle cx="174.9" cy="538.0" r="1.1" fill="#6a4a9e"/>
<circle cx="174.1" cy="539.5" r="2.3" fill="#d2a8d6" opacity="0.6"/><circle cx="174.1" cy="539.5" r="1.7" fill="#9c70b8"/><circle cx="174.1" cy="539.5" r="0.9" fill="#6a4a9e"/>
<circle cx="169.4" cy="535.6" r="2.7" fill="#d2a8d6" opacity="0.6"/><circle cx="169.4" cy="535.6" r="2.0" fill="#9c70b8"/><circle cx="169.4" cy="535.6" r="1.1" fill="#6a4a9e"/>
<circle cx="170.2" cy="537.3" r="2.2" fill="#cf98c4" opacity="0.8"/>
<circle cx="174.7" cy="535.4" r="2.5" fill="#bcb0de" opacity="0.55"/><circle cx="174.7" cy="535.4" r="1.7" fill="#6a5cb2"/><circle cx="174.9" cy="535.6" r="1.1" fill="#4d4196"/>
<circle cx="170.5" cy="532.3" r="2.3" fill="#cf98c4" opacity="0.8"/>
<circle cx="173.9" cy="537.6" r="3.2" fill="#bcb0de" opacity="0.55"/><circle cx="173.9" cy="537.6" r="2.2" fill="#6a5cb2"/><circle cx="174.2" cy="537.9" r="1.4" fill="#4d4196"/>
<circle cx="288.1" cy="522.9" r="2.6" fill="#bcb0de" opacity="0.55"/><circle cx="288.1" cy="522.9" r="1.8" fill="#6a5cb2"/><circle cx="288.3" cy="523.1" r="1.1" fill="#4d4196"/>
<circle cx="295.7" cy="522.0" r="1.7" fill="#cf98c4" opacity="0.8"/>
<circle cx="290.4" cy="525.6" r="2.4" fill="#cf98c4" opacity="0.8"/>
<circle cx="292.9" cy="522.9" r="2.1" fill="#cf98c4" opacity="0.8"/>
<circle cx="288.2" cy="523.7" r="3.2" fill="#d2a8d6" opacity="0.6"/><circle cx="288.2" cy="523.7" r="2.4" fill="#9c70b8"/><circle cx="288.2" cy="523.7" r="1.3" fill="#6a4a9e"/>
<circle cx="291.4" cy="526.6" r="2.4" fill="#d2a8d6" opacity="0.6"/><circle cx="291.4" cy="526.6" r="1.7" fill="#9c70b8"/><circle cx="291.4" cy="526.6" r="1.0" fill="#6a4a9e"/>
<circle cx="290.9" cy="521.9" r="3.1" fill="#d2a8d6" opacity="0.6"/><circle cx="290.9" cy="521.9" r="2.3" fill="#9c70b8"/><circle cx="290.9" cy="521.9" r="1.3" fill="#6a4a9e"/>
<circle cx="293.6" cy="523.6" r="2.6" fill="#bcb0de" opacity="0.55"/><circle cx="293.6" cy="523.6" r="1.8" fill="#6a5cb2"/><circle cx="293.8" cy="523.8" r="1.1" fill="#4d4196"/>
<circle cx="180.4" cy="458.7" r="3.6" fill="#cdc0e4" opacity="0.65"/><circle cx="180.4" cy="458.7" r="1.6" fill="#6c5cae"/>
<circle cx="211.5" cy="462.8" r="3.2" fill="#d2a8d6" opacity="0.6"/><circle cx="211.5" cy="462.8" r="2.4" fill="#9c70b8"/><circle cx="211.5" cy="462.8" r="1.3" fill="#6a4a9e"/>
<circle cx="258.3" cy="471.2" r="3.5" fill="#bcb0de" opacity="0.55"/><circle cx="258.3" cy="471.2" r="2.4" fill="#6a5cb2"/><circle cx="258.6" cy="471.5" r="1.5" fill="#4d4196"/>
<circle cx="263.1" cy="482.7" r="3.6" fill="#cdc0e4" opacity="0.65"/><circle cx="263.1" cy="482.7" r="1.6" fill="#6c5cae"/>
<circle cx="293.1" cy="450.8" r="3.6" fill="#cdc0e4" opacity="0.65"/><circle cx="293.1" cy="450.8" r="1.6" fill="#6c5cae"/>
<circle cx="294.3" cy="484.4" r="3.6" fill="#cdc0e4" opacity="0.65"/><circle cx="294.3" cy="484.4" r="1.6" fill="#6c5cae"/>
<circle cx="293.1" cy="488.0" r="3.5" fill="#bcb0de" opacity="0.55"/><circle cx="293.1" cy="488.0" r="2.4" fill="#6a5cb2"/><circle cx="293.3" cy="488.2" r="1.5" fill="#4d4196"/>
<circle cx="303.9" cy="489.9" r="3.5" fill="#bcb0de" opacity="0.55"/><circle cx="303.9" cy="489.9" r="2.4" fill="#6a5cb2"/><circle cx="304.1" cy="490.2" r="1.5" fill="#4d4196"/>
<circle cx="179.7" cy="488.4" r="3.6" fill="#cdc0e4" opacity="0.65"/><circle cx="179.7" cy="488.4" r="1.6" fill="#6c5cae"/>
<circle cx="184.0" cy="493.9" r="3.5" fill="#bcb0de" opacity="0.55"/><circle cx="184.0" cy="493.9" r="2.4" fill="#6a5cb2"/><circle cx="184.3" cy="494.2" r="1.5" fill="#4d4196"/>
<circle cx="183.5" cy="501.1" r="3.2" fill="#d2a8d6" opacity="0.6"/><circle cx="183.5" cy="501.1" r="2.4" fill="#9c70b8"/><circle cx="183.5" cy="501.1" r="1.3" fill="#6a4a9e"/>
<circle cx="200.8" cy="497.5" r="3.5" fill="#bcb0de" opacity="0.55"/><circle cx="200.8" cy="497.5" r="2.4" fill="#6a5cb2"/><circle cx="201.0" cy="497.8" r="1.5" fill="#4d4196"/>
<circle cx="199.6" cy="502.8" r="3.6" fill="#cdc0e4" opacity="0.65"/><circle cx="199.6" cy="502.8" r="1.6" fill="#6c5cae"/>
<circle cx="229.5" cy="491.5" r="3.5" fill="#bcb0de" opacity="0.55"/><circle cx="229.5" cy="491.5" r="2.4" fill="#6a5cb2"/><circle cx="229.8" cy="491.8" r="1.5" fill="#4d4196"/>
<circle cx="242.7" cy="507.6" r="3.5" fill="#bcb0de" opacity="0.55"/><circle cx="242.7" cy="507.6" r="2.4" fill="#6a5cb2"/><circle cx="243.0" cy="507.9" r="1.5" fill="#4d4196"/>
<circle cx="281.1" cy="503.5" r="3.5" fill="#bcb0de" opacity="0.55"/><circle cx="281.1" cy="503.5" r="2.4" fill="#6a5cb2"/><circle cx="281.4" cy="503.8" r="1.5" fill="#4d4196"/>
<circle cx="312.2" cy="516.7" r="3.5" fill="#bcb0de" opacity="0.55"/><circle cx="312.2" cy="516.7" r="2.4" fill="#6a5cb2"/><circle cx="312.5" cy="517.0" r="1.5" fill="#4d4196"/>
<circle cx="170.8" cy="515.5" r="3.5" fill="#bcb0de" opacity="0.55"/><circle cx="170.8" cy="515.5" r="2.4" fill="#6a5cb2"/><circle cx="171.1" cy="515.8" r="1.5" fill="#4d4196"/>
<circle cx="197.2" cy="539.5" r="3.5" fill="#bcb0de" opacity="0.55"/><circle cx="197.2" cy="539.5" r="2.4" fill="#6a5cb2"/><circle cx="197.4" cy="539.8" r="1.5" fill="#4d4196"/>
<circle cx="205.6" cy="538.8" r="3.5" fill="#bcb0de" opacity="0.55"/><circle cx="205.6" cy="538.8" r="2.4" fill="#6a5cb2"/><circle cx="205.8" cy="539.1" r="1.5" fill="#4d4196"/>
<circle cx="228.3" cy="540.7" r="3.5" fill="#bcb0de" opacity="0.55"/><circle cx="228.3" cy="540.7" r="2.4" fill="#6a5cb2"/><circle cx="228.6" cy="541.0" r="1.5" fill="#4d4196"/>
<circle cx="231.9" cy="538.3" r="3.2" fill="#d2a8d6" opacity="0.6"/><circle cx="231.9" cy="538.3" r="2.4" fill="#9c70b8"/><circle cx="231.9" cy="538.3" r="1.3" fill="#6a4a9e"/>
<circle cx="248.7" cy="543.6" r="3.5" fill="#bcb0de" opacity="0.55"/><circle cx="248.7" cy="543.6" r="2.4" fill="#6a5cb2"/><circle cx="249.0" cy="543.9" r="1.5" fill="#4d4196"/>
<circle cx="257.1" cy="546.7" r="3.5" fill="#bcb0de" opacity="0.55"/><circle cx="257.1" cy="546.7" r="2.4" fill="#6a5cb2"/><circle cx="257.4" cy="547.0" r="1.5" fill="#4d4196"/>
<circle cx="263.1" cy="541.9" r="3.5" fill="#bcb0de" opacity="0.55"/><circle cx="263.1" cy="541.9" r="2.4" fill="#6a5cb2"/><circle cx="263.4" cy="542.2" r="1.5" fill="#4d4196"/>
<circle cx="279.9" cy="541.9" r="3.5" fill="#bcb0de" opacity="0.55"/><circle cx="279.9" cy="541.9" r="2.4" fill="#6a5cb2"/><circle cx="280.2" cy="542.2" r="1.5" fill="#4d4196"/>
<circle cx="287.1" cy="543.1" r="3.5" fill="#bcb0de" opacity="0.55"/><circle cx="287.1" cy="543.1" r="2.4" fill="#6a5cb2"/><circle cx="287.4" cy="543.4" r="1.5" fill="#4d4196"/>
<circle cx="296.7" cy="545.5" r="3.5" fill="#bcb0de" opacity="0.55"/><circle cx="296.7" cy="545.5" r="2.4" fill="#6a5cb2"/><circle cx="296.9" cy="545.8" r="1.5" fill="#4d4196"/>
<circle cx="272.7" cy="551.5" r="3.5" fill="#bcb0de" opacity="0.55"/><circle cx="272.7" cy="551.5" r="2.4" fill="#6a5cb2"/><circle cx="273.0" cy="551.8" r="1.5" fill="#4d4196"/>
<circle cx="213.9" cy="550.3" r="3.5" fill="#bcb0de" opacity="0.55"/><circle cx="213.9" cy="550.3" r="2.4" fill="#6a5cb2"/><circle cx="214.2" cy="550.6" r="1.5" fill="#4d4196"/>
<circle cx="223.5" cy="552.2" r="3.5" fill="#bcb0de" opacity="0.55"/><circle cx="223.5" cy="552.2" r="2.4" fill="#6a5cb2"/><circle cx="223.8" cy="552.5" r="1.5" fill="#4d4196"/>
<circle cx="180.4" cy="551.5" r="3.2" fill="#d2a8d6" opacity="0.6"/><circle cx="180.4" cy="551.5" r="2.4" fill="#9c70b8"/><circle cx="180.4" cy="551.5" r="1.3" fill="#6a4a9e"/>
<circle cx="299.1" cy="551.5" r="3.5" fill="#bcb0de" opacity="0.55"/><circle cx="299.1" cy="551.5" r="2.4" fill="#6a5cb2"/><circle cx="299.3" cy="551.8" r="1.5" fill="#4d4196"/>
<circle cx="224.7" cy="471.2" r="3.5" fill="#bcb0de" opacity="0.55"/><circle cx="224.7" cy="471.2" r="2.4" fill="#6a5cb2"/><circle cx="225.0" cy="471.5" r="1.5" fill="#4d4196"/>
<circle cx="215.6" cy="476.4" r="1.8" fill="#cf98c4" opacity="0.8"/>
<circle cx="291.9" cy="509.5" r="1.8" fill="#cf98c4" opacity="0.8"/>
<circle cx="182.8" cy="513.1" r="1.8" fill="#cf98c4" opacity="0.8"/>
<circle cx="198.4" cy="527.5" r="1.8" fill="#cf98c4" opacity="0.8"/>
<circle cx="211.5" cy="462.8" r="1.8" fill="#cf98c4" opacity="0.8"/>
<circle cx="296.7" cy="526.6" r="1.0" fill="#3e3184"/>
<circle cx="225.3" cy="471.6" r="0.7" fill="#3e3184"/>
<circle cx="174.9" cy="547.5" r="1.1" fill="#3e3184"/>
<circle cx="278.5" cy="454.4" r="1.1" fill="#3e3184"/>
<circle cx="261.0" cy="496.5" r="0.7" fill="#3e3184"/>
<circle cx="284.0" cy="514.8" r="0.8" fill="#3e3184"/>
<circle cx="218.5" cy="473.2" r="0.8" fill="#3e3184"/>
<circle cx="303.9" cy="450.2" r="1.1" fill="#3e3184"/>
<circle cx="301.1" cy="528.1" r="1.0" fill="#3e3184"/>
<circle cx="238.6" cy="476.1" r="1.0" fill="#3e3184"/>
<circle cx="283.6" cy="448.4" r="0.9" fill="#3e3184"/>
<circle cx="184.2" cy="495.6" r="0.6" fill="#3e3184"/>
<circle cx="251.5" cy="522.2" r="1.1" fill="#3e3184"/>
<circle cx="252.7" cy="476.0" r="0.9" fill="#3e3184"/>
<circle cx="245.4" cy="476.1" r="1.1" fill="#3e3184"/>
<circle cx="177.8" cy="482.6" r="0.7" fill="#3e3184"/>
<circle cx="270.1" cy="534.1" r="1.2" fill="#3e3184"/>
<circle cx="255.3" cy="548.4" r="0.9" fill="#3e3184"/>
<circle cx="253.2" cy="462.2" r="1.1" fill="#3e3184"/>
<circle cx="305.1" cy="470.0" r="0.7" fill="#3e3184"/>
<circle cx="305.2" cy="527.8" r="0.9" fill="#3e3184"/>
<circle cx="312.7" cy="505.6" r="0.7" fill="#3e3184"/>
<circle cx="217.0" cy="455.3" r="1.2" fill="#3e3184"/>
<circle cx="298.4" cy="525.5" r="0.9" fill="#3e3184"/>
<circle cx="263.0" cy="485.2" r="0.8" fill="#3e3184"/>
</g></g>
<path d="M168.4 335.7V553.2M22 444.3H314.6" stroke="#333" stroke-width="1" fill="none"/>
<path d="M130.7 438.8H163.0" stroke="#222" stroke-width="0.9"/>
<text x="146.7" y="437.3" font-size="2.8" font-weight="bold" text-anchor="middle" fill="#333">100 um</text>
<path d="M277 438.8H309.3" stroke="#222" stroke-width="0.9"/>
<text x="293.0" y="437.3" font-size="2.8" font-weight="bold" text-anchor="middle" fill="#333">100 um</text>
<path d="M130.7 548H163.0" stroke="#222" stroke-width="0.9"/>
<text x="146.7" y="546.5" font-size="2.8" font-weight="bold" text-anchor="middle" fill="#333">100 um</text>
<path d="M277 548H309.3" stroke="#222" stroke-width="0.9"/>
<text x="293.0" y="546.5" font-size="2.8" font-weight="bold" text-anchor="middle" fill="#333">100 um</text>
<text x="13.2" y="327.8" font-size="14" font-weight="bold" fill="#1a1a1a" stroke="#1a1a1a" stroke-width="0.3">D</text>
<text x="76.2" y="331.9" font-size="14.5" font-weight="bold" font-style="italic" fill="#1a1a1a">Ahr<tspan dy="-5.5" font-size="10">+/-</tspan></text>
<text x="219.5" y="330.9" font-size="14.5" font-weight="bold" font-style="italic" fill="#1a1a1a">Ahr<tspan dy="-5.5" font-size="10">-/-</tspan></text>
<g transform="translate(17.3,391.6) rotate(-90)"><text x="0" y="5" font-size="13.5" font-weight="bold" text-anchor="middle" fill="#1a1a1a" stroke="#1a1a1a" stroke-width="0.25" textLength="21" lengthAdjust="spacingAndGlyphs">Air</text></g>
<g transform="translate(13.2,503.5) rotate(-90)"><text x="0" y="5" font-size="13.5" font-weight="bold" text-anchor="middle" fill="#1a1a1a" stroke="#1a1a1a" stroke-width="0.25" textLength="68.6" lengthAdjust="spacingAndGlyphs">Cannabis</text></g>
<circle cx="63.7" cy="86.7" r="10.5" fill="#e4c6c1"/><circle cx="63.7" cy="87.2" r="7.5" fill="#edd3cf"/>
<circle cx="138.9" cy="86.7" r="10.5" fill="#e4c6c1"/><circle cx="138.9" cy="87.2" r="7.5" fill="#edd3cf"/>
<path d="M57.5 196.5 C58.1 192.4 60.4 183.3 60.5 176.0 C60.6 168.7 60.9 165.1 58.0 160.0 C55.1 154.9 51.4 155.1 46.0 150.5 C40.6 145.9 35.8 143.5 31.0 137.0 C26.2 130.5 23.0 122.8 22.0 118.0 C21.0 113.2 20.6 111.7 26.0 113.0 C31.4 114.3 42.6 123.2 49.0 124.5 C55.4 125.8 54.1 121.5 58.0 119.5 C61.9 117.5 66.5 116.7 68.3 114.6 C70.1 112.5 67.7 111.5 66.9 109.0 C66.1 106.5 64.1 105.0 64.1 101.9 C64.1 98.8 65.8 97.4 66.9 93.5 C68.0 89.6 68.3 85.9 69.7 82.2 C71.1 78.5 71.5 77.9 74.0 75.1 C76.5 72.3 79.6 70.9 82.4 68.1 C85.2 65.3 86.4 64.4 88.1 61.0 C89.8 57.6 89.5 54.9 90.9 51.2 C92.3 47.5 93.6 45.4 95.1 42.7 C96.6 40.0 97.3 38.8 98.5 37.5 C99.7 36.2 100.2 36.3 101.3 36.3 C102.4 36.3 102.9 36.2 104.1 37.5 C105.3 38.8 106.0 40.0 107.5 42.7 C109.0 45.4 110.3 47.5 111.7 51.2 C113.1 54.9 112.8 57.6 114.5 61.0 C116.2 64.4 117.4 65.3 120.2 68.1 C123.0 70.9 126.1 72.3 128.6 75.1 C131.1 77.9 131.5 78.5 132.9 82.2 C134.3 85.9 134.6 89.6 135.7 93.5 C136.8 97.4 138.5 98.8 138.5 101.9 C138.5 105.0 136.5 106.5 135.7 109.0 C134.9 111.5 132.5 112.5 134.3 114.6 C136.1 116.7 140.7 117.5 144.6 119.5 C148.5 121.5 147.2 125.8 153.6 124.5 C160.0 123.2 171.2 114.3 176.6 113.0 C182.0 111.7 181.6 113.2 180.6 118.0 C179.6 122.8 176.4 130.5 171.6 137.0 C166.8 143.5 162.0 145.9 156.6 150.5 C151.2 155.1 147.5 154.9 144.6 160.0 C141.7 165.1 142.0 168.7 142.1 176.0 C142.2 183.3 144.5 192.4 145.1 196.5Z" fill="#b1aaa5"/>
<path d="M64.5 104 C75 100 90 95 99.5 95 L101.3 97.5 L103.1 95 C112 95 127 100 138 104 L136 111 C135 113 134.5 114.6 134.3 114.6 L68.3 114.6 C68 113 67 111 66.5 109Z" fill="#aaa39e"/>
<path d="M101.3 48 V58 M97 60 C99 58.5 100.5 58.5 101.3 57 C102 58.5 103.5 58.5 105.6 60" stroke="#98928b" stroke-width="0.6" fill="none"/>
<ellipse cx="101.3" cy="38.6" rx="4" ry="2.6" fill="#e6c2c0"/>
<path d="M96 41 Q88 38 77 37.5 M96 42 Q88 40 79 40.5 M95 44 Q88 45 79 49 M95 45 Q89 48 82 53 M106.6 41 Q114.6 38 125.6 37.5 M106.6 42 Q114.6 40 123.6 40.5 M107.6 44 Q114.6 45 123.6 49 M107.6 45 Q113.6 48 120.6 53" stroke="#8a8580" stroke-width="0.35" fill="none"/>
<path d="M19.0 106 L24.5 116" stroke="#e2c6bf" stroke-width="5.5" stroke-linecap="round"/>
<circle cx="18.5" cy="105.5" r="4.6" fill="#e2c6bf"/>
<path d="M18.5 105.5 L21.5 98.2M18.5 105.5 L15.6 93.2M18.5 105.5 L9.2 96.5M18.5 105.5 L6.8 102.5M18.5 105.5 L8.5 108.5" stroke="#e2c6bf" stroke-width="1.9" stroke-linecap="round"/>
<path d="M183.6 106 L178.1 116" stroke="#e2c6bf" stroke-width="5.5" stroke-linecap="round"/>
<circle cx="184.1" cy="105.5" r="4.6" fill="#e2c6bf"/>
<path d="M184.1 105.5 L181.1 98.2M184.1 105.5 L187.0 93.2M184.1 105.5 L193.4 96.5M184.1 105.5 L195.8 102.5M184.1 105.5 L194.1 108.5" stroke="#e2c6bf" stroke-width="1.9" stroke-linecap="round"/>
<path d="M89.2 124.0 C86.8 123.8 81.8 126.0 79.0 129.0 C76.2 131.9 74.5 136.4 72.7 141.7 C70.9 147.0 68.5 154.9 68.3 160.8 C68.1 166.7 69.0 173.3 71.4 177.3 C73.8 181.3 79.4 184.3 82.8 184.9 C86.2 185.5 89.5 184.3 91.7 181.1 C93.9 177.9 95.7 171.4 96.2 165.9 C96.7 160.4 95.3 154.0 94.9 148.1 C94.5 142.2 94.5 134.3 93.6 130.3 C92.6 126.3 91.6 124.2 89.2 124.0Z" fill="#dc9ba4" stroke="#d08a94" stroke-width="0.6"/>
<path d="M113.3 125.2 C115.2 125.0 119.2 125.5 122.2 127.8 C125.2 130.1 129.0 134.8 131.1 139.2 C133.2 143.6 134.6 149.3 134.9 154.4 C135.2 159.5 134.5 165.7 133.0 169.7 C131.5 173.7 129.1 176.6 126.0 178.5 C122.9 180.4 117.1 181.3 114.6 181.1 C112.1 180.9 111.3 180.3 110.8 177.3 C110.3 174.3 111.2 169.2 111.4 163.3 C111.6 157.4 112.1 147.4 112.0 141.7 C111.9 136.0 110.6 131.8 110.8 129.0 C111.0 126.2 111.4 125.4 113.3 125.2Z" fill="#dc9ba4" stroke="#d08a94" stroke-width="0.6"/>
<path d="M70 148 C78 146 88 143 95 146 M69 160 C78 158 88 156 95 158" stroke="#d78c98" stroke-width="0.5" fill="none"/>
<path d="M96.0 163.0 C97.2 162.2 102.1 163.5 104.0 165.0 C105.9 166.5 107.2 169.5 107.5 172.0 C107.8 174.5 107.2 179.0 106.0 180.0 C104.8 181.0 102.1 179.7 100.5 178.0 C98.9 176.3 97.2 172.5 96.5 170.0 C95.8 167.5 94.8 163.8 96.0 163.0Z" fill="#e08a9a"/>
<rect x="99.4" y="116.4" width="4.4" height="15" fill="#4f7fc4"/>
<path d="M99.4 118.6H103.8M99.4 121.2H103.8M99.4 123.8H103.8M99.4 126.4H103.8M99.4 129H103.8" stroke="#a9c4ea" stroke-width="0.7"/>
<path d="M95.2 140 C94.6 134 95 130 96.5 129 C98.5 129 99.6 133 99.6 138Z" fill="#a8382c"/>
<path d="M104.5 137 C104.8 130 105.2 124.5 107.5 123.6 C110 123.6 110.6 128 110.4 138Z" fill="#a8382c"/>
<path d="M93.7 143.9 C93.6 146.3 93.7 149.6 94.6 152.9 C95.5 156.2 96.7 159.4 98.8 161.8 C100.9 164.2 103.5 165.6 105.9 166.0 C108.3 166.4 110.4 165.8 111.9 164.2 C113.4 162.6 114.0 160.3 114.3 157.1 C114.6 153.9 114.4 150.4 113.7 146.9 C113.0 143.4 112.1 140.0 110.7 137.9 C109.3 135.8 107.9 135.5 105.9 135.5 C103.9 135.5 102.0 137.1 100.0 137.9 C98.0 138.7 96.4 138.6 95.2 139.7 C94.0 140.8 93.8 141.5 93.7 143.9Z" fill="#b03a2c" stroke="#8e2c24" stroke-width="0.5"/>
<path d="M95 143 C97 139 101 140 102 146 C103 153 101 158 98.5 159 C96 156 94.5 150 95 143Z" fill="#c9603e" opacity="0.65"/>
<path d="M104 141 C108 140 112 144 113 152 C113 158 110 162 106 163 C103 158 102 150 104 141Z" fill="#c0503a" opacity="0.6"/>
<path d="M101.5 138 C103 146 104 154 105.5 165" stroke="#a33a2c" stroke-width="0.6" fill="none"/>
<path d="M118 122.2 H219" stroke="#555" stroke-width="0.7" stroke-dasharray="1.3 1.1" fill="none"/>
<path d="M125 161 L205 200.5" stroke="#555" stroke-width="0.7" stroke-dasharray="1.3 1.1" fill="none"/>
<path d="M133 174 L209 184" stroke="#555" stroke-width="0.7" stroke-dasharray="1.3 1.1" fill="none"/>
<circle cx="126" cy="163.5" r="3.8" fill="none" stroke="#d88593" stroke-width="0.5"/>
<path d="M94 165 L73 204" stroke="#555" stroke-width="0.7" stroke-dasharray="1.3 1.1" fill="none"/>
<path d="M113 168 L131 219" stroke="#555" stroke-width="0.7" stroke-dasharray="1.3 1.1" fill="none"/>
<path d="M122 170 L161 246" stroke="#555" stroke-width="0.7" stroke-dasharray="1.3 1.1" fill="none"/>
<circle cx="220.5" cy="154.4" r="32.3" fill="#fff" stroke="#555" stroke-width="0.9"/>
<path d="M212.8 135.5 C214.1 135.8 215.0 135.0 215.4 138.6 C215.8 142.2 215.3 153.7 215.4 157.1 C215.5 160.5 216.2 156.1 215.9 159.2 C215.6 162.3 215.0 172.3 213.8 175.7 C212.6 179.1 211.3 180.2 208.7 179.8 C206.1 179.5 200.5 176.3 198.4 173.6 C196.3 170.8 196.3 166.9 196.3 163.3 C196.3 159.7 197.5 155.3 198.4 152.0 C199.3 148.7 199.9 146.3 201.5 143.7 C203.1 141.1 205.8 137.9 207.7 136.5 C209.6 135.1 211.5 135.2 212.8 135.5Z" fill="#e59ba6" stroke="#d88593" stroke-width="0.5"/>
<path d="M230.3 136.0 C231.9 136.3 234.6 137.9 236.5 140.7 C238.4 143.5 240.7 149.4 241.6 153.0 C242.5 156.6 242.6 159.2 242.1 162.3 C241.6 165.4 240.5 169.3 238.5 171.5 C236.5 173.7 232.4 175.5 230.3 175.7 C228.2 175.9 226.7 175.0 226.2 172.6 C225.7 170.2 227.2 165.5 227.2 161.2 C227.2 156.9 226.2 150.6 226.2 146.8 C226.2 143.0 226.5 140.4 227.2 138.6 C227.9 136.8 228.8 135.7 230.3 136.0Z" fill="#e59ba6" stroke="#d88593" stroke-width="0.5"/>
<path d="M216.0 159.0 C216.7 157.5 220.6 159.2 222.0 161.0 C223.4 162.8 224.2 167.8 224.5 170.0 C224.8 172.2 224.6 174.5 223.5 174.5 C222.4 174.5 219.2 172.6 218.0 170.0 C216.8 167.4 215.3 160.5 216.0 159.0Z" fill="#d37584"/>
<path d="M198 158 C204 157 210 157 215.5 159 M201 146 C206 150 210 152 215 152" stroke="#d88593" stroke-width="0.4" fill="none"/>
<circle cx="195.7" cy="236.2" r="36.4" fill="#fff" stroke="#555" stroke-width="0.9"/>
<path d="M184.5 211 C187 218 188 224 186 230 C184 236 182 240 180 243 M187 214 C190 222 194 230 198 238 M190 220 C196 226 202 228 208 229" stroke="#e49aa0" stroke-width="5.2" fill="none" stroke-linecap="round"/>
<path d="M184.5 211 C187 218 188 224 186 230 C184 236 182 240 180 243 M187 214 C190 222 194 230 198 238 M190 220 C196 226 202 228 208 229" stroke="#f3c2c2" stroke-width="3.6" fill="none" stroke-linecap="round"/>
<path d="M192 209 C196 218 206 220 222 224 M194 216 C200 222 210 224 223 226" stroke="#c88a9a" stroke-width="0.5" fill="none"/>
<ellipse cx="178.6" cy="250.5" rx="7.8" ry="10.7" transform="rotate(15 178.6 250.5)" fill="#f0a9aa" stroke="#e39298" stroke-width="0.8"/>
<circle cx="175.1" cy="245.7" r="2.3" fill="#ec9ea2" stroke="#dc8a92" stroke-width="0.35"/>
<circle cx="181.7" cy="246.2" r="2.3" fill="#ec9ea2" stroke="#dc8a92" stroke-width="0.35"/>
<circle cx="175.1" cy="254.2" r="2.3" fill="#ec9ea2" stroke="#dc8a92" stroke-width="0.35"/>
<circle cx="181.7" cy="254.8" r="2.3" fill="#ec9ea2" stroke="#dc8a92" stroke-width="0.35"/>
<circle cx="178.6" cy="250.5" r="2.3" fill="#ec9ea2" stroke="#dc8a92" stroke-width="0.35"/>
<circle cx="178.6" cy="242.5" r="2.3" fill="#ec9ea2" stroke="#dc8a92" stroke-width="0.35"/>
<circle cx="178.6" cy="258.5" r="2.3" fill="#ec9ea2" stroke="#dc8a92" stroke-width="0.35"/>
<ellipse cx="200.9" cy="247.3" rx="10.5" ry="12.9" transform="rotate(-20 200.9 247.3)" fill="#f0a9aa" stroke="#e39298" stroke-width="0.8"/>
<circle cx="196.2" cy="241.5" r="3.1" fill="#ec9ea2" stroke="#dc8a92" stroke-width="0.35"/>
<circle cx="205.1" cy="242.1" r="3.1" fill="#ec9ea2" stroke="#dc8a92" stroke-width="0.35"/>
<circle cx="196.2" cy="251.8" r="3.1" fill="#ec9ea2" stroke="#dc8a92" stroke-width="0.35"/>
<circle cx="205.1" cy="252.5" r="3.1" fill="#ec9ea2" stroke="#dc8a92" stroke-width="0.35"/>
<circle cx="200.9" cy="247.3" r="3.1" fill="#ec9ea2" stroke="#dc8a92" stroke-width="0.35"/>
<circle cx="200.9" cy="237.6" r="3.1" fill="#ec9ea2" stroke="#dc8a92" stroke-width="0.35"/>
<circle cx="200.9" cy="257.0" r="3.1" fill="#ec9ea2" stroke="#dc8a92" stroke-width="0.35"/>
<ellipse cx="215" cy="229.8" rx="8.8" ry="8.6" transform="rotate(0 215 229.8)" fill="#f0a9aa" stroke="#e39298" stroke-width="0.8"/>
<circle cx="211.0" cy="225.9" r="2.6" fill="#ec9ea2" stroke="#dc8a92" stroke-width="0.35"/>
<circle cx="218.5" cy="226.4" r="2.6" fill="#ec9ea2" stroke="#dc8a92" stroke-width="0.35"/>
<circle cx="211.0" cy="232.8" r="2.6" fill="#ec9ea2" stroke="#dc8a92" stroke-width="0.35"/>
<circle cx="218.5" cy="233.2" r="2.6" fill="#ec9ea2" stroke="#dc8a92" stroke-width="0.35"/>
<circle cx="215.0" cy="229.8" r="2.6" fill="#ec9ea2" stroke="#dc8a92" stroke-width="0.35"/>
<circle cx="215.0" cy="223.4" r="2.6" fill="#ec9ea2" stroke="#dc8a92" stroke-width="0.35"/>
<circle cx="215.0" cy="236.2" r="2.6" fill="#ec9ea2" stroke="#dc8a92" stroke-width="0.35"/>
<circle cx="99.3" cy="232.9" r="35" fill="#d9524e"/>
<circle cx="99.3" cy="232.9" r="30.5" fill="#e77a76"/>
<circle cx="99.3" cy="232.9" r="27" fill="#f3b3b0"/>
<circle cx="99.3" cy="232.9" r="35" fill="none" stroke="#b8403c" stroke-width="0.7"/>
<ellipse cx="87" cy="225" rx="3.5" ry="2.2" transform="rotate(-30 87 225)" fill="#c4282e"/>
<ellipse cx="83" cy="240" rx="3.6" ry="2.2" transform="rotate(30 83 240)" fill="#c4282e"/>
<ellipse cx="98" cy="239" rx="2.5" ry="1.8" transform="rotate(0 98 239)" fill="#c4282e"/>
<ellipse cx="110" cy="223" rx="3.5" ry="2.2" transform="rotate(40 110 223)" fill="#c4282e"/>
<ellipse cx="105" cy="252" rx="3.6" ry="2.4" transform="rotate(-20 105 252)" fill="#c4282e"/>
<ellipse cx="96" cy="216" rx="2.2" ry="1.5" transform="rotate(0 96 216)" fill="#c4282e"/>
<circle cx="94" cy="220" r="4.5" fill="#a99ad6"/>
<circle cx="94" cy="246" r="4.5" fill="#a99ad6"/>
<circle cx="77" cy="229" r="3.2" fill="#d9a0d0"/>
<circle cx="106" cy="233" r="3.6" fill="#dca6d4"/>
<circle cx="113" cy="236" r="3" fill="#d9a0d0"/>
<circle cx="82" cy="218" r="1.3" fill="#fff"/>
<circle cx="88" cy="232" r="1.3" fill="#fff"/>
<circle cx="101" cy="228" r="1.3" fill="#fff"/>
<circle cx="116" cy="229" r="1.3" fill="#fff"/>
<circle cx="77" cy="240" r="1.3" fill="#fff"/>
<circle cx="90" cy="247" r="1.3" fill="#fff"/>
<circle cx="109" cy="244" r="1.3" fill="#fff"/>
<circle cx="117" cy="214" r="1.3" fill="#fff"/>
<circle cx="92" cy="211" r="1.3" fill="#fff"/>
<circle cx="101" cy="252" r="1.3" fill="#fff"/>
<text x="13" y="27.4" font-size="14" font-weight="bold" fill="#1a1a1a" stroke="#1a1a1a" stroke-width="0.3">A</text>
<text x="14.0" y="210.3" font-size="9.8" font-weight="normal" text-anchor="start" fill="#222" textLength="26.2" lengthAdjust="spacingAndGlyphs">Blood</text>
<path d="M9 214.8H69" stroke="#777" stroke-width="0.8"/>
<circle cx="14" cy="225.7" r="6.5" fill="#eeaacb"/><path d="M12 223 C15 222 16 225 14 226 C12 227 14 229 16 228" stroke="#c76a9d" stroke-width="1.2" fill="none"/>
<circle cx="14" cy="239.2" r="6" fill="#ea9ebc"/><path d="M12 237 C15 236 16 239 13 240 C12 241 14 242 16 241" stroke="#cc6a98" stroke-width="1.2" fill="none"/>
<circle cx="13.3" cy="254.3" r="8" fill="#b49fd9"/><path d="M11 250 C16 249 18 253 15 256 C13 258 11 257 10 255Z" fill="#9a7fc8"/>
<text x="21.4" y="228.0" font-size="6.8" font-weight="normal" text-anchor="start" fill="#262626" textLength="33.9" lengthAdjust="spacingAndGlyphs" stroke="#262626" stroke-width="0.14">Neutrophils</text>
<text x="22.6" y="241.6" font-size="6.8" font-weight="normal" text-anchor="start" fill="#262626" textLength="33.4" lengthAdjust="spacingAndGlyphs" stroke="#262626" stroke-width="0.14">Eosinophils</text>
<text x="22.6" y="256.4" font-size="6.8" font-weight="normal" text-anchor="start" fill="#262626" textLength="32.2" lengthAdjust="spacingAndGlyphs" stroke="#262626" stroke-width="0.14">Monocytes</text>
<text x="262.8" y="178.5" font-size="11.5" font-weight="normal" text-anchor="start" fill="#2a2a2a" textLength="46.6" lengthAdjust="spacingAndGlyphs">Total Lung</text>
<path d="M233 183.6H336" stroke="#555" stroke-width="0.9"/>
<circle cx="239" cy="201.3" r="8" fill="#b0b0e0"/><circle cx="239" cy="201.3" r="6.2" fill="#a6a2dc"/><circle cx="239" cy="201.3" r="3" fill="#7f78c6"/>
<circle cx="243.1" cy="218.2" r="7" fill="#f0a8cc"/><path d="M241 215 C245 214 246 218 243 219 C241 220 243 222 246 221" stroke="#c8609a" stroke-width="1.3" fill="none"/>
<circle cx="310.9" cy="194.7" r="7.9" fill="#c7a6dc"/><path d="M308 190 C314 189 316 195 312 198 C309 200 306 198 305 195Z" fill="#9c72c0"/>
<path d="M310.9 209 V205 M310.9 223 V227 M304 212 L301.5 209.5 M318 212 L320.5 209.5 M304 220 L301.5 222.5 M318 220 L320.5 222.5 M303.5 216 H300" stroke="#aaaad8" stroke-width="0.8"/>
<circle cx="310.9" cy="216.1" r="6.2" fill="#a9a9e2"/><circle cx="310" cy="216.5" r="3.2" fill="#7c74c4"/>
<text x="274.5" y="194.3" font-size="7" font-weight="normal" text-anchor="middle" fill="#262626" textLength="52.7" lengthAdjust="spacingAndGlyphs" stroke="#262626" stroke-width="0.14">Macrophages and</text>
<text x="274.4" y="202.0" font-size="7" font-weight="normal" text-anchor="middle" fill="#262626" textLength="44.7" lengthAdjust="spacingAndGlyphs" stroke="#262626" stroke-width="0.14">subpopulations</text>
<text x="274.5" y="216.7" font-size="7" font-weight="normal" text-anchor="middle" fill="#262626" textLength="47.1" lengthAdjust="spacingAndGlyphs" stroke="#262626" stroke-width="0.14">Neutrophils and</text>
<text x="274.8" y="223.6" font-size="7" font-weight="normal" text-anchor="middle" fill="#262626" textLength="32.4" lengthAdjust="spacingAndGlyphs" stroke="#262626" stroke-width="0.14">Eosinophils</text>
<text x="319.9" y="194.4" font-size="7" font-weight="normal" text-anchor="start" fill="#262626" textLength="45.1" lengthAdjust="spacingAndGlyphs" stroke="#262626" stroke-width="0.14">Monocytes and</text>
<text x="319.9" y="202.1" font-size="7" font-weight="normal" text-anchor="start" fill="#262626" textLength="45.1" lengthAdjust="spacingAndGlyphs" stroke="#262626" stroke-width="0.14">subpopulations</text>
<text x="341.8" y="212.5" font-size="7" font-weight="normal" text-anchor="middle" fill="#262626" textLength="40.8" lengthAdjust="spacingAndGlyphs" stroke="#262626" stroke-width="0.14">Dendritic cells</text>
<text x="342.5" y="220.1" font-size="7" font-weight="normal" text-anchor="middle" fill="#262626" stroke="#262626" stroke-width="0.14">and</text>
<text x="342.4" y="227.7" font-size="7" font-weight="normal" text-anchor="middle" fill="#262626" textLength="45.1" lengthAdjust="spacingAndGlyphs" stroke="#262626" stroke-width="0.14">subpopulations</text>
<text x="241.7" y="269.0" font-size="10" font-weight="normal" text-anchor="start" fill="#2a2a2a" textLength="24" lengthAdjust="spacingAndGlyphs">BALF</text>
<path d="M205 271.9H272" stroke="#555" stroke-width="0.9"/>
<circle cx="220.5" cy="281.7" r="7" fill="#b2b2e2"/><circle cx="220.5" cy="281.7" r="5.3" fill="#a8a4dc"/><circle cx="220.5" cy="281.9" r="2.7" fill="#7f78c6"/>
<rect x="215.4" y="290.1" width="9.4" height="14.1" fill="#e5d6c8" stroke="#cfc0b0" stroke-width="0.5"/><circle cx="220.1" cy="300" r="1.2" fill="#c4a890"/>
<circle cx="221.9" cy="313.6" r="6.8" fill="#efa6cc"/><path d="M219.5 310.5 C223.5 309.5 224.5 313.5 221.5 314.5 C219.5 315.5 221.5 317.5 224.5 316.5" stroke="#c8609a" stroke-width="1.3" fill="none"/>
<text x="234.0" y="283.6" font-size="6.6" font-weight="normal" text-anchor="start" fill="#262626" textLength="40.1" lengthAdjust="spacingAndGlyphs" stroke="#262626" stroke-width="0.14">Macrophages</text>
<text x="234.0" y="300.2" font-size="6.6" font-weight="normal" text-anchor="start" fill="#262626" textLength="41.5" lengthAdjust="spacingAndGlyphs" stroke="#262626" stroke-width="0.14">Epithelial Cells</text>
<text x="236.0" y="315.6" font-size="6.6" font-weight="normal" text-anchor="start" fill="#262626" textLength="33.9" lengthAdjust="spacingAndGlyphs" stroke="#262626" stroke-width="0.14">Neutrophils</text>
</svg>
</body></html>
